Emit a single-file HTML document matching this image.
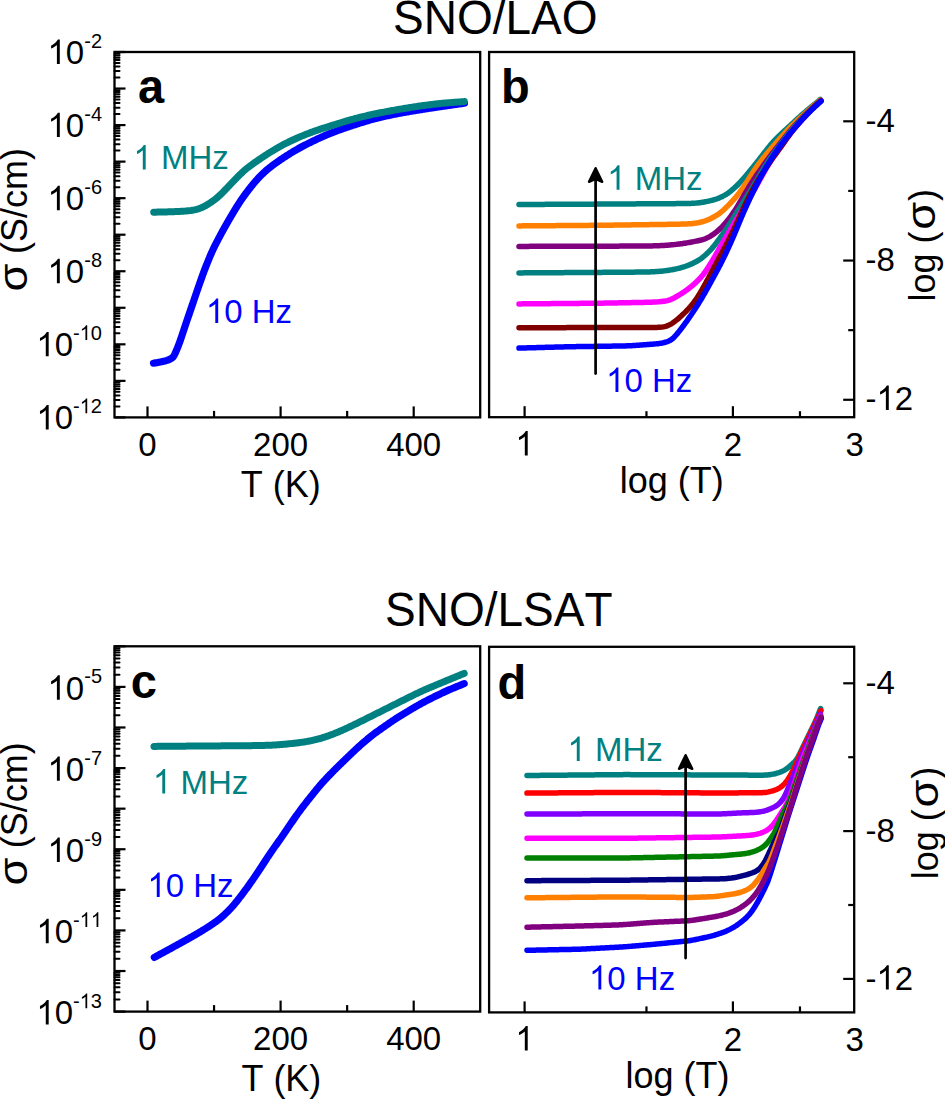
<!DOCTYPE html>
<html><head><meta charset="utf-8"><style>html,body{margin:0;padding:0;background:#fff;}svg{display:block;}</style></head>
<body><svg width="945" height="1099" viewBox="0 0 945 1099" font-family="Liberation Sans, sans-serif" style="font-kerning:none">
<rect width="945" height="1099" fill="#fff"/>
<g transform="translate(393.00,34.10) scale(1,1.03)" fill="#000"><text x="0.00" y="0" font-size="46" xml:space="preserve">SNO/LAO</text></g>
<g transform="translate(385.00,626.30) scale(1,1.03)" fill="#000"><text x="0.00" y="0" font-size="46" xml:space="preserve">SNO/LSAT</text></g>
<path d="M153.50,363.20 L154.50,363.02 L155.49,362.85 L156.47,362.67 L157.77,362.43 L159.05,362.19 L160.30,361.95 L161.50,361.70 L162.66,361.45 L163.77,361.20 L164.82,360.94 L165.80,360.68 L166.93,360.35 L167.94,360.02 L169.01,359.62 L170.06,359.16 L171.03,358.64 L171.89,358.06 L172.69,357.36 L173.39,356.54 L173.95,355.67 L174.48,354.70 L174.95,353.75 L175.41,352.75 L175.86,351.75 L176.27,350.81 L176.72,349.77 L177.19,348.62 L177.59,347.64 L178.00,346.59 L178.42,345.50 L178.85,344.35 L179.29,343.17 L179.73,341.95 L180.17,340.70 L180.51,339.75 L180.84,338.79 L181.17,337.82 L181.51,336.85 L181.84,335.86 L182.17,334.88 L182.51,333.89 L182.84,332.90 L183.17,331.91 L183.51,330.91 L183.84,329.92 L184.17,328.92 L184.50,327.92 L184.83,326.93 L185.17,325.93 L185.50,324.93 L185.83,323.94 L186.16,322.94 L186.50,321.94 L186.83,320.95 L187.17,319.95 L187.51,318.96 L187.84,317.96 L188.18,316.97 L188.52,315.97 L188.86,314.98 L189.20,313.98 L189.54,312.99 L189.88,311.99 L190.22,311.00 L190.56,310.00 L190.90,309.01 L191.24,308.02 L191.58,307.02 L191.92,306.03 L192.26,305.03 L192.60,304.04 L192.94,303.04 L193.27,302.05 L193.61,301.05 L193.95,300.06 L194.29,299.06 L194.63,298.07 L194.97,297.07 L195.31,296.08 L195.65,295.09 L195.99,294.09 L196.33,293.10 L196.68,292.10 L197.02,291.11 L197.36,290.12 L197.70,289.12 L198.05,288.13 L198.39,287.14 L198.74,286.14 L199.08,285.15 L199.43,284.16 L199.77,283.17 L200.12,282.17 L200.47,281.18 L200.82,280.19 L201.17,279.20 L201.52,278.21 L201.87,277.22 L202.22,276.23 L202.58,275.24 L202.94,274.26 L203.30,273.27 L203.67,272.29 L204.04,271.30 L204.41,270.32 L204.79,269.34 L205.16,268.36 L205.54,267.38 L205.93,266.40 L206.31,265.42 L206.70,264.44 L207.09,263.47 L207.48,262.49 L207.87,261.52 L208.27,260.55 L208.66,259.57 L209.06,258.60 L209.47,257.63 L209.87,256.66 L210.28,255.70 L210.70,254.73 L211.12,253.77 L211.54,252.81 L211.97,251.85 L212.41,250.90 L212.85,249.94 L213.30,248.99 L213.75,248.05 L214.21,247.10 L214.67,246.16 L215.14,245.22 L215.61,244.29 L216.09,243.35 L216.57,242.42 L217.06,241.48 L217.54,240.55 L218.03,239.62 L218.52,238.69 L219.01,237.77 L219.51,236.84 L220.00,235.91 L220.50,234.99 L221.00,234.06 L221.50,233.14 L222.00,232.21 L222.50,231.29 L223.01,230.37 L223.51,229.45 L224.02,228.53 L224.53,227.61 L225.05,226.69 L225.56,225.78 L226.08,224.86 L226.60,223.95 L227.12,223.03 L227.64,222.12 L228.16,221.21 L228.69,220.30 L229.21,219.39 L229.74,218.48 L230.27,217.58 L230.81,216.67 L231.34,215.77 L231.88,214.86 L232.41,213.96 L232.95,213.06 L233.50,212.16 L234.04,211.26 L234.58,210.36 L235.13,209.46 L235.68,208.57 L236.23,207.67 L236.79,206.78 L237.35,205.89 L237.91,205.01 L238.47,204.12 L239.04,203.24 L239.62,202.36 L240.20,201.48 L240.78,200.61 L241.37,199.74 L241.96,198.88 L242.56,198.02 L243.17,197.16 L243.78,196.30 L244.39,195.45 L245.01,194.60 L245.63,193.76 L246.26,192.92 L246.89,192.08 L247.52,191.24 L248.16,190.40 L248.80,189.57 L249.44,188.74 L250.09,187.91 L250.74,187.08 L251.39,186.26 L252.05,185.44 L252.71,184.63 L253.38,183.82 L254.05,183.01 L254.73,182.21 L255.41,181.42 L256.10,180.63 L256.80,179.85 L257.50,179.07 L258.21,178.30 L258.93,177.53 L259.65,176.77 L260.39,176.02 L261.12,175.28 L261.87,174.54 L262.62,173.81 L263.38,173.09 L264.14,172.37 L264.92,171.67 L265.70,170.97 L266.48,170.28 L267.28,169.59 L268.08,168.92 L268.89,168.26 L269.71,167.60 L270.53,166.95 L271.36,166.31 L272.19,165.67 L273.03,165.04 L273.87,164.42 L274.72,163.80 L275.57,163.19 L276.43,162.58 L277.29,161.98 L278.15,161.38 L279.02,160.78 L279.88,160.19 L280.75,159.60 L281.62,159.01 L282.50,158.43 L283.37,157.85 L284.25,157.27 L285.13,156.69 L286.01,156.12 L286.89,155.55 L287.78,154.98 L288.66,154.42 L289.55,153.86 L290.44,153.31 L291.34,152.75 L292.23,152.21 L293.13,151.66 L294.03,151.13 L294.94,150.59 L295.85,150.07 L296.76,149.54 L297.67,149.03 L298.59,148.52 L299.51,148.01 L300.43,147.51 L301.36,147.01 L302.28,146.52 L303.21,146.03 L304.14,145.54 L305.08,145.06 L306.01,144.58 L306.95,144.11 L307.89,143.63 L308.82,143.16 L309.77,142.70 L310.71,142.23 L311.65,141.77 L312.60,141.31 L313.54,140.85 L314.49,140.40 L315.44,139.95 L316.39,139.50 L317.34,139.06 L318.29,138.61 L319.25,138.17 L320.20,137.73 L321.16,137.30 L322.12,136.87 L323.08,136.44 L324.04,136.01 L325.00,135.59 L325.96,135.17 L326.93,134.76 L327.89,134.35 L328.86,133.95 L329.84,133.55 L330.81,133.16 L331.79,132.78 L332.76,132.39 L333.74,132.02 L334.73,131.65 L335.71,131.28 L336.70,130.92 L337.68,130.56 L338.67,130.21 L339.66,129.85 L340.65,129.50 L341.64,129.15 L342.64,128.81 L343.63,128.46 L344.62,128.12 L345.62,127.78 L346.61,127.44 L347.61,127.10 L348.60,126.76 L349.60,126.43 L350.59,126.10 L351.59,125.77 L352.59,125.44 L353.59,125.11 L354.59,124.79 L355.59,124.47 L356.59,124.14 L357.59,123.83 L358.59,123.51 L359.59,123.19 L360.60,122.88 L361.60,122.57 L362.60,122.26 L363.61,121.95 L364.61,121.64 L365.62,121.34 L366.63,121.04 L367.63,120.74 L368.64,120.45 L369.65,120.16 L370.66,119.88 L371.68,119.60 L372.69,119.32 L373.70,119.05 L374.72,118.78 L375.74,118.52 L376.76,118.27 L377.77,118.01 L378.80,117.76 L379.82,117.52 L380.84,117.28 L381.86,117.03 L382.88,116.80 L383.91,116.56 L384.93,116.33 L385.96,116.09 L386.98,115.86 L388.01,115.63 L389.03,115.41 L390.06,115.19 L391.09,114.97 L392.12,114.75 L393.14,114.53 L394.17,114.32 L395.20,114.12 L396.23,113.91 L397.27,113.71 L398.30,113.51 L399.33,113.32 L400.36,113.13 L401.40,112.94 L402.43,112.75 L403.46,112.57 L404.50,112.38 L405.53,112.20 L406.57,112.02 L407.60,111.84 L408.64,111.66 L409.68,111.48 L410.71,111.31 L411.75,111.13 L412.78,110.95 L413.82,110.78 L414.86,110.60 L415.89,110.43 L416.93,110.26 L417.97,110.09 L419.00,109.92 L420.04,109.75 L421.08,109.58 L422.12,109.42 L423.15,109.25 L424.19,109.09 L425.23,108.93 L426.27,108.77 L427.31,108.61 L428.35,108.45 L429.39,108.29 L430.43,108.13 L431.46,107.97 L432.50,107.82 L433.54,107.66 L434.58,107.51 L435.62,107.35 L436.66,107.19 L437.70,107.04 L438.74,106.89 L439.78,106.73 L440.82,106.58 L441.86,106.43 L442.90,106.28 L443.94,106.12 L444.98,105.97 L446.02,105.82 L447.06,105.67 L448.10,105.52 L449.14,105.37 L450.18,105.23 L451.22,105.08 L452.26,104.93 L453.30,104.78 L454.34,104.63 L455.38,104.48 L456.42,104.33 L457.46,104.19 L458.50,104.04 L459.54,103.89 L460.58,103.74 L461.63,103.59 L462.67,103.45 L463.71,103.30 L464.40,103.20" fill="none" stroke="#0000ff" stroke-width="7.2" stroke-linecap="round" stroke-linejoin="round"/>
<path d="M153.70,212.20 L154.90,212.17 L156.10,212.15 L157.30,212.12 L158.50,212.09 L159.70,212.06 L160.90,212.04 L162.11,212.01 L163.31,211.98 L164.51,211.95 L165.71,211.92 L166.91,211.88 L168.11,211.85 L169.31,211.81 L170.50,211.78 L171.70,211.74 L172.90,211.70 L174.09,211.66 L175.29,211.62 L176.47,211.57 L177.66,211.52 L178.84,211.47 L180.01,211.41 L181.17,211.35 L182.31,211.29 L183.45,211.21 L184.57,211.13 L185.67,211.04 L186.75,210.95 L187.80,210.84 L188.83,210.73 L189.83,210.61 L191.04,210.45 L192.20,210.27 L193.32,210.08 L194.38,209.87 L195.41,209.64 L196.39,209.39 L197.52,209.07 L198.62,208.72 L199.69,208.34 L200.74,207.93 L201.80,207.48 L202.86,207.00 L203.76,206.56 L204.68,206.09 L205.63,205.59 L206.60,205.04 L207.59,204.46 L208.62,203.84 L209.67,203.17 L210.52,202.61 L211.39,202.02 L212.27,201.40 L213.16,200.76 L214.06,200.10 L214.95,199.41 L215.85,198.70 L216.74,197.97 L217.63,197.22 L218.52,196.45 L219.39,195.66 L220.26,194.86 L221.12,194.04 L221.97,193.21 L222.82,192.37 L223.66,191.52 L224.49,190.66 L225.32,189.79 L226.15,188.92 L226.97,188.05 L227.80,187.18 L228.62,186.30 L229.44,185.43 L230.27,184.56 L231.09,183.68 L231.92,182.81 L232.75,181.94 L233.58,181.08 L234.41,180.21 L235.25,179.35 L236.09,178.49 L236.93,177.64 L237.77,176.78 L238.62,175.94 L239.48,175.09 L240.33,174.25 L241.20,173.42 L242.07,172.60 L242.95,171.79 L243.84,170.98 L244.73,170.19 L245.64,169.41 L246.56,168.65 L247.49,167.90 L248.43,167.16 L249.38,166.43 L250.34,165.71 L251.31,165.00 L252.28,164.30 L253.26,163.60 L254.24,162.91 L255.22,162.22 L256.21,161.53 L257.19,160.85 L258.18,160.17 L259.17,159.49 L260.16,158.81 L261.16,158.14 L262.15,157.47 L263.15,156.80 L264.15,156.14 L265.16,155.48 L266.17,154.83 L267.18,154.18 L268.19,153.54 L269.21,152.90 L270.23,152.27 L271.25,151.64 L272.28,151.02 L273.31,150.40 L274.34,149.79 L275.37,149.17 L276.41,148.57 L277.45,147.96 L278.49,147.36 L279.53,146.76 L280.57,146.17 L281.62,145.59 L282.67,145.02 L283.73,144.45 L284.79,143.89 L285.86,143.34 L286.93,142.80 L288.00,142.27 L289.08,141.74 L290.17,141.23 L291.25,140.72 L292.34,140.21 L293.43,139.71 L294.53,139.22 L295.62,138.73 L296.72,138.24 L297.82,137.76 L298.92,137.29 L300.03,136.82 L301.13,136.35 L302.24,135.89 L303.35,135.43 L304.47,134.98 L305.58,134.54 L306.70,134.10 L307.82,133.66 L308.94,133.23 L310.06,132.80 L311.18,132.37 L312.31,131.95 L313.43,131.54 L314.56,131.13 L315.69,130.73 L316.83,130.33 L317.96,129.94 L319.10,129.56 L320.24,129.18 L321.38,128.81 L322.52,128.44 L323.67,128.08 L324.81,127.71 L325.96,127.35 L327.10,127.00 L328.25,126.64 L329.40,126.28 L330.54,125.93 L331.69,125.57 L332.84,125.21 L333.99,124.86 L335.13,124.50 L336.28,124.14 L337.43,123.79 L338.57,123.43 L339.72,123.08 L340.87,122.72 L342.02,122.37 L343.16,122.02 L344.31,121.67 L345.46,121.32 L346.61,120.97 L347.76,120.63 L348.92,120.30 L350.07,119.97 L351.23,119.64 L352.38,119.32 L353.54,119.01 L354.70,118.70 L355.86,118.40 L357.03,118.10 L358.19,117.80 L359.35,117.51 L360.52,117.21 L361.69,116.93 L362.85,116.64 L364.02,116.35 L365.19,116.07 L366.35,115.79 L367.52,115.52 L368.69,115.24 L369.86,114.98 L371.03,114.71 L372.21,114.45 L373.38,114.20 L374.55,113.95 L375.73,113.71 L376.91,113.47 L378.08,113.23 L379.26,113.00 L380.44,112.77 L381.62,112.54 L382.80,112.32 L383.98,112.09 L385.16,111.87 L386.34,111.65 L387.52,111.42 L388.70,111.20 L389.88,110.99 L391.06,110.77 L392.24,110.55 L393.43,110.34 L394.61,110.13 L395.79,109.92 L396.97,109.71 L398.16,109.51 L399.34,109.31 L400.53,109.11 L401.71,108.91 L402.90,108.71 L404.08,108.52 L405.27,108.32 L406.45,108.12 L407.64,107.93 L408.82,107.74 L410.01,107.54 L411.19,107.35 L412.38,107.16 L413.56,106.97 L414.75,106.79 L415.94,106.60 L417.12,106.42 L418.31,106.24 L419.50,106.07 L420.69,105.90 L421.88,105.73 L423.07,105.57 L424.26,105.41 L425.45,105.26 L426.64,105.10 L427.83,104.95 L429.02,104.80 L430.21,104.66 L431.41,104.51 L432.60,104.37 L433.79,104.22 L434.98,104.09 L436.18,103.95 L437.37,103.82 L438.57,103.69 L439.76,103.56 L440.95,103.44 L442.15,103.33 L443.34,103.21 L444.54,103.11 L445.74,103.00 L446.93,102.90 L448.13,102.81 L449.33,102.71 L450.53,102.62 L451.72,102.53 L452.92,102.44 L454.12,102.35 L455.32,102.26 L456.51,102.17 L457.71,102.09 L458.91,102.00 L460.11,101.91 L461.31,101.82 L462.50,101.73 L463.70,101.64 L464.30,101.60" fill="none" stroke="#008080" stroke-width="7" stroke-linecap="round" stroke-linejoin="round"/>
<rect x="114.50" y="52.00" width="365.70" height="365.40" fill="none" stroke="#000" stroke-width="2.3"/>
<line x1="114.50" y1="52.00" x2="125.50" y2="52.00" stroke="#000" stroke-width="2.2" stroke-linecap="butt"/>
<line x1="114.50" y1="77.54" x2="119.50" y2="77.54" stroke="#000" stroke-width="2.0" stroke-linecap="round"/>
<line x1="114.50" y1="71.11" x2="119.50" y2="71.11" stroke="#000" stroke-width="2.0" stroke-linecap="round"/>
<line x1="114.50" y1="66.54" x2="119.50" y2="66.54" stroke="#000" stroke-width="2.0" stroke-linecap="round"/>
<line x1="114.50" y1="63.00" x2="119.50" y2="63.00" stroke="#000" stroke-width="2.0" stroke-linecap="round"/>
<line x1="114.50" y1="60.11" x2="119.50" y2="60.11" stroke="#000" stroke-width="2.0" stroke-linecap="round"/>
<line x1="114.50" y1="57.66" x2="119.50" y2="57.66" stroke="#000" stroke-width="2.0" stroke-linecap="round"/>
<line x1="114.50" y1="55.54" x2="119.50" y2="55.54" stroke="#000" stroke-width="2.0" stroke-linecap="round"/>
<line x1="114.50" y1="53.67" x2="119.50" y2="53.67" stroke="#000" stroke-width="2.0" stroke-linecap="round"/>
<line x1="114.50" y1="88.54" x2="125.50" y2="88.54" stroke="#000" stroke-width="2.2" stroke-linecap="butt"/>
<line x1="114.50" y1="114.08" x2="119.50" y2="114.08" stroke="#000" stroke-width="2.0" stroke-linecap="round"/>
<line x1="114.50" y1="107.65" x2="119.50" y2="107.65" stroke="#000" stroke-width="2.0" stroke-linecap="round"/>
<line x1="114.50" y1="103.08" x2="119.50" y2="103.08" stroke="#000" stroke-width="2.0" stroke-linecap="round"/>
<line x1="114.50" y1="99.54" x2="119.50" y2="99.54" stroke="#000" stroke-width="2.0" stroke-linecap="round"/>
<line x1="114.50" y1="96.65" x2="119.50" y2="96.65" stroke="#000" stroke-width="2.0" stroke-linecap="round"/>
<line x1="114.50" y1="94.20" x2="119.50" y2="94.20" stroke="#000" stroke-width="2.0" stroke-linecap="round"/>
<line x1="114.50" y1="92.08" x2="119.50" y2="92.08" stroke="#000" stroke-width="2.0" stroke-linecap="round"/>
<line x1="114.50" y1="90.21" x2="119.50" y2="90.21" stroke="#000" stroke-width="2.0" stroke-linecap="round"/>
<line x1="114.50" y1="125.08" x2="125.50" y2="125.08" stroke="#000" stroke-width="2.2" stroke-linecap="butt"/>
<line x1="114.50" y1="150.62" x2="119.50" y2="150.62" stroke="#000" stroke-width="2.0" stroke-linecap="round"/>
<line x1="114.50" y1="144.19" x2="119.50" y2="144.19" stroke="#000" stroke-width="2.0" stroke-linecap="round"/>
<line x1="114.50" y1="139.62" x2="119.50" y2="139.62" stroke="#000" stroke-width="2.0" stroke-linecap="round"/>
<line x1="114.50" y1="136.08" x2="119.50" y2="136.08" stroke="#000" stroke-width="2.0" stroke-linecap="round"/>
<line x1="114.50" y1="133.19" x2="119.50" y2="133.19" stroke="#000" stroke-width="2.0" stroke-linecap="round"/>
<line x1="114.50" y1="130.74" x2="119.50" y2="130.74" stroke="#000" stroke-width="2.0" stroke-linecap="round"/>
<line x1="114.50" y1="128.62" x2="119.50" y2="128.62" stroke="#000" stroke-width="2.0" stroke-linecap="round"/>
<line x1="114.50" y1="126.75" x2="119.50" y2="126.75" stroke="#000" stroke-width="2.0" stroke-linecap="round"/>
<line x1="114.50" y1="161.62" x2="125.50" y2="161.62" stroke="#000" stroke-width="2.2" stroke-linecap="butt"/>
<line x1="114.50" y1="187.16" x2="119.50" y2="187.16" stroke="#000" stroke-width="2.0" stroke-linecap="round"/>
<line x1="114.50" y1="180.73" x2="119.50" y2="180.73" stroke="#000" stroke-width="2.0" stroke-linecap="round"/>
<line x1="114.50" y1="176.16" x2="119.50" y2="176.16" stroke="#000" stroke-width="2.0" stroke-linecap="round"/>
<line x1="114.50" y1="172.62" x2="119.50" y2="172.62" stroke="#000" stroke-width="2.0" stroke-linecap="round"/>
<line x1="114.50" y1="169.73" x2="119.50" y2="169.73" stroke="#000" stroke-width="2.0" stroke-linecap="round"/>
<line x1="114.50" y1="167.28" x2="119.50" y2="167.28" stroke="#000" stroke-width="2.0" stroke-linecap="round"/>
<line x1="114.50" y1="165.16" x2="119.50" y2="165.16" stroke="#000" stroke-width="2.0" stroke-linecap="round"/>
<line x1="114.50" y1="163.29" x2="119.50" y2="163.29" stroke="#000" stroke-width="2.0" stroke-linecap="round"/>
<line x1="114.50" y1="198.16" x2="125.50" y2="198.16" stroke="#000" stroke-width="2.2" stroke-linecap="butt"/>
<line x1="114.50" y1="223.70" x2="119.50" y2="223.70" stroke="#000" stroke-width="2.0" stroke-linecap="round"/>
<line x1="114.50" y1="217.27" x2="119.50" y2="217.27" stroke="#000" stroke-width="2.0" stroke-linecap="round"/>
<line x1="114.50" y1="212.70" x2="119.50" y2="212.70" stroke="#000" stroke-width="2.0" stroke-linecap="round"/>
<line x1="114.50" y1="209.16" x2="119.50" y2="209.16" stroke="#000" stroke-width="2.0" stroke-linecap="round"/>
<line x1="114.50" y1="206.27" x2="119.50" y2="206.27" stroke="#000" stroke-width="2.0" stroke-linecap="round"/>
<line x1="114.50" y1="203.82" x2="119.50" y2="203.82" stroke="#000" stroke-width="2.0" stroke-linecap="round"/>
<line x1="114.50" y1="201.70" x2="119.50" y2="201.70" stroke="#000" stroke-width="2.0" stroke-linecap="round"/>
<line x1="114.50" y1="199.83" x2="119.50" y2="199.83" stroke="#000" stroke-width="2.0" stroke-linecap="round"/>
<line x1="114.50" y1="234.70" x2="125.50" y2="234.70" stroke="#000" stroke-width="2.2" stroke-linecap="butt"/>
<line x1="114.50" y1="260.24" x2="119.50" y2="260.24" stroke="#000" stroke-width="2.0" stroke-linecap="round"/>
<line x1="114.50" y1="253.81" x2="119.50" y2="253.81" stroke="#000" stroke-width="2.0" stroke-linecap="round"/>
<line x1="114.50" y1="249.24" x2="119.50" y2="249.24" stroke="#000" stroke-width="2.0" stroke-linecap="round"/>
<line x1="114.50" y1="245.70" x2="119.50" y2="245.70" stroke="#000" stroke-width="2.0" stroke-linecap="round"/>
<line x1="114.50" y1="242.81" x2="119.50" y2="242.81" stroke="#000" stroke-width="2.0" stroke-linecap="round"/>
<line x1="114.50" y1="240.36" x2="119.50" y2="240.36" stroke="#000" stroke-width="2.0" stroke-linecap="round"/>
<line x1="114.50" y1="238.24" x2="119.50" y2="238.24" stroke="#000" stroke-width="2.0" stroke-linecap="round"/>
<line x1="114.50" y1="236.37" x2="119.50" y2="236.37" stroke="#000" stroke-width="2.0" stroke-linecap="round"/>
<line x1="114.50" y1="271.24" x2="125.50" y2="271.24" stroke="#000" stroke-width="2.2" stroke-linecap="butt"/>
<line x1="114.50" y1="296.78" x2="119.50" y2="296.78" stroke="#000" stroke-width="2.0" stroke-linecap="round"/>
<line x1="114.50" y1="290.35" x2="119.50" y2="290.35" stroke="#000" stroke-width="2.0" stroke-linecap="round"/>
<line x1="114.50" y1="285.78" x2="119.50" y2="285.78" stroke="#000" stroke-width="2.0" stroke-linecap="round"/>
<line x1="114.50" y1="282.24" x2="119.50" y2="282.24" stroke="#000" stroke-width="2.0" stroke-linecap="round"/>
<line x1="114.50" y1="279.35" x2="119.50" y2="279.35" stroke="#000" stroke-width="2.0" stroke-linecap="round"/>
<line x1="114.50" y1="276.90" x2="119.50" y2="276.90" stroke="#000" stroke-width="2.0" stroke-linecap="round"/>
<line x1="114.50" y1="274.78" x2="119.50" y2="274.78" stroke="#000" stroke-width="2.0" stroke-linecap="round"/>
<line x1="114.50" y1="272.91" x2="119.50" y2="272.91" stroke="#000" stroke-width="2.0" stroke-linecap="round"/>
<line x1="114.50" y1="307.78" x2="125.50" y2="307.78" stroke="#000" stroke-width="2.2" stroke-linecap="butt"/>
<line x1="114.50" y1="333.32" x2="119.50" y2="333.32" stroke="#000" stroke-width="2.0" stroke-linecap="round"/>
<line x1="114.50" y1="326.89" x2="119.50" y2="326.89" stroke="#000" stroke-width="2.0" stroke-linecap="round"/>
<line x1="114.50" y1="322.32" x2="119.50" y2="322.32" stroke="#000" stroke-width="2.0" stroke-linecap="round"/>
<line x1="114.50" y1="318.78" x2="119.50" y2="318.78" stroke="#000" stroke-width="2.0" stroke-linecap="round"/>
<line x1="114.50" y1="315.89" x2="119.50" y2="315.89" stroke="#000" stroke-width="2.0" stroke-linecap="round"/>
<line x1="114.50" y1="313.44" x2="119.50" y2="313.44" stroke="#000" stroke-width="2.0" stroke-linecap="round"/>
<line x1="114.50" y1="311.32" x2="119.50" y2="311.32" stroke="#000" stroke-width="2.0" stroke-linecap="round"/>
<line x1="114.50" y1="309.45" x2="119.50" y2="309.45" stroke="#000" stroke-width="2.0" stroke-linecap="round"/>
<line x1="114.50" y1="344.32" x2="125.50" y2="344.32" stroke="#000" stroke-width="2.2" stroke-linecap="butt"/>
<line x1="114.50" y1="369.86" x2="119.50" y2="369.86" stroke="#000" stroke-width="2.0" stroke-linecap="round"/>
<line x1="114.50" y1="363.43" x2="119.50" y2="363.43" stroke="#000" stroke-width="2.0" stroke-linecap="round"/>
<line x1="114.50" y1="358.86" x2="119.50" y2="358.86" stroke="#000" stroke-width="2.0" stroke-linecap="round"/>
<line x1="114.50" y1="355.32" x2="119.50" y2="355.32" stroke="#000" stroke-width="2.0" stroke-linecap="round"/>
<line x1="114.50" y1="352.43" x2="119.50" y2="352.43" stroke="#000" stroke-width="2.0" stroke-linecap="round"/>
<line x1="114.50" y1="349.98" x2="119.50" y2="349.98" stroke="#000" stroke-width="2.0" stroke-linecap="round"/>
<line x1="114.50" y1="347.86" x2="119.50" y2="347.86" stroke="#000" stroke-width="2.0" stroke-linecap="round"/>
<line x1="114.50" y1="345.99" x2="119.50" y2="345.99" stroke="#000" stroke-width="2.0" stroke-linecap="round"/>
<line x1="114.50" y1="380.86" x2="125.50" y2="380.86" stroke="#000" stroke-width="2.2" stroke-linecap="butt"/>
<line x1="114.50" y1="406.40" x2="119.50" y2="406.40" stroke="#000" stroke-width="2.0" stroke-linecap="round"/>
<line x1="114.50" y1="399.97" x2="119.50" y2="399.97" stroke="#000" stroke-width="2.0" stroke-linecap="round"/>
<line x1="114.50" y1="395.40" x2="119.50" y2="395.40" stroke="#000" stroke-width="2.0" stroke-linecap="round"/>
<line x1="114.50" y1="391.86" x2="119.50" y2="391.86" stroke="#000" stroke-width="2.0" stroke-linecap="round"/>
<line x1="114.50" y1="388.97" x2="119.50" y2="388.97" stroke="#000" stroke-width="2.0" stroke-linecap="round"/>
<line x1="114.50" y1="386.52" x2="119.50" y2="386.52" stroke="#000" stroke-width="2.0" stroke-linecap="round"/>
<line x1="114.50" y1="384.40" x2="119.50" y2="384.40" stroke="#000" stroke-width="2.0" stroke-linecap="round"/>
<line x1="114.50" y1="382.53" x2="119.50" y2="382.53" stroke="#000" stroke-width="2.0" stroke-linecap="round"/>
<line x1="114.50" y1="417.40" x2="125.50" y2="417.40" stroke="#000" stroke-width="2.2" stroke-linecap="butt"/>
<line x1="147.50" y1="417.40" x2="147.50" y2="406.40" stroke="#000" stroke-width="2.2" stroke-linecap="butt"/>
<line x1="214.05" y1="417.40" x2="214.05" y2="410.90" stroke="#000" stroke-width="2.2" stroke-linecap="butt"/>
<line x1="280.60" y1="417.40" x2="280.60" y2="406.40" stroke="#000" stroke-width="2.2" stroke-linecap="butt"/>
<line x1="347.15" y1="417.40" x2="347.15" y2="410.90" stroke="#000" stroke-width="2.2" stroke-linecap="butt"/>
<line x1="413.70" y1="417.40" x2="413.70" y2="406.40" stroke="#000" stroke-width="2.2" stroke-linecap="butt"/>
<g transform="translate(47.51,64.00) scale(1,1.03)" fill="#000"><path d="M763,0 L583,0 L583,1147 Q518,1085 412,1023 Q306,961 222,930 L222,1104 Q373,1175 486,1276 Q599,1377 646,1472 L763,1472 Z" transform="translate(0.00,0) scale(0.01611,-0.01611)"/><text x="18.35" y="0" font-size="33" xml:space="preserve">0</text></g>
<g transform="translate(84.22,47.80) scale(1,1.03)" fill="#000"><text x="0.00" y="0" font-size="20" xml:space="preserve">-2</text></g>
<g transform="translate(47.51,137.08) scale(1,1.03)" fill="#000"><path d="M763,0 L583,0 L583,1147 Q518,1085 412,1023 Q306,961 222,930 L222,1104 Q373,1175 486,1276 Q599,1377 646,1472 L763,1472 Z" transform="translate(0.00,0) scale(0.01611,-0.01611)"/><text x="18.35" y="0" font-size="33" xml:space="preserve">0</text></g>
<g transform="translate(84.22,120.88) scale(1,1.03)" fill="#000"><text x="0.00" y="0" font-size="20" xml:space="preserve">-4</text></g>
<g transform="translate(47.51,210.16) scale(1,1.03)" fill="#000"><path d="M763,0 L583,0 L583,1147 Q518,1085 412,1023 Q306,961 222,930 L222,1104 Q373,1175 486,1276 Q599,1377 646,1472 L763,1472 Z" transform="translate(0.00,0) scale(0.01611,-0.01611)"/><text x="18.35" y="0" font-size="33" xml:space="preserve">0</text></g>
<g transform="translate(84.22,193.96) scale(1,1.03)" fill="#000"><text x="0.00" y="0" font-size="20" xml:space="preserve">-6</text></g>
<g transform="translate(47.51,283.24) scale(1,1.03)" fill="#000"><path d="M763,0 L583,0 L583,1147 Q518,1085 412,1023 Q306,961 222,930 L222,1104 Q373,1175 486,1276 Q599,1377 646,1472 L763,1472 Z" transform="translate(0.00,0) scale(0.01611,-0.01611)"/><text x="18.35" y="0" font-size="33" xml:space="preserve">0</text></g>
<g transform="translate(84.22,267.04) scale(1,1.03)" fill="#000"><text x="0.00" y="0" font-size="20" xml:space="preserve">-8</text></g>
<g transform="translate(36.39,356.32) scale(1,1.03)" fill="#000"><path d="M763,0 L583,0 L583,1147 Q518,1085 412,1023 Q306,961 222,930 L222,1104 Q373,1175 486,1276 Q599,1377 646,1472 L763,1472 Z" transform="translate(0.00,0) scale(0.01611,-0.01611)"/><text x="18.35" y="0" font-size="33" xml:space="preserve">0</text></g>
<g transform="translate(73.09,340.12) scale(1,1.03)" fill="#000"><text x="0.00" y="0" font-size="20" xml:space="preserve">-</text><path d="M763,0 L583,0 L583,1147 Q518,1085 412,1023 Q306,961 222,930 L222,1104 Q373,1175 486,1276 Q599,1377 646,1472 L763,1472 Z" transform="translate(6.66,0) scale(0.00977,-0.00977)"/><text x="17.78" y="0" font-size="20" xml:space="preserve">0</text></g>
<g transform="translate(36.39,429.40) scale(1,1.03)" fill="#000"><path d="M763,0 L583,0 L583,1147 Q518,1085 412,1023 Q306,961 222,930 L222,1104 Q373,1175 486,1276 Q599,1377 646,1472 L763,1472 Z" transform="translate(0.00,0) scale(0.01611,-0.01611)"/><text x="18.35" y="0" font-size="33" xml:space="preserve">0</text></g>
<g transform="translate(73.09,413.20) scale(1,1.03)" fill="#000"><text x="0.00" y="0" font-size="20" xml:space="preserve">-</text><path d="M763,0 L583,0 L583,1147 Q518,1085 412,1023 Q306,961 222,930 L222,1104 Q373,1175 486,1276 Q599,1377 646,1472 L763,1472 Z" transform="translate(6.66,0) scale(0.00977,-0.00977)"/><text x="17.78" y="0" font-size="20" xml:space="preserve">2</text></g>
<g transform="translate(147.50,455.50) scale(1,1.03)" fill="#000"><text x="-9.18" y="0" font-size="33" xml:space="preserve">0</text></g>
<g transform="translate(280.60,455.50) scale(1,1.03)" fill="#000"><text x="-27.53" y="0" font-size="33" xml:space="preserve">200</text></g>
<g transform="translate(413.70,455.50) scale(1,1.03)" fill="#000"><text x="-27.53" y="0" font-size="33" xml:space="preserve">400</text></g>
<g transform="translate(240.80,497.00) scale(1,1.03)" fill="#000"><text x="0.00" y="0" font-size="36" xml:space="preserve">T (K)</text></g>
<g transform="translate(26.60,254.00) rotate(-90) scale(1,1.03)" fill="#000"><text x="0.00" y="0" font-size="36" xml:space="preserve">(S/cm)</text></g>
<g transform="translate(26.60,277.40) rotate(-90) scale(1.12,1)" fill="#000"><text x="-12.50" y="0" font-size="40.5" xml:space="preserve">σ</text></g>
<g transform="translate(138.00,103.30) scale(1,1.03)" fill="#000"><text x="0.00" y="0" font-size="47" font-weight="bold" xml:space="preserve">a</text></g>
<path d="M519.00,204.50 L520.20,204.49 L521.40,204.49 L522.60,204.48 L523.81,204.48 L525.01,204.47 L526.21,204.46 L527.41,204.46 L528.61,204.45 L529.81,204.45 L531.01,204.44 L532.21,204.43 L533.42,204.43 L534.62,204.42 L535.82,204.42 L537.02,204.41 L538.22,204.41 L539.42,204.40 L540.62,204.39 L541.82,204.39 L543.03,204.38 L544.23,204.38 L545.43,204.37 L546.63,204.36 L547.83,204.36 L549.03,204.35 L550.23,204.35 L551.44,204.34 L552.64,204.33 L553.84,204.33 L555.04,204.32 L556.24,204.32 L557.44,204.31 L558.64,204.30 L559.84,204.30 L561.05,204.29 L562.25,204.29 L563.45,204.28 L564.65,204.27 L565.85,204.27 L567.05,204.26 L568.25,204.26 L569.45,204.25 L570.66,204.24 L571.86,204.24 L573.06,204.23 L574.26,204.23 L575.46,204.22 L576.66,204.22 L577.86,204.21 L579.06,204.20 L580.27,204.20 L581.47,204.19 L582.67,204.19 L583.87,204.18 L585.07,204.17 L586.27,204.17 L587.47,204.16 L588.68,204.16 L589.88,204.15 L591.08,204.14 L592.28,204.14 L593.48,204.13 L594.68,204.13 L595.88,204.12 L597.08,204.11 L598.29,204.11 L599.49,204.10 L600.69,204.09 L601.89,204.09 L603.09,204.08 L604.29,204.07 L605.49,204.06 L606.69,204.06 L607.90,204.05 L609.10,204.04 L610.30,204.04 L611.50,204.03 L612.70,204.02 L613.90,204.01 L615.10,204.01 L616.30,204.00 L617.51,203.99 L618.71,203.98 L619.91,203.98 L621.11,203.97 L622.31,203.96 L623.51,203.95 L624.71,203.95 L625.92,203.94 L627.12,203.93 L628.32,203.92 L629.52,203.92 L630.72,203.91 L631.92,203.90 L633.12,203.89 L634.32,203.89 L635.53,203.88 L636.73,203.87 L637.93,203.86 L639.13,203.86 L640.33,203.85 L641.53,203.84 L642.73,203.83 L643.93,203.83 L645.14,203.82 L646.34,203.81 L647.54,203.80 L648.74,203.80 L649.94,203.79 L651.14,203.78 L652.34,203.77 L653.54,203.77 L654.75,203.76 L655.95,203.75 L657.15,203.74 L658.35,203.74 L659.55,203.73 L660.75,203.72 L661.95,203.71 L663.16,203.71 L664.36,203.70 L665.56,203.69 L666.76,203.68 L667.96,203.68 L669.16,203.67 L670.36,203.66 L671.56,203.65 L672.77,203.65 L673.97,203.64 L675.17,203.63 L676.37,203.62 L677.57,203.61 L678.77,203.61 L679.97,203.60 L681.17,203.59 L682.37,203.58 L683.57,203.57 L684.77,203.55 L685.97,203.54 L687.16,203.52 L688.36,203.49 L689.55,203.46 L690.74,203.41 L691.92,203.36 L693.10,203.30 L694.27,203.22 L695.43,203.13 L696.59,203.03 L697.73,202.91 L698.86,202.79 L699.97,202.65 L701.07,202.49 L702.15,202.33 L703.21,202.16 L704.25,201.98 L705.26,201.80 L706.24,201.61 L707.43,201.36 L708.58,201.11 L709.68,200.86 L710.73,200.61 L711.73,200.36 L712.87,200.06 L713.94,199.77 L714.95,199.47 L716.05,199.12 L717.09,198.76 L718.06,198.40 L719.10,197.97 L720.10,197.54 L721.07,197.10 L722.02,196.65 L722.96,196.19 L723.90,195.69 L724.86,195.16 L725.72,194.64 L726.60,194.08 L727.52,193.46 L728.34,192.88 L729.19,192.25 L730.07,191.57 L730.99,190.83 L731.78,190.16 L732.60,189.45 L733.45,188.71 L734.32,187.92 L735.22,187.09 L735.95,186.40 L736.69,185.68 L737.45,184.94 L738.21,184.19 L738.98,183.41 L739.75,182.61 L740.53,181.79 L741.31,180.96 L742.09,180.11 L742.87,179.25 L743.64,178.38 L744.42,177.49 L745.19,176.60 L745.96,175.69 L746.73,174.78 L747.49,173.87 L748.26,172.95 L749.02,172.03 L749.79,171.11 L750.55,170.18 L751.31,169.25 L752.07,168.32 L752.82,167.39 L753.58,166.46 L754.33,165.53 L755.08,164.59 L755.83,163.65 L756.58,162.71 L757.33,161.77 L758.07,160.82 L758.81,159.88 L759.55,158.93 L760.29,157.98 L761.02,157.03 L761.76,156.09 L762.50,155.14 L763.23,154.19 L763.97,153.24 L764.71,152.29 L765.45,151.34 L766.19,150.40 L766.93,149.46 L767.68,148.52 L768.43,147.58 L769.18,146.65 L769.94,145.72 L770.71,144.79 L771.48,143.88 L772.27,142.97 L773.06,142.07 L773.86,141.19 L774.68,140.31 L775.50,139.44 L776.34,138.58 L777.18,137.73 L778.04,136.89 L778.90,136.06 L779.77,135.23 L780.64,134.40 L781.52,133.58 L782.40,132.77 L783.28,131.95 L784.16,131.13 L785.04,130.32 L785.93,129.50 L786.81,128.69 L787.69,127.87 L788.57,127.06 L789.45,126.24 L790.33,125.42 L791.21,124.60 L792.08,123.78 L792.96,122.96 L793.84,122.14 L794.72,121.32 L795.60,120.51 L796.48,119.69 L797.37,118.88 L798.26,118.07 L799.15,117.26 L800.04,116.46 L800.94,115.67 L801.84,114.87 L802.74,114.08 L803.65,113.30 L804.56,112.51 L805.48,111.73 L806.39,110.96 L807.31,110.18 L808.23,109.41 L809.15,108.64 L810.07,107.87 L811.00,107.10 L811.92,106.34 L812.85,105.57 L813.78,104.81 L814.71,104.05 L815.64,103.29 L816.57,102.53 L817.50,101.77 L818.43,101.01 L819.37,100.26 L820.30,99.50" fill="none" stroke="#008080" stroke-width="5.5" stroke-linecap="round" stroke-linejoin="round"/>
<path d="M519.00,225.90 L520.20,225.89 L521.40,225.88 L522.60,225.87 L523.80,225.86 L525.01,225.86 L526.21,225.85 L527.41,225.84 L528.61,225.83 L529.81,225.82 L531.01,225.81 L532.21,225.80 L533.41,225.79 L534.61,225.78 L535.82,225.78 L537.02,225.77 L538.22,225.76 L539.42,225.75 L540.62,225.74 L541.82,225.73 L543.02,225.72 L544.22,225.71 L545.42,225.70 L546.63,225.70 L547.83,225.69 L549.03,225.68 L550.23,225.67 L551.43,225.66 L552.63,225.65 L553.83,225.64 L555.03,225.63 L556.23,225.62 L557.44,225.62 L558.64,225.61 L559.84,225.60 L561.04,225.59 L562.24,225.58 L563.44,225.57 L564.64,225.56 L565.84,225.55 L567.04,225.54 L568.25,225.54 L569.45,225.53 L570.65,225.52 L571.85,225.51 L573.05,225.50 L574.25,225.49 L575.45,225.48 L576.65,225.47 L577.85,225.46 L579.06,225.46 L580.26,225.45 L581.46,225.44 L582.66,225.43 L583.86,225.42 L585.06,225.41 L586.26,225.40 L587.46,225.39 L588.66,225.38 L589.87,225.37 L591.07,225.37 L592.27,225.36 L593.47,225.35 L594.67,225.34 L595.87,225.33 L597.07,225.31 L598.27,225.30 L599.47,225.29 L600.68,225.28 L601.88,225.26 L603.08,225.25 L604.28,225.24 L605.48,225.22 L606.68,225.21 L607.88,225.19 L609.08,225.17 L610.28,225.16 L611.49,225.14 L612.69,225.13 L613.89,225.11 L615.09,225.09 L616.29,225.08 L617.49,225.06 L618.69,225.04 L619.89,225.03 L621.09,225.01 L622.29,224.99 L623.50,224.98 L624.70,224.96 L625.90,224.94 L627.10,224.93 L628.30,224.91 L629.50,224.89 L630.70,224.88 L631.90,224.86 L633.10,224.84 L634.30,224.83 L635.51,224.81 L636.71,224.80 L637.91,224.78 L639.11,224.76 L640.31,224.75 L641.51,224.73 L642.71,224.71 L643.91,224.70 L645.11,224.68 L646.32,224.66 L647.52,224.65 L648.72,224.63 L649.92,224.61 L651.12,224.60 L652.32,224.58 L653.52,224.56 L654.72,224.55 L655.92,224.53 L657.12,224.51 L658.33,224.50 L659.53,224.48 L660.73,224.46 L661.93,224.45 L663.13,224.43 L664.33,224.42 L665.53,224.40 L666.73,224.38 L667.93,224.36 L669.13,224.35 L670.33,224.33 L671.53,224.31 L672.73,224.29 L673.93,224.27 L675.13,224.25 L676.33,224.23 L677.52,224.21 L678.72,224.18 L679.91,224.15 L681.10,224.12 L682.28,224.09 L683.46,224.06 L684.64,224.02 L685.80,223.97 L686.96,223.92 L688.10,223.86 L689.24,223.80 L690.35,223.72 L691.45,223.64 L692.53,223.54 L693.59,223.42 L694.62,223.29 L695.63,223.15 L696.85,222.95 L698.03,222.74 L699.16,222.51 L700.23,222.26 L701.26,222.01 L702.24,221.76 L703.36,221.44 L704.40,221.12 L705.38,220.79 L706.45,220.40 L707.45,220.00 L708.39,219.60 L709.41,219.13 L710.39,218.66 L711.34,218.20 L712.28,217.73 L713.21,217.26 L714.16,216.76 L715.14,216.23 L716.01,215.72 L716.91,215.17 L717.84,214.55 L718.67,213.97 L719.53,213.33 L720.42,212.63 L721.34,211.88 L722.14,211.20 L722.96,210.47 L723.80,209.71 L724.67,208.90 L725.56,208.04 L726.29,207.34 L727.03,206.61 L727.78,205.86 L728.54,205.09 L729.31,204.30 L730.08,203.50 L730.86,202.68 L731.64,201.84 L732.43,200.99 L733.21,200.13 L733.99,199.26 L734.76,198.37 L735.53,197.47 L736.29,196.56 L737.04,195.64 L737.79,194.71 L738.53,193.78 L739.26,192.83 L739.98,191.88 L740.70,190.91 L741.40,189.95 L742.10,188.97 L742.79,187.99 L743.47,187.00 L744.14,186.01 L744.81,185.01 L745.46,184.01 L746.12,183.00 L746.76,181.99 L747.41,180.97 L748.05,179.96 L748.69,178.94 L749.33,177.93 L749.97,176.91 L750.62,175.90 L751.26,174.89 L751.91,173.88 L752.57,172.87 L753.23,171.87 L753.89,170.87 L754.56,169.87 L755.24,168.88 L755.92,167.89 L756.61,166.91 L757.30,165.93 L758.00,164.96 L758.71,163.99 L759.42,163.02 L760.14,162.06 L760.87,161.11 L761.60,160.16 L762.34,159.21 L763.09,158.27 L763.84,157.34 L764.60,156.40 L765.36,155.48 L766.12,154.55 L766.89,153.63 L767.66,152.70 L768.43,151.79 L769.21,150.87 L769.99,149.95 L770.77,149.04 L771.55,148.13 L772.34,147.22 L773.13,146.32 L773.91,145.41 L774.71,144.51 L775.50,143.60 L776.29,142.70 L777.08,141.80 L777.88,140.90 L778.67,140.00 L779.47,139.10 L780.27,138.20 L781.07,137.30 L781.87,136.41 L782.67,135.51 L783.47,134.62 L784.28,133.73 L785.08,132.84 L785.90,131.96 L786.71,131.08 L787.53,130.20 L788.36,129.33 L789.19,128.46 L790.02,127.60 L790.87,126.75 L791.71,125.90 L792.56,125.05 L793.42,124.21 L794.28,123.37 L795.14,122.53 L796.01,121.70 L796.88,120.88 L797.75,120.05 L798.63,119.23 L799.51,118.41 L800.39,117.60 L801.28,116.79 L802.17,115.98 L803.06,115.18 L803.95,114.38 L804.85,113.58 L805.75,112.78 L806.65,111.98 L807.55,111.19 L808.45,110.40 L809.36,109.61 L810.26,108.82 L811.17,108.03 L812.07,107.24 L812.98,106.46 L813.89,105.67 L814.80,104.89 L815.71,104.10 L816.62,103.32 L817.54,102.54 L818.45,101.76 L819.36,100.98 L820.27,100.20 L820.50,100.00" fill="none" stroke="#ff8000" stroke-width="5.5" stroke-linecap="round" stroke-linejoin="round"/>
<path d="M519.00,246.40 L520.20,246.40 L521.40,246.39 L522.60,246.39 L523.80,246.39 L525.01,246.39 L526.21,246.38 L527.41,246.38 L528.61,246.38 L529.81,246.37 L531.01,246.37 L532.21,246.37 L533.41,246.36 L534.62,246.36 L535.82,246.36 L537.02,246.36 L538.22,246.35 L539.42,246.35 L540.62,246.35 L541.82,246.34 L543.02,246.34 L544.22,246.34 L545.43,246.33 L546.63,246.33 L547.83,246.33 L549.03,246.33 L550.23,246.32 L551.43,246.32 L552.63,246.32 L553.83,246.31 L555.04,246.31 L556.24,246.31 L557.44,246.31 L558.64,246.30 L559.84,246.30 L561.04,246.30 L562.24,246.29 L563.44,246.29 L564.65,246.29 L565.85,246.28 L567.05,246.28 L568.25,246.28 L569.45,246.28 L570.65,246.27 L571.85,246.27 L573.05,246.27 L574.25,246.26 L575.46,246.26 L576.66,246.26 L577.86,246.25 L579.06,246.25 L580.26,246.25 L581.46,246.25 L582.66,246.24 L583.86,246.24 L585.07,246.24 L586.27,246.23 L587.47,246.23 L588.67,246.23 L589.87,246.22 L591.07,246.22 L592.27,246.22 L593.47,246.22 L594.67,246.21 L595.88,246.21 L597.08,246.21 L598.28,246.20 L599.48,246.20 L600.68,246.19 L601.88,246.19 L603.08,246.19 L604.28,246.18 L605.49,246.18 L606.69,246.17 L607.89,246.17 L609.09,246.16 L610.29,246.16 L611.49,246.15 L612.69,246.15 L613.89,246.14 L615.09,246.14 L616.30,246.13 L617.50,246.13 L618.70,246.13 L619.90,246.12 L621.10,246.12 L622.30,246.11 L623.50,246.11 L624.70,246.10 L625.91,246.10 L627.11,246.09 L628.31,246.09 L629.51,246.08 L630.71,246.08 L631.91,246.07 L633.11,246.07 L634.31,246.06 L635.52,246.06 L636.72,246.05 L637.92,246.05 L639.12,246.04 L640.32,246.03 L641.52,246.03 L642.72,246.02 L643.92,246.01 L645.12,246.00 L646.33,245.99 L647.53,245.97 L648.73,245.95 L649.93,245.93 L651.13,245.91 L652.33,245.88 L653.53,245.85 L654.73,245.82 L655.93,245.78 L657.13,245.74 L658.33,245.69 L659.53,245.64 L660.73,245.59 L661.93,245.53 L663.13,245.46 L664.32,245.39 L665.52,245.31 L666.71,245.23 L667.91,245.14 L669.10,245.05 L670.29,244.95 L671.47,244.84 L672.65,244.73 L673.83,244.62 L675.00,244.49 L676.17,244.36 L677.32,244.23 L678.47,244.09 L679.60,243.95 L680.72,243.80 L681.83,243.65 L682.91,243.49 L683.98,243.34 L685.03,243.18 L686.05,243.02 L687.05,242.85 L688.26,242.65 L689.43,242.45 L690.55,242.24 L691.62,242.04 L692.64,241.85 L693.82,241.62 L694.92,241.40 L695.97,241.18 L696.97,240.98 L698.07,240.75 L699.11,240.52 L700.10,240.29 L701.18,240.03 L702.22,239.75 L703.24,239.44 L704.24,239.10 L705.24,238.72 L706.26,238.29 L707.29,237.82 L708.22,237.35 L709.19,236.84 L710.19,236.26 L711.09,235.72 L712.02,235.12 L712.99,234.47 L713.83,233.88 L714.69,233.25 L715.57,232.58 L716.48,231.86 L717.41,231.09 L718.35,230.28 L719.11,229.60 L719.88,228.89 L720.65,228.16 L721.43,227.40 L722.20,226.61 L722.97,225.80 L723.74,224.97 L724.51,224.12 L725.27,223.25 L726.03,222.37 L726.78,221.47 L727.53,220.55 L728.26,219.63 L728.99,218.69 L729.72,217.75 L730.43,216.79 L731.14,215.83 L731.84,214.86 L732.53,213.88 L733.21,212.90 L733.88,211.91 L734.55,210.91 L735.21,209.91 L735.85,208.90 L736.50,207.88 L737.13,206.87 L737.76,205.84 L738.38,204.82 L739.00,203.79 L739.62,202.76 L740.23,201.72 L740.84,200.69 L741.45,199.65 L742.06,198.62 L742.66,197.58 L743.27,196.55 L743.88,195.51 L744.49,194.48 L745.11,193.45 L745.72,192.42 L746.34,191.39 L746.96,190.36 L747.59,189.33 L748.21,188.30 L748.84,187.28 L749.46,186.26 L750.09,185.23 L750.73,184.21 L751.36,183.19 L752.00,182.18 L752.65,181.16 L753.29,180.15 L753.95,179.15 L754.61,178.14 L755.27,177.14 L755.94,176.15 L756.62,175.16 L757.30,174.17 L757.98,173.18 L758.67,172.20 L759.36,171.21 L760.06,170.23 L760.75,169.25 L761.45,168.28 L762.15,167.30 L762.84,166.32 L763.54,165.35 L764.25,164.37 L764.95,163.40 L765.65,162.42 L766.36,161.45 L767.07,160.48 L767.77,159.51 L768.48,158.54 L769.20,157.57 L769.91,156.61 L770.63,155.65 L771.35,154.68 L772.07,153.73 L772.80,152.77 L773.53,151.82 L774.26,150.87 L775.00,149.92 L775.74,148.97 L776.49,148.03 L777.23,147.09 L777.98,146.15 L778.73,145.21 L779.48,144.28 L780.23,143.34 L780.97,142.39 L781.72,141.45 L782.46,140.51 L783.20,139.56 L783.94,138.62 L784.68,137.67 L785.42,136.73 L786.16,135.78 L786.90,134.84 L787.65,133.90 L788.41,132.97 L789.17,132.04 L789.94,131.12 L790.71,130.20 L791.49,129.29 L792.28,128.39 L793.07,127.49 L793.87,126.59 L794.67,125.70 L795.48,124.81 L796.29,123.93 L797.11,123.05 L797.93,122.17 L798.75,121.30 L799.58,120.43 L800.41,119.56 L801.25,118.70 L802.09,117.84 L802.94,116.99 L803.79,116.14 L804.64,115.30 L805.50,114.45 L806.36,113.62 L807.22,112.78 L808.09,111.95 L808.96,111.12 L809.83,110.30 L810.71,109.48 L811.59,108.67 L812.48,107.86 L813.37,107.05 L814.26,106.25 L815.16,105.45 L816.06,104.66 L816.96,103.86 L817.86,103.07 L818.76,102.28 L819.67,101.49 L820.57,100.70 L820.80,100.50" fill="none" stroke="#800080" stroke-width="5.5" stroke-linecap="round" stroke-linejoin="round"/>
<path d="M519.00,272.90 L520.20,272.89 L521.40,272.89 L522.60,272.88 L523.80,272.87 L525.00,272.86 L526.21,272.86 L527.41,272.85 L528.61,272.84 L529.81,272.83 L531.01,272.83 L532.21,272.82 L533.41,272.81 L534.61,272.80 L535.81,272.80 L537.01,272.79 L538.21,272.78 L539.42,272.77 L540.62,272.77 L541.82,272.76 L543.02,272.75 L544.22,272.74 L545.42,272.74 L546.62,272.73 L547.82,272.72 L549.02,272.71 L550.22,272.71 L551.42,272.70 L552.63,272.69 L553.83,272.69 L555.03,272.68 L556.23,272.67 L557.43,272.66 L558.63,272.66 L559.83,272.65 L561.03,272.64 L562.23,272.63 L563.43,272.63 L564.63,272.62 L565.84,272.61 L567.04,272.60 L568.24,272.60 L569.44,272.59 L570.64,272.58 L571.84,272.57 L573.04,272.57 L574.24,272.56 L575.44,272.55 L576.64,272.54 L577.84,272.54 L579.05,272.53 L580.25,272.52 L581.45,272.51 L582.65,272.51 L583.85,272.50 L585.05,272.49 L586.25,272.48 L587.45,272.48 L588.65,272.47 L589.85,272.46 L591.05,272.45 L592.26,272.45 L593.46,272.44 L594.66,272.43 L595.86,272.42 L597.06,272.42 L598.26,272.41 L599.46,272.40 L600.66,272.39 L601.86,272.38 L603.06,272.37 L604.26,272.36 L605.47,272.36 L606.67,272.35 L607.87,272.34 L609.07,272.33 L610.27,272.32 L611.47,272.31 L612.67,272.30 L613.87,272.29 L615.07,272.28 L616.27,272.27 L617.47,272.26 L618.68,272.25 L619.88,272.24 L621.08,272.23 L622.28,272.22 L623.48,272.21 L624.68,272.20 L625.88,272.19 L627.08,272.18 L628.28,272.17 L629.48,272.16 L630.68,272.15 L631.89,272.14 L633.09,272.14 L634.29,272.13 L635.49,272.12 L636.69,272.11 L637.89,272.09 L639.09,272.08 L640.29,272.07 L641.49,272.06 L642.69,272.04 L643.89,272.03 L645.09,272.01 L646.29,271.98 L647.49,271.96 L648.69,271.92 L649.89,271.89 L651.09,271.84 L652.29,271.80 L653.49,271.74 L654.69,271.68 L655.88,271.61 L657.08,271.54 L658.27,271.45 L659.46,271.36 L660.65,271.26 L661.83,271.14 L663.01,271.02 L664.19,270.89 L665.36,270.74 L666.52,270.59 L667.67,270.43 L668.82,270.26 L669.95,270.08 L671.06,269.89 L672.17,269.70 L673.25,269.50 L674.31,269.29 L675.36,269.07 L676.37,268.85 L677.37,268.63 L678.57,268.34 L679.73,268.05 L680.84,267.75 L681.90,267.46 L682.91,267.16 L683.88,266.86 L684.97,266.50 L686.01,266.15 L686.98,265.79 L688.05,265.39 L689.05,264.99 L690.00,264.59 L691.03,264.14 L692.02,263.69 L692.98,263.23 L693.93,262.77 L694.88,262.29 L695.84,261.79 L696.82,261.25 L697.71,260.74 L698.63,260.18 L699.59,259.58 L700.44,259.00 L701.32,258.38 L702.23,257.69 L703.17,256.93 L703.98,256.25 L704.81,255.53 L705.66,254.76 L706.54,253.95 L707.43,253.10 L708.16,252.39 L708.90,251.66 L709.64,250.90 L710.38,250.12 L711.13,249.31 L711.87,248.48 L712.61,247.63 L713.35,246.75 L714.07,245.86 L714.80,244.95 L715.51,244.03 L716.23,243.09 L716.93,242.15 L717.64,241.19 L718.34,240.23 L719.04,239.26 L719.74,238.30 L720.44,237.32 L721.14,236.35 L721.84,235.38 L722.54,234.40 L723.23,233.43 L723.93,232.45 L724.62,231.47 L725.30,230.48 L725.99,229.50 L726.66,228.50 L727.33,227.51 L727.99,226.51 L728.65,225.50 L729.29,224.49 L729.93,223.48 L730.57,222.46 L731.20,221.44 L731.82,220.41 L732.45,219.39 L733.07,218.36 L733.69,217.33 L734.31,216.31 L734.93,215.28 L735.56,214.25 L736.18,213.23 L736.81,212.21 L737.45,211.19 L738.09,210.17 L738.73,209.16 L739.38,208.15 L740.03,207.14 L740.69,206.14 L741.35,205.13 L742.01,204.13 L742.67,203.13 L743.33,202.13 L743.99,201.12 L744.64,200.12 L745.29,199.11 L745.94,198.10 L746.58,197.08 L747.21,196.06 L747.84,195.04 L748.46,194.01 L749.09,192.99 L749.70,191.96 L750.32,190.93 L750.94,189.90 L751.55,188.86 L752.16,187.83 L752.77,186.80 L753.39,185.76 L754.00,184.73 L754.61,183.70 L755.22,182.66 L755.83,181.63 L756.45,180.60 L757.06,179.57 L757.67,178.53 L758.28,177.50 L758.90,176.47 L759.51,175.43 L760.12,174.40 L760.74,173.37 L761.35,172.34 L761.97,171.31 L762.58,170.28 L763.20,169.25 L763.83,168.22 L764.45,167.20 L765.08,166.18 L765.72,165.16 L766.36,164.15 L767.01,163.14 L767.67,162.14 L768.34,161.14 L769.01,160.14 L769.69,159.16 L770.38,158.17 L771.07,157.19 L771.76,156.21 L772.46,155.24 L773.17,154.27 L773.88,153.30 L774.59,152.33 L775.30,151.36 L776.02,150.40 L776.74,149.44 L777.45,148.48 L778.18,147.51 L778.90,146.55 L779.62,145.60 L780.34,144.64 L781.07,143.68 L781.79,142.72 L782.51,141.76 L783.23,140.80 L783.96,139.84 L784.68,138.89 L785.41,137.93 L786.14,136.97 L786.87,136.02 L787.60,135.08 L788.34,134.13 L789.09,133.19 L789.84,132.25 L790.60,131.32 L791.36,130.40 L792.13,129.48 L792.90,128.56 L793.68,127.64 L794.46,126.73 L795.25,125.83 L796.04,124.92 L796.84,124.03 L797.64,123.13 L798.44,122.24 L799.26,121.36 L800.07,120.48 L800.90,119.61 L801.72,118.74 L802.56,117.88 L803.40,117.02 L804.24,116.16 L805.09,115.32 L805.94,114.47 L806.80,113.63 L807.66,112.79 L808.52,111.96 L809.39,111.13 L810.27,110.31 L811.14,109.49 L812.03,108.68 L812.91,107.87 L813.80,107.06 L814.69,106.26 L815.59,105.46 L816.49,104.66 L817.39,103.87 L818.29,103.07 L819.19,102.28 L820.10,101.49 L821.00,100.70" fill="none" stroke="#008080" stroke-width="5.5" stroke-linecap="round" stroke-linejoin="round"/>
<path d="M519.00,303.90 L520.20,303.89 L521.40,303.88 L522.60,303.87 L523.80,303.86 L525.01,303.85 L526.21,303.84 L527.41,303.83 L528.61,303.82 L529.81,303.81 L531.01,303.80 L532.21,303.79 L533.41,303.78 L534.61,303.77 L535.81,303.75 L537.02,303.74 L538.22,303.73 L539.42,303.72 L540.62,303.71 L541.82,303.70 L543.02,303.69 L544.22,303.68 L545.42,303.67 L546.62,303.66 L547.83,303.65 L549.03,303.64 L550.23,303.63 L551.43,303.62 L552.63,303.61 L553.83,303.60 L555.03,303.59 L556.23,303.58 L557.43,303.57 L558.64,303.56 L559.84,303.55 L561.04,303.54 L562.24,303.53 L563.44,303.52 L564.64,303.51 L565.84,303.50 L567.04,303.48 L568.24,303.47 L569.44,303.46 L570.65,303.45 L571.85,303.44 L573.05,303.43 L574.25,303.42 L575.45,303.41 L576.65,303.40 L577.85,303.39 L579.05,303.38 L580.25,303.37 L581.46,303.36 L582.66,303.35 L583.86,303.34 L585.06,303.33 L586.26,303.32 L587.46,303.31 L588.66,303.30 L589.86,303.29 L591.06,303.28 L592.26,303.26 L593.47,303.25 L594.67,303.24 L595.87,303.23 L597.07,303.21 L598.27,303.20 L599.47,303.18 L600.67,303.17 L601.87,303.15 L603.07,303.13 L604.27,303.11 L605.48,303.09 L606.68,303.07 L607.88,303.05 L609.08,303.03 L610.28,303.01 L611.48,302.99 L612.68,302.97 L613.88,302.95 L615.08,302.93 L616.28,302.90 L617.49,302.88 L618.69,302.86 L619.89,302.84 L621.09,302.82 L622.29,302.79 L623.49,302.77 L624.69,302.75 L625.89,302.73 L627.09,302.71 L628.29,302.69 L629.49,302.66 L630.69,302.64 L631.90,302.62 L633.10,302.60 L634.30,302.58 L635.50,302.55 L636.70,302.53 L637.89,302.51 L639.09,302.49 L640.29,302.47 L641.49,302.44 L642.68,302.42 L643.87,302.40 L645.06,302.37 L646.24,302.35 L647.42,302.32 L648.60,302.29 L649.76,302.25 L650.92,302.21 L652.06,302.17 L653.20,302.12 L654.32,302.07 L655.42,302.01 L656.50,301.94 L657.57,301.87 L658.61,301.79 L659.62,301.70 L660.86,301.59 L662.04,301.46 L663.18,301.32 L664.27,301.17 L665.31,301.00 L666.30,300.81 L667.42,300.56 L668.46,300.27 L669.44,299.96 L670.50,299.57 L671.50,299.16 L672.43,298.74 L673.44,298.26 L674.40,297.76 L675.33,297.26 L676.24,296.74 L677.15,296.21 L678.07,295.66 L679.02,295.09 L679.88,294.56 L680.78,294.00 L681.73,293.39 L682.58,292.84 L683.48,292.25 L684.42,291.61 L685.40,290.93 L686.26,290.32 L687.15,289.68 L688.06,289.00 L689.01,288.27 L689.98,287.51 L690.77,286.88 L691.57,286.22 L692.38,285.54 L693.21,284.83 L694.03,284.11 L694.87,283.36 L695.70,282.60 L696.53,281.82 L697.36,281.02 L698.18,280.20 L698.99,279.36 L699.80,278.50 L700.59,277.63 L701.36,276.74 L702.12,275.83 L702.87,274.90 L703.61,273.97 L704.32,273.01 L705.03,272.05 L705.72,271.08 L706.41,270.09 L707.08,269.10 L707.74,268.10 L708.40,267.10 L709.05,266.09 L709.69,265.08 L710.32,264.06 L710.95,263.03 L711.57,262.01 L712.19,260.98 L712.80,259.94 L713.40,258.91 L714.01,257.87 L714.61,256.83 L715.20,255.78 L715.80,254.74 L716.39,253.70 L716.98,252.65 L717.58,251.61 L718.17,250.56 L718.76,249.52 L719.36,248.48 L719.96,247.44 L720.56,246.40 L721.16,245.36 L721.76,244.32 L722.37,243.28 L722.97,242.24 L723.57,241.20 L724.18,240.16 L724.78,239.13 L725.39,238.09 L725.99,237.05 L726.59,236.01 L727.20,234.97 L727.80,233.93 L728.40,232.90 L729.00,231.86 L729.61,230.82 L730.21,229.78 L730.81,228.74 L731.42,227.70 L732.02,226.66 L732.63,225.63 L733.24,224.59 L733.85,223.56 L734.46,222.52 L735.08,221.49 L735.69,220.46 L736.31,219.43 L736.94,218.41 L737.56,217.38 L738.20,216.36 L738.83,215.34 L739.47,214.33 L740.11,213.31 L740.76,212.30 L741.41,211.29 L742.06,210.28 L742.71,209.27 L743.36,208.26 L744.01,207.26 L744.66,206.24 L745.30,205.23 L745.94,204.22 L746.57,203.20 L747.20,202.17 L747.82,201.15 L748.43,200.11 L749.04,199.08 L749.64,198.04 L750.24,197.00 L750.83,195.95 L751.42,194.91 L752.01,193.86 L752.60,192.81 L753.18,191.76 L753.77,190.72 L754.35,189.67 L754.93,188.62 L755.51,187.57 L756.10,186.51 L756.68,185.46 L757.26,184.41 L757.84,183.36 L758.42,182.31 L759.00,181.26 L759.58,180.21 L760.16,179.15 L760.74,178.10 L761.32,177.05 L761.90,176.00 L762.48,174.95 L763.06,173.90 L763.65,172.85 L764.23,171.80 L764.82,170.75 L765.41,169.71 L766.01,168.67 L766.62,167.63 L767.23,166.60 L767.85,165.57 L768.48,164.55 L769.11,163.54 L769.76,162.53 L770.42,161.52 L771.08,160.52 L771.75,159.53 L772.43,158.54 L773.11,157.55 L773.80,156.57 L774.49,155.59 L775.19,154.61 L775.89,153.63 L776.59,152.66 L777.29,151.68 L778.00,150.71 L778.70,149.74 L779.41,148.77 L780.11,147.79 L780.81,146.82 L781.52,145.85 L782.22,144.87 L782.91,143.89 L783.61,142.91 L784.30,141.93 L784.99,140.95 L785.67,139.97 L786.36,138.98 L787.05,138.00 L787.74,137.03 L788.44,136.05 L789.15,135.09 L789.86,134.13 L790.59,133.17 L791.33,132.23 L792.07,131.29 L792.83,130.36 L793.59,129.44 L794.37,128.52 L795.14,127.61 L795.93,126.70 L796.71,125.79 L797.50,124.89 L798.29,123.98 L799.09,123.08 L799.88,122.18 L800.68,121.29 L801.48,120.39 L802.28,119.49 L803.08,118.60 L803.89,117.71 L804.69,116.82 L805.50,115.93 L806.32,115.05 L807.13,114.17 L807.96,113.30 L808.78,112.43 L809.62,111.57 L810.46,110.71 L811.31,109.86 L812.17,109.02 L813.03,108.19 L813.90,107.37 L814.77,106.55 L815.66,105.73 L816.54,104.92 L817.43,104.11 L818.32,103.31 L819.21,102.50 L820.11,101.70 L821.00,100.90" fill="none" stroke="#ff00ff" stroke-width="5.5" stroke-linecap="round" stroke-linejoin="round"/>
<path d="M519.00,327.80 L520.20,327.80 L521.40,327.79 L522.60,327.79 L523.81,327.78 L525.01,327.78 L526.21,327.77 L527.41,327.77 L528.61,327.76 L529.81,327.76 L531.01,327.76 L532.21,327.75 L533.42,327.75 L534.62,327.74 L535.82,327.74 L537.02,327.73 L538.22,327.73 L539.42,327.72 L540.62,327.72 L541.82,327.72 L543.03,327.71 L544.23,327.71 L545.43,327.70 L546.63,327.70 L547.83,327.69 L549.03,327.69 L550.23,327.68 L551.44,327.68 L552.64,327.68 L553.84,327.67 L555.04,327.67 L556.24,327.66 L557.44,327.66 L558.64,327.65 L559.84,327.65 L561.05,327.64 L562.25,327.64 L563.45,327.64 L564.65,327.63 L565.85,327.63 L567.05,327.62 L568.25,327.62 L569.46,327.61 L570.66,327.61 L571.86,327.60 L573.06,327.60 L574.26,327.60 L575.46,327.59 L576.66,327.59 L577.86,327.58 L579.07,327.58 L580.27,327.57 L581.47,327.57 L582.67,327.56 L583.87,327.56 L585.07,327.56 L586.27,327.55 L587.47,327.55 L588.68,327.54 L589.88,327.54 L591.08,327.53 L592.28,327.53 L593.48,327.53 L594.68,327.52 L595.88,327.52 L597.09,327.52 L598.29,327.52 L599.49,327.51 L600.69,327.51 L601.89,327.51 L603.09,327.51 L604.29,327.51 L605.49,327.51 L606.70,327.51 L607.90,327.52 L609.10,327.52 L610.30,327.52 L611.50,327.52 L612.70,327.52 L613.90,327.53 L615.11,327.53 L616.31,327.53 L617.51,327.53 L618.71,327.53 L619.91,327.54 L621.11,327.54 L622.31,327.54 L623.51,327.54 L624.71,327.54 L625.91,327.55 L627.11,327.55 L628.31,327.55 L629.51,327.55 L630.71,327.56 L631.91,327.56 L633.10,327.56 L634.29,327.56 L635.48,327.56 L636.67,327.57 L637.85,327.57 L639.02,327.57 L640.19,327.57 L641.35,327.57 L642.50,327.58 L643.64,327.58 L644.76,327.58 L645.87,327.58 L646.95,327.58 L648.02,327.58 L649.07,327.57 L650.09,327.57 L651.33,327.56 L652.53,327.54 L653.69,327.52 L654.79,327.49 L655.86,327.46 L656.87,327.42 L658.03,327.37 L659.12,327.30 L660.16,327.23 L661.30,327.13 L662.37,327.01 L663.38,326.86 L664.48,326.64 L665.52,326.38 L666.53,326.06 L667.51,325.70 L668.47,325.30 L669.44,324.85 L670.41,324.34 L671.40,323.77 L672.29,323.20 L673.21,322.58 L674.03,321.99 L674.88,321.35 L675.77,320.66 L676.69,319.92 L677.50,319.26 L678.33,318.56 L679.19,317.82 L680.07,317.04 L680.98,316.22 L681.72,315.54 L682.48,314.84 L683.24,314.12 L684.02,313.37 L684.80,312.60 L685.58,311.82 L686.37,311.01 L687.16,310.19 L687.95,309.35 L688.73,308.50 L689.51,307.63 L690.29,306.75 L691.05,305.85 L691.81,304.94 L692.56,304.02 L693.29,303.08 L694.02,302.13 L694.73,301.18 L695.43,300.21 L696.11,299.23 L696.78,298.24 L697.44,297.24 L698.09,296.24 L698.73,295.22 L699.35,294.20 L699.97,293.17 L700.58,292.14 L701.19,291.10 L701.78,290.06 L702.38,289.02 L702.97,287.97 L703.55,286.92 L704.14,285.87 L704.72,284.82 L705.30,283.77 L705.87,282.71 L706.45,281.66 L707.02,280.60 L707.59,279.54 L708.16,278.49 L708.73,277.43 L709.29,276.37 L709.86,275.31 L710.42,274.25 L710.98,273.19 L711.55,272.13 L712.11,271.06 L712.67,270.00 L713.23,268.94 L713.79,267.87 L714.34,266.81 L714.90,265.75 L715.46,264.68 L716.02,263.62 L716.58,262.56 L717.15,261.50 L717.71,260.44 L718.28,259.38 L718.85,258.32 L719.42,257.27 L720.00,256.21 L720.58,255.16 L721.15,254.11 L721.73,253.05 L722.31,252.00 L722.88,250.95 L723.46,249.89 L724.03,248.83 L724.59,247.77 L725.15,246.71 L725.71,245.65 L726.26,244.58 L726.80,243.51 L727.35,242.44 L727.88,241.37 L728.42,240.29 L728.95,239.21 L729.48,238.14 L730.01,237.06 L730.54,235.98 L731.06,234.90 L731.59,233.82 L732.11,232.73 L732.63,231.65 L733.14,230.57 L733.66,229.48 L734.17,228.39 L734.68,227.31 L735.19,226.22 L735.70,225.13 L736.20,224.04 L736.71,222.95 L737.21,221.86 L737.72,220.77 L738.22,219.68 L738.73,218.59 L739.23,217.50 L739.73,216.41 L740.24,215.32 L740.74,214.23 L741.25,213.14 L741.75,212.05 L742.26,210.96 L742.76,209.87 L743.27,208.78 L743.78,207.69 L744.29,206.60 L744.80,205.52 L745.31,204.43 L745.83,203.34 L746.34,202.26 L746.86,201.18 L747.38,200.09 L747.91,199.01 L748.44,197.93 L748.97,196.86 L749.51,195.78 L750.05,194.71 L750.60,193.65 L751.15,192.58 L751.71,191.52 L752.28,190.46 L752.85,189.41 L753.43,188.36 L754.02,187.31 L754.61,186.26 L755.20,185.22 L755.80,184.18 L756.40,183.14 L757.01,182.10 L757.62,181.07 L758.24,180.04 L758.86,179.01 L759.49,177.99 L760.12,176.97 L760.76,175.95 L761.40,174.93 L762.05,173.92 L762.69,172.91 L763.35,171.90 L764.00,170.90 L764.66,169.89 L765.32,168.89 L765.99,167.89 L766.65,166.89 L767.32,165.89 L768.00,164.90 L768.67,163.90 L769.35,162.91 L770.03,161.92 L770.72,160.94 L771.40,159.95 L772.09,158.97 L772.78,157.99 L773.48,157.01 L774.17,156.03 L774.87,155.05 L775.57,154.07 L776.28,153.10 L776.98,152.13 L777.69,151.15 L778.39,150.18 L779.10,149.21 L779.81,148.24 L780.52,147.27 L781.23,146.30 L781.94,145.33 L782.64,144.36 L783.34,143.39 L784.04,142.41 L784.74,141.43 L785.43,140.45 L786.13,139.47 L786.82,138.49 L787.51,137.52 L788.21,136.54 L788.91,135.56 L789.61,134.59 L790.33,133.63 L791.05,132.67 L791.78,131.72 L792.51,130.77 L793.25,129.83 L794.01,128.89 L794.76,127.96 L795.53,127.03 L796.29,126.11 L797.06,125.19 L797.84,124.28 L798.62,123.36 L799.41,122.45 L800.19,121.55 L800.99,120.65 L801.78,119.75 L802.58,118.85 L803.39,117.96 L804.19,117.07 L805.01,116.19 L805.82,115.30 L806.64,114.43 L807.47,113.56 L808.30,112.69 L809.13,111.83 L809.98,110.98 L810.83,110.13 L811.69,109.29 L812.55,108.46 L813.42,107.64 L814.30,106.82 L815.18,106.01 L816.07,105.20 L816.96,104.39 L817.86,103.59 L818.75,102.79 L819.65,102.00 L820.55,101.20 L821.00,100.80" fill="none" stroke="#800000" stroke-width="5.5" stroke-linecap="round" stroke-linejoin="round"/>
<path d="M519.00,348.10 L520.20,348.07 L521.40,348.03 L522.60,348.00 L523.80,347.97 L525.00,347.94 L526.20,347.90 L527.40,347.87 L528.60,347.84 L529.81,347.80 L531.01,347.77 L532.21,347.74 L533.41,347.70 L534.61,347.67 L535.81,347.64 L537.01,347.61 L538.21,347.57 L539.41,347.54 L540.61,347.51 L541.81,347.47 L543.01,347.44 L544.21,347.41 L545.41,347.37 L546.61,347.34 L547.81,347.31 L549.01,347.28 L550.22,347.24 L551.42,347.21 L552.62,347.18 L553.82,347.14 L555.02,347.11 L556.22,347.08 L557.42,347.05 L558.62,347.01 L559.82,346.98 L561.02,346.95 L562.22,346.92 L563.42,346.89 L564.62,346.86 L565.82,346.83 L567.02,346.80 L568.22,346.77 L569.43,346.75 L570.63,346.72 L571.83,346.70 L573.03,346.68 L574.23,346.65 L575.43,346.64 L576.63,346.62 L577.83,346.60 L579.03,346.58 L580.23,346.56 L581.43,346.55 L582.63,346.53 L583.84,346.51 L585.04,346.50 L586.24,346.48 L587.44,346.46 L588.64,346.45 L589.84,346.43 L591.04,346.42 L592.24,346.40 L593.44,346.38 L594.64,346.37 L595.84,346.35 L597.05,346.34 L598.25,346.32 L599.45,346.30 L600.65,346.29 L601.85,346.27 L603.05,346.25 L604.25,346.24 L605.45,346.22 L606.65,346.21 L607.85,346.19 L609.05,346.17 L610.26,346.16 L611.46,346.14 L612.66,346.12 L613.86,346.11 L615.06,346.09 L616.26,346.07 L617.46,346.06 L618.66,346.04 L619.86,346.02 L621.06,346.00 L622.26,345.97 L623.46,345.95 L624.66,345.92 L625.86,345.88 L627.06,345.84 L628.26,345.80 L629.46,345.75 L630.65,345.69 L631.85,345.63 L633.04,345.56 L634.23,345.49 L635.41,345.42 L636.60,345.34 L637.78,345.26 L638.95,345.18 L640.11,345.09 L641.27,345.01 L642.42,344.92 L643.55,344.84 L644.67,344.76 L645.77,344.68 L646.86,344.59 L647.93,344.51 L648.97,344.44 L649.99,344.36 L651.23,344.26 L652.43,344.17 L653.58,344.07 L654.68,343.98 L655.74,343.88 L656.75,343.78 L657.89,343.65 L658.98,343.51 L660.00,343.37 L661.13,343.18 L662.19,342.99 L663.19,342.78 L664.27,342.52 L665.31,342.23 L666.32,341.93 L667.31,341.59 L668.28,341.22 L669.25,340.79 L670.21,340.30 L671.17,339.71 L672.01,339.10 L672.85,338.39 L673.58,337.71 L674.33,336.95 L675.09,336.12 L675.89,335.23 L676.57,334.44 L677.28,333.60 L678.01,332.73 L678.76,331.81 L679.53,330.85 L680.16,330.05 L680.80,329.23 L681.44,328.39 L682.09,327.53 L682.75,326.65 L683.42,325.75 L684.09,324.84 L684.76,323.91 L685.44,322.97 L686.12,322.03 L686.80,321.08 L687.48,320.11 L688.16,319.15 L688.84,318.17 L689.52,317.20 L690.20,316.21 L690.87,315.23 L691.55,314.24 L692.22,313.24 L692.88,312.25 L693.55,311.25 L694.21,310.25 L694.87,309.25 L695.53,308.24 L696.18,307.24 L696.83,306.22 L697.47,305.21 L698.11,304.19 L698.74,303.17 L699.37,302.15 L700.00,301.13 L700.62,300.10 L701.23,299.07 L701.85,298.04 L702.46,297.00 L703.07,295.97 L703.67,294.93 L704.27,293.89 L704.87,292.85 L705.46,291.80 L706.05,290.76 L706.64,289.71 L707.22,288.66 L707.80,287.61 L708.38,286.56 L708.96,285.51 L709.54,284.45 L710.12,283.40 L710.70,282.35 L711.27,281.30 L711.85,280.24 L712.43,279.19 L713.01,278.14 L713.58,277.08 L714.16,276.03 L714.74,274.98 L715.31,273.92 L715.88,272.87 L716.45,271.81 L717.02,270.75 L717.59,269.69 L718.15,268.63 L718.71,267.57 L719.27,266.51 L719.83,265.44 L720.38,264.38 L720.93,263.31 L721.47,262.24 L722.01,261.17 L722.55,260.09 L723.09,259.02 L723.62,257.94 L724.15,256.86 L724.67,255.78 L725.19,254.70 L725.70,253.61 L726.22,252.53 L726.73,251.44 L727.23,250.35 L727.74,249.26 L728.24,248.17 L728.74,247.08 L729.23,245.98 L729.73,244.89 L730.22,243.79 L730.71,242.70 L731.19,241.60 L731.68,240.50 L732.16,239.40 L732.64,238.30 L733.12,237.20 L733.60,236.10 L734.07,234.99 L734.55,233.89 L735.01,232.78 L735.48,231.68 L735.94,230.57 L736.41,229.46 L736.87,228.35 L737.32,227.24 L737.78,226.13 L738.24,225.02 L738.70,223.91 L739.16,222.80 L739.62,221.69 L740.08,220.58 L740.54,219.47 L741.01,218.37 L741.48,217.26 L741.95,216.16 L742.42,215.06 L742.90,213.95 L743.38,212.85 L743.86,211.75 L744.35,210.65 L744.83,209.56 L745.32,208.46 L745.81,207.36 L746.30,206.27 L746.80,205.17 L747.29,204.08 L747.79,202.99 L748.29,201.89 L748.79,200.80 L749.30,199.71 L749.81,198.62 L750.31,197.54 L750.83,196.45 L751.34,195.36 L751.86,194.28 L752.38,193.20 L752.90,192.12 L753.43,191.04 L753.96,189.96 L754.50,188.89 L755.04,187.82 L755.58,186.75 L756.13,185.68 L756.69,184.61 L757.25,183.55 L757.81,182.49 L758.37,181.43 L758.93,180.37 L759.50,179.31 L760.07,178.25 L760.65,177.20 L761.22,176.15 L761.80,175.09 L762.38,174.04 L762.97,172.99 L763.55,171.95 L764.14,170.90 L764.74,169.86 L765.33,168.81 L765.93,167.77 L766.54,166.74 L767.14,165.70 L767.76,164.67 L768.38,163.64 L769.00,162.62 L769.63,161.59 L770.27,160.58 L770.91,159.56 L771.56,158.55 L772.22,157.55 L772.87,156.54 L773.54,155.54 L774.21,154.55 L774.88,153.55 L775.56,152.56 L776.24,151.57 L776.93,150.59 L777.62,149.61 L778.32,148.63 L779.02,147.65 L779.72,146.68 L780.43,145.71 L781.14,144.75 L781.86,143.78 L782.58,142.83 L783.31,141.87 L784.04,140.92 L784.78,139.97 L785.52,139.03 L786.26,138.09 L787.02,137.15 L787.77,136.22 L788.53,135.29 L789.30,134.36 L790.06,133.44 L790.83,132.52 L791.61,131.60 L792.38,130.68 L793.16,129.77 L793.94,128.85 L794.73,127.94 L795.51,127.04 L796.30,126.13 L797.09,125.23 L797.89,124.33 L798.69,123.43 L799.49,122.54 L800.29,121.65 L801.10,120.76 L801.92,119.88 L802.74,119.00 L803.56,118.13 L804.38,117.26 L805.21,116.39 L806.05,115.52 L806.88,114.66 L807.72,113.80 L808.56,112.95 L809.41,112.10 L810.27,111.25 L811.12,110.41 L811.99,109.58 L812.85,108.75 L813.72,107.92 L814.60,107.10 L815.47,106.28 L816.36,105.46 L817.24,104.65 L818.12,103.84 L819.01,103.02 L819.89,102.21 L820.78,101.40 L821.00,101.20" fill="none" stroke="#0000ff" stroke-width="5.5" stroke-linecap="round" stroke-linejoin="round"/>
<rect x="489.10" y="52.00" width="365.10" height="365.20" fill="none" stroke="#000" stroke-width="2.3"/>
<line x1="524.60" y1="417.20" x2="524.60" y2="406.20" stroke="#000" stroke-width="2.2" stroke-linecap="butt"/>
<line x1="646.46" y1="417.20" x2="646.46" y2="411.20" stroke="#000" stroke-width="2.2" stroke-linecap="butt"/>
<line x1="732.91" y1="417.20" x2="732.91" y2="406.20" stroke="#000" stroke-width="2.2" stroke-linecap="butt"/>
<line x1="799.97" y1="417.20" x2="799.97" y2="411.20" stroke="#000" stroke-width="2.2" stroke-linecap="butt"/>
<line x1="854.20" y1="121.30" x2="843.20" y2="121.30" stroke="#000" stroke-width="2.2" stroke-linecap="butt"/>
<line x1="854.20" y1="190.92" x2="848.20" y2="190.92" stroke="#000" stroke-width="2.2" stroke-linecap="butt"/>
<line x1="854.20" y1="260.54" x2="843.20" y2="260.54" stroke="#000" stroke-width="2.2" stroke-linecap="butt"/>
<line x1="854.20" y1="330.16" x2="848.20" y2="330.16" stroke="#000" stroke-width="2.2" stroke-linecap="butt"/>
<line x1="854.20" y1="399.78" x2="843.20" y2="399.78" stroke="#000" stroke-width="2.2" stroke-linecap="butt"/>
<g transform="translate(524.60,455.50) scale(1,1.03)" fill="#000"><path d="M763,0 L583,0 L583,1147 Q518,1085 412,1023 Q306,961 222,930 L222,1104 Q373,1175 486,1276 Q599,1377 646,1472 L763,1472 Z" transform="translate(-9.18,0) scale(0.01611,-0.01611)"/></g>
<g transform="translate(732.91,455.50) scale(1,1.03)" fill="#000"><text x="-9.18" y="0" font-size="33" xml:space="preserve">2</text></g>
<g transform="translate(854.77,455.50) scale(1,1.03)" fill="#000"><text x="-9.18" y="0" font-size="33" xml:space="preserve">3</text></g>
<g transform="translate(865.50,131.50) scale(1,1.03)" fill="#000"><text x="0.00" y="0" font-size="33" xml:space="preserve">-4</text></g>
<g transform="translate(865.50,270.74) scale(1,1.03)" fill="#000"><text x="0.00" y="0" font-size="33" xml:space="preserve">-8</text></g>
<g transform="translate(865.50,409.98) scale(1,1.03)" fill="#000"><text x="0.00" y="0" font-size="33" xml:space="preserve">-</text><path d="M763,0 L583,0 L583,1147 Q518,1085 412,1023 Q306,961 222,930 L222,1104 Q373,1175 486,1276 Q599,1377 646,1472 L763,1472 Z" transform="translate(10.99,0) scale(0.01611,-0.01611)"/><text x="29.34" y="0" font-size="33" xml:space="preserve">2</text></g>
<g transform="translate(619.70,492.80) scale(1,1.03)" fill="#000"><text x="0.00" y="0" font-size="36" xml:space="preserve">log (T)</text></g>
<g transform="translate(934.60,301.50) rotate(-90) scale(1,1.03)" fill="#000"><text x="0.00" y="0" font-size="36" xml:space="preserve">log (</text></g>
<g transform="translate(934.60,215.75) rotate(-90) scale(1.12,1)" fill="#000"><text x="-12.50" y="0" font-size="40.5" xml:space="preserve">σ</text></g>
<g transform="translate(934.60,201.00) rotate(-90) scale(1,1.03)" fill="#000"><text x="0.00" y="0" font-size="36" xml:space="preserve">)</text></g>
<g transform="translate(501.00,102.50) scale(1,1.03)" fill="#000"><text x="0.00" y="0" font-size="47" font-weight="bold" xml:space="preserve">b</text></g>
<path d="M154.00,746.40 L155.05,746.39 L156.10,746.38 L157.16,746.37 L158.21,746.36 L159.26,746.35 L160.31,746.35 L161.36,746.34 L162.41,746.33 L163.47,746.32 L164.52,746.31 L165.57,746.30 L166.62,746.29 L167.67,746.28 L168.72,746.27 L169.78,746.26 L170.83,746.25 L171.88,746.24 L172.93,746.24 L173.98,746.23 L175.04,746.22 L176.09,746.21 L177.14,746.20 L178.19,746.19 L179.24,746.18 L180.29,746.17 L181.35,746.16 L182.40,746.15 L183.45,746.14 L184.50,746.13 L185.55,746.13 L186.60,746.12 L187.66,746.11 L188.71,746.10 L189.76,746.09 L190.81,746.08 L191.86,746.07 L192.92,746.06 L193.97,746.05 L195.02,746.05 L196.07,746.04 L197.12,746.03 L198.17,746.02 L199.23,746.01 L200.28,746.01 L201.33,746.00 L202.38,745.99 L203.43,745.98 L204.48,745.98 L205.54,745.97 L206.59,745.96 L207.64,745.96 L208.69,745.95 L209.74,745.94 L210.80,745.94 L211.85,745.93 L212.90,745.92 L213.95,745.92 L215.00,745.91 L216.05,745.90 L217.11,745.90 L218.16,745.89 L219.21,745.88 L220.26,745.88 L221.31,745.87 L222.37,745.87 L223.42,745.86 L224.47,745.85 L225.52,745.85 L226.57,745.84 L227.62,745.83 L228.68,745.83 L229.73,745.82 L230.78,745.82 L231.83,745.81 L232.88,745.80 L233.93,745.80 L234.99,745.79 L236.04,745.78 L237.09,745.78 L238.14,745.77 L239.19,745.76 L240.25,745.75 L241.30,745.75 L242.35,745.74 L243.40,745.73 L244.45,745.72 L245.50,745.71 L246.56,745.70 L247.61,745.69 L248.66,745.68 L249.71,745.66 L250.76,745.65 L251.81,745.63 L252.87,745.62 L253.92,745.60 L254.97,745.58 L256.02,745.56 L257.07,745.54 L258.12,745.52 L259.18,745.50 L260.23,745.48 L261.28,745.46 L262.33,745.44 L263.38,745.41 L264.43,745.38 L265.48,745.36 L266.54,745.32 L267.59,745.29 L268.64,745.26 L269.69,745.22 L270.74,745.17 L271.79,745.13 L272.84,745.07 L273.89,745.02 L274.94,744.96 L275.99,744.89 L277.03,744.82 L278.08,744.75 L279.13,744.67 L280.18,744.59 L281.23,744.50 L282.28,744.41 L283.32,744.32 L284.37,744.23 L285.42,744.14 L286.46,744.04 L287.51,743.94 L288.56,743.84 L289.60,743.73 L290.65,743.63 L291.70,743.52 L292.74,743.41 L293.79,743.30 L294.83,743.18 L295.88,743.06 L296.92,742.94 L297.96,742.81 L299.01,742.68 L300.05,742.54 L301.09,742.39 L302.13,742.25 L303.17,742.09 L304.21,741.93 L305.24,741.76 L306.28,741.59 L307.32,741.41 L308.35,741.22 L309.38,741.02 L310.41,740.82 L311.44,740.61 L312.47,740.39 L313.49,740.16 L314.51,739.93 L315.53,739.68 L316.55,739.43 L317.57,739.16 L318.58,738.89 L319.59,738.61 L320.60,738.32 L321.61,738.03 L322.62,737.72 L323.62,737.41 L324.62,737.09 L325.61,736.76 L326.61,736.42 L327.60,736.08 L328.59,735.73 L329.58,735.37 L330.57,735.01 L331.55,734.64 L332.53,734.27 L333.51,733.89 L334.49,733.50 L335.47,733.11 L336.44,732.72 L337.41,732.32 L338.38,731.91 L339.35,731.50 L340.31,731.09 L341.28,730.67 L342.24,730.25 L343.20,729.82 L344.16,729.39 L345.12,728.95 L346.08,728.52 L347.03,728.08 L347.98,727.63 L348.93,727.18 L349.88,726.73 L350.83,726.28 L351.78,725.83 L352.73,725.37 L353.67,724.91 L354.62,724.45 L355.56,723.99 L356.51,723.52 L357.45,723.06 L358.39,722.59 L359.34,722.13 L360.28,721.66 L361.22,721.19 L362.17,720.73 L363.11,720.26 L364.05,719.79 L364.99,719.32 L365.93,718.86 L366.88,718.39 L367.82,717.92 L368.76,717.45 L369.70,716.98 L370.64,716.51 L371.58,716.04 L372.52,715.57 L373.47,715.10 L374.41,714.63 L375.35,714.16 L376.29,713.69 L377.23,713.22 L378.17,712.75 L379.11,712.28 L380.05,711.81 L380.99,711.34 L381.93,710.86 L382.87,710.39 L383.81,709.92 L384.75,709.45 L385.69,708.98 L386.63,708.50 L387.57,708.03 L388.51,707.56 L389.45,707.09 L390.39,706.62 L391.33,706.15 L392.27,705.67 L393.21,705.20 L394.15,704.73 L395.09,704.26 L396.03,703.79 L396.97,703.32 L397.91,702.85 L398.85,702.38 L399.79,701.91 L400.73,701.43 L401.67,700.96 L402.62,700.49 L403.56,700.02 L404.50,699.55 L405.44,699.08 L406.38,698.61 L407.32,698.14 L408.26,697.67 L409.20,697.21 L410.15,696.74 L411.09,696.27 L412.03,695.81 L412.97,695.34 L413.92,694.88 L414.86,694.42 L415.81,693.96 L416.76,693.51 L417.71,693.06 L418.66,692.61 L419.61,692.17 L420.57,691.73 L421.52,691.29 L422.48,690.86 L423.44,690.43 L424.40,690.00 L425.37,689.58 L426.33,689.16 L427.30,688.74 L428.26,688.33 L429.23,687.91 L430.20,687.50 L431.16,687.09 L432.13,686.68 L433.10,686.27 L434.07,685.87 L435.04,685.46 L436.01,685.05 L436.98,684.64 L437.95,684.24 L438.92,683.83 L439.89,683.43 L440.86,683.02 L441.83,682.62 L442.80,682.21 L443.78,681.81 L444.75,681.41 L445.72,681.00 L446.69,680.60 L447.66,680.20 L448.63,679.80 L449.61,679.40 L450.58,678.99 L451.55,678.59 L452.52,678.19 L453.50,677.79 L454.47,677.39 L455.44,676.99 L456.42,676.59 L457.39,676.20 L458.36,675.80 L459.33,675.40 L460.31,675.00 L461.28,674.60 L462.25,674.20 L463.23,673.80 L464.20,673.40" fill="none" stroke="#008080" stroke-width="7" stroke-linecap="round" stroke-linejoin="round"/>
<path d="M154.30,957.40 L155.36,956.83 L156.41,956.25 L157.47,955.68 L158.52,955.11 L159.58,954.53 L160.63,953.96 L161.69,953.39 L162.74,952.81 L163.80,952.24 L164.85,951.66 L165.91,951.09 L166.96,950.51 L168.02,949.94 L169.07,949.36 L170.12,948.78 L171.18,948.21 L172.23,947.63 L173.28,947.05 L174.33,946.47 L175.39,945.89 L176.44,945.31 L177.49,944.73 L178.54,944.15 L179.60,943.58 L180.65,943.00 L181.70,942.42 L182.75,941.84 L183.80,941.26 L184.86,940.68 L185.91,940.10 L186.96,939.52 L188.00,938.93 L189.05,938.34 L190.09,937.76 L191.14,937.16 L192.17,936.57 L193.21,935.98 L194.24,935.38 L195.26,934.78 L196.28,934.18 L197.29,933.59 L198.29,932.99 L199.28,932.40 L200.26,931.81 L201.22,931.23 L202.17,930.66 L203.09,930.09 L203.99,929.54 L204.87,929.00 L205.72,928.47 L206.75,927.82 L207.73,927.21 L208.66,926.61 L209.55,926.04 L210.39,925.49 L211.35,924.86 L212.25,924.25 L213.11,923.65 L213.94,923.07 L214.88,922.40 L215.81,921.73 L216.74,921.03 L217.56,920.42 L218.41,919.77 L219.29,919.08 L220.21,918.35 L221.01,917.69 L221.83,916.99 L222.69,916.25 L223.58,915.46 L224.50,914.63 L225.25,913.93 L226.01,913.21 L226.78,912.47 L227.56,911.70 L228.35,910.91 L229.14,910.10 L229.93,909.27 L230.72,908.42 L231.51,907.55 L232.29,906.67 L233.07,905.78 L233.84,904.88 L234.60,903.97 L235.36,903.04 L236.11,902.12 L236.86,901.18 L237.61,900.25 L238.35,899.30 L239.09,898.36 L239.83,897.41 L240.57,896.46 L241.30,895.51 L242.02,894.55 L242.75,893.60 L243.47,892.64 L244.19,891.67 L244.90,890.71 L245.61,889.74 L246.32,888.77 L247.03,887.80 L247.73,886.82 L248.42,885.84 L249.12,884.87 L249.81,883.88 L250.50,882.90 L251.19,881.92 L251.87,880.93 L252.56,879.94 L253.24,878.96 L253.92,877.97 L254.60,876.98 L255.28,875.98 L255.96,874.99 L256.63,874.00 L257.30,873.00 L257.97,872.01 L258.64,871.01 L259.31,870.01 L259.97,869.01 L260.63,868.00 L261.29,867.00 L261.94,865.99 L262.59,864.98 L263.24,863.97 L263.89,862.96 L264.54,861.95 L265.19,860.94 L265.84,859.93 L266.50,858.93 L267.15,857.92 L267.81,856.92 L268.48,855.92 L269.14,854.92 L269.82,853.93 L270.49,852.93 L271.17,851.95 L271.86,850.96 L272.55,849.97 L273.24,848.99 L273.93,848.01 L274.63,847.03 L275.32,846.05 L276.02,845.07 L276.72,844.10 L277.42,843.12 L278.11,842.14 L278.81,841.16 L279.50,840.18 L280.19,839.20 L280.88,838.22 L281.57,837.23 L282.25,836.24 L282.93,835.25 L283.61,834.26 L284.29,833.27 L284.96,832.28 L285.63,831.28 L286.31,830.29 L286.98,829.29 L287.65,828.30 L288.32,827.30 L289.00,826.31 L289.67,825.31 L290.35,824.32 L291.02,823.33 L291.70,822.34 L292.38,821.35 L293.06,820.36 L293.75,819.37 L294.43,818.38 L295.12,817.40 L295.81,816.42 L296.51,815.44 L297.20,814.46 L297.90,813.49 L298.61,812.51 L299.32,811.54 L300.03,810.57 L300.74,809.61 L301.46,808.65 L302.18,807.69 L302.91,806.73 L303.64,805.78 L304.37,804.83 L305.11,803.88 L305.85,802.93 L306.59,801.99 L307.34,801.05 L308.09,800.11 L308.84,799.17 L309.59,798.24 L310.34,797.30 L311.09,796.36 L311.84,795.42 L312.59,794.48 L313.34,793.55 L314.09,792.61 L314.84,791.67 L315.60,790.74 L316.35,789.81 L317.11,788.88 L317.88,787.95 L318.64,787.03 L319.42,786.11 L320.20,785.20 L320.98,784.29 L321.78,783.39 L322.57,782.50 L323.38,781.61 L324.19,780.72 L325.01,779.84 L325.82,778.96 L326.65,778.09 L327.47,777.22 L328.30,776.35 L329.13,775.48 L329.97,774.62 L330.81,773.76 L331.64,772.90 L332.49,772.04 L333.33,771.19 L334.18,770.33 L335.03,769.48 L335.88,768.64 L336.73,767.79 L337.58,766.95 L338.44,766.11 L339.30,765.26 L340.16,764.42 L341.02,763.59 L341.88,762.75 L342.74,761.91 L343.60,761.07 L344.46,760.24 L345.32,759.40 L346.19,758.57 L347.05,757.73 L347.92,756.90 L348.79,756.07 L349.65,755.24 L350.52,754.41 L351.39,753.58 L352.26,752.75 L353.13,751.92 L354.00,751.10 L354.88,750.28 L355.76,749.46 L356.63,748.64 L357.52,747.82 L358.40,747.01 L359.29,746.21 L360.19,745.40 L361.08,744.61 L361.98,743.81 L362.89,743.02 L363.79,742.23 L364.70,741.45 L365.61,740.67 L366.53,739.89 L367.45,739.12 L368.38,738.36 L369.31,737.60 L370.24,736.85 L371.18,736.10 L372.13,735.37 L373.08,734.64 L374.04,733.92 L375.00,733.20 L375.97,732.49 L376.94,731.79 L377.92,731.09 L378.90,730.39 L379.87,729.70 L380.86,729.00 L381.84,728.31 L382.82,727.62 L383.81,726.93 L384.79,726.25 L385.77,725.56 L386.76,724.87 L387.75,724.18 L388.73,723.50 L389.72,722.82 L390.71,722.14 L391.70,721.46 L392.70,720.79 L393.69,720.12 L394.69,719.46 L395.70,718.80 L396.71,718.15 L397.72,717.50 L398.73,716.86 L399.75,716.22 L400.77,715.59 L401.80,714.96 L402.82,714.34 L403.85,713.72 L404.88,713.10 L405.91,712.48 L406.94,711.86 L407.97,711.24 L409.00,710.63 L410.03,710.01 L411.06,709.40 L412.09,708.78 L413.13,708.17 L414.16,707.56 L415.20,706.96 L416.24,706.35 L417.28,705.75 L418.32,705.16 L419.37,704.57 L420.42,703.99 L421.47,703.42 L422.53,702.85 L423.59,702.28 L424.65,701.73 L425.72,701.17 L426.78,700.62 L427.85,700.08 L428.92,699.53 L429.99,698.99 L431.07,698.45 L432.14,697.91 L433.21,697.37 L434.29,696.83 L435.36,696.30 L436.44,695.76 L437.51,695.23 L438.59,694.70 L439.67,694.17 L440.75,693.65 L441.83,693.13 L442.92,692.62 L444.01,692.12 L445.10,691.62 L446.20,691.13 L447.29,690.64 L448.39,690.16 L449.50,689.69 L450.60,689.22 L451.71,688.75 L452.82,688.29 L453.92,687.83 L455.03,687.37 L456.14,686.91 L457.26,686.45 L458.37,685.99 L459.48,685.54 L460.59,685.08 L461.70,684.63 L462.81,684.17 L463.92,683.71 L464.20,683.60" fill="none" stroke="#0000ff" stroke-width="7.2" stroke-linecap="round" stroke-linejoin="round"/>
<rect x="114.50" y="646.30" width="365.70" height="365.30" fill="none" stroke="#000" stroke-width="2.3"/>
<line x1="114.50" y1="646.30" x2="125.50" y2="646.30" stroke="#000" stroke-width="2.2" stroke-linecap="butt"/>
<line x1="114.50" y1="674.67" x2="119.50" y2="674.67" stroke="#000" stroke-width="2.0" stroke-linecap="round"/>
<line x1="114.50" y1="667.52" x2="119.50" y2="667.52" stroke="#000" stroke-width="2.0" stroke-linecap="round"/>
<line x1="114.50" y1="662.45" x2="119.50" y2="662.45" stroke="#000" stroke-width="2.0" stroke-linecap="round"/>
<line x1="114.50" y1="658.52" x2="119.50" y2="658.52" stroke="#000" stroke-width="2.0" stroke-linecap="round"/>
<line x1="114.50" y1="655.30" x2="119.50" y2="655.30" stroke="#000" stroke-width="2.0" stroke-linecap="round"/>
<line x1="114.50" y1="652.59" x2="119.50" y2="652.59" stroke="#000" stroke-width="2.0" stroke-linecap="round"/>
<line x1="114.50" y1="650.23" x2="119.50" y2="650.23" stroke="#000" stroke-width="2.0" stroke-linecap="round"/>
<line x1="114.50" y1="648.16" x2="119.50" y2="648.16" stroke="#000" stroke-width="2.0" stroke-linecap="round"/>
<line x1="114.50" y1="686.89" x2="125.50" y2="686.89" stroke="#000" stroke-width="2.2" stroke-linecap="butt"/>
<line x1="114.50" y1="715.26" x2="119.50" y2="715.26" stroke="#000" stroke-width="2.0" stroke-linecap="round"/>
<line x1="114.50" y1="708.11" x2="119.50" y2="708.11" stroke="#000" stroke-width="2.0" stroke-linecap="round"/>
<line x1="114.50" y1="703.04" x2="119.50" y2="703.04" stroke="#000" stroke-width="2.0" stroke-linecap="round"/>
<line x1="114.50" y1="699.11" x2="119.50" y2="699.11" stroke="#000" stroke-width="2.0" stroke-linecap="round"/>
<line x1="114.50" y1="695.89" x2="119.50" y2="695.89" stroke="#000" stroke-width="2.0" stroke-linecap="round"/>
<line x1="114.50" y1="693.18" x2="119.50" y2="693.18" stroke="#000" stroke-width="2.0" stroke-linecap="round"/>
<line x1="114.50" y1="690.82" x2="119.50" y2="690.82" stroke="#000" stroke-width="2.0" stroke-linecap="round"/>
<line x1="114.50" y1="688.75" x2="119.50" y2="688.75" stroke="#000" stroke-width="2.0" stroke-linecap="round"/>
<line x1="114.50" y1="727.48" x2="125.50" y2="727.48" stroke="#000" stroke-width="2.2" stroke-linecap="butt"/>
<line x1="114.50" y1="755.85" x2="119.50" y2="755.85" stroke="#000" stroke-width="2.0" stroke-linecap="round"/>
<line x1="114.50" y1="748.70" x2="119.50" y2="748.70" stroke="#000" stroke-width="2.0" stroke-linecap="round"/>
<line x1="114.50" y1="743.63" x2="119.50" y2="743.63" stroke="#000" stroke-width="2.0" stroke-linecap="round"/>
<line x1="114.50" y1="739.70" x2="119.50" y2="739.70" stroke="#000" stroke-width="2.0" stroke-linecap="round"/>
<line x1="114.50" y1="736.48" x2="119.50" y2="736.48" stroke="#000" stroke-width="2.0" stroke-linecap="round"/>
<line x1="114.50" y1="733.77" x2="119.50" y2="733.77" stroke="#000" stroke-width="2.0" stroke-linecap="round"/>
<line x1="114.50" y1="731.41" x2="119.50" y2="731.41" stroke="#000" stroke-width="2.0" stroke-linecap="round"/>
<line x1="114.50" y1="729.34" x2="119.50" y2="729.34" stroke="#000" stroke-width="2.0" stroke-linecap="round"/>
<line x1="114.50" y1="768.07" x2="125.50" y2="768.07" stroke="#000" stroke-width="2.2" stroke-linecap="butt"/>
<line x1="114.50" y1="796.44" x2="119.50" y2="796.44" stroke="#000" stroke-width="2.0" stroke-linecap="round"/>
<line x1="114.50" y1="789.29" x2="119.50" y2="789.29" stroke="#000" stroke-width="2.0" stroke-linecap="round"/>
<line x1="114.50" y1="784.22" x2="119.50" y2="784.22" stroke="#000" stroke-width="2.0" stroke-linecap="round"/>
<line x1="114.50" y1="780.29" x2="119.50" y2="780.29" stroke="#000" stroke-width="2.0" stroke-linecap="round"/>
<line x1="114.50" y1="777.07" x2="119.50" y2="777.07" stroke="#000" stroke-width="2.0" stroke-linecap="round"/>
<line x1="114.50" y1="774.35" x2="119.50" y2="774.35" stroke="#000" stroke-width="2.0" stroke-linecap="round"/>
<line x1="114.50" y1="772.00" x2="119.50" y2="772.00" stroke="#000" stroke-width="2.0" stroke-linecap="round"/>
<line x1="114.50" y1="769.92" x2="119.50" y2="769.92" stroke="#000" stroke-width="2.0" stroke-linecap="round"/>
<line x1="114.50" y1="808.66" x2="125.50" y2="808.66" stroke="#000" stroke-width="2.2" stroke-linecap="butt"/>
<line x1="114.50" y1="837.03" x2="119.50" y2="837.03" stroke="#000" stroke-width="2.0" stroke-linecap="round"/>
<line x1="114.50" y1="829.88" x2="119.50" y2="829.88" stroke="#000" stroke-width="2.0" stroke-linecap="round"/>
<line x1="114.50" y1="824.81" x2="119.50" y2="824.81" stroke="#000" stroke-width="2.0" stroke-linecap="round"/>
<line x1="114.50" y1="820.87" x2="119.50" y2="820.87" stroke="#000" stroke-width="2.0" stroke-linecap="round"/>
<line x1="114.50" y1="817.66" x2="119.50" y2="817.66" stroke="#000" stroke-width="2.0" stroke-linecap="round"/>
<line x1="114.50" y1="814.94" x2="119.50" y2="814.94" stroke="#000" stroke-width="2.0" stroke-linecap="round"/>
<line x1="114.50" y1="812.59" x2="119.50" y2="812.59" stroke="#000" stroke-width="2.0" stroke-linecap="round"/>
<line x1="114.50" y1="810.51" x2="119.50" y2="810.51" stroke="#000" stroke-width="2.0" stroke-linecap="round"/>
<line x1="114.50" y1="849.24" x2="125.50" y2="849.24" stroke="#000" stroke-width="2.2" stroke-linecap="butt"/>
<line x1="114.50" y1="877.61" x2="119.50" y2="877.61" stroke="#000" stroke-width="2.0" stroke-linecap="round"/>
<line x1="114.50" y1="870.47" x2="119.50" y2="870.47" stroke="#000" stroke-width="2.0" stroke-linecap="round"/>
<line x1="114.50" y1="865.40" x2="119.50" y2="865.40" stroke="#000" stroke-width="2.0" stroke-linecap="round"/>
<line x1="114.50" y1="861.46" x2="119.50" y2="861.46" stroke="#000" stroke-width="2.0" stroke-linecap="round"/>
<line x1="114.50" y1="858.25" x2="119.50" y2="858.25" stroke="#000" stroke-width="2.0" stroke-linecap="round"/>
<line x1="114.50" y1="855.53" x2="119.50" y2="855.53" stroke="#000" stroke-width="2.0" stroke-linecap="round"/>
<line x1="114.50" y1="853.18" x2="119.50" y2="853.18" stroke="#000" stroke-width="2.0" stroke-linecap="round"/>
<line x1="114.50" y1="851.10" x2="119.50" y2="851.10" stroke="#000" stroke-width="2.0" stroke-linecap="round"/>
<line x1="114.50" y1="889.83" x2="125.50" y2="889.83" stroke="#000" stroke-width="2.2" stroke-linecap="butt"/>
<line x1="114.50" y1="918.20" x2="119.50" y2="918.20" stroke="#000" stroke-width="2.0" stroke-linecap="round"/>
<line x1="114.50" y1="911.06" x2="119.50" y2="911.06" stroke="#000" stroke-width="2.0" stroke-linecap="round"/>
<line x1="114.50" y1="905.99" x2="119.50" y2="905.99" stroke="#000" stroke-width="2.0" stroke-linecap="round"/>
<line x1="114.50" y1="902.05" x2="119.50" y2="902.05" stroke="#000" stroke-width="2.0" stroke-linecap="round"/>
<line x1="114.50" y1="898.84" x2="119.50" y2="898.84" stroke="#000" stroke-width="2.0" stroke-linecap="round"/>
<line x1="114.50" y1="896.12" x2="119.50" y2="896.12" stroke="#000" stroke-width="2.0" stroke-linecap="round"/>
<line x1="114.50" y1="893.77" x2="119.50" y2="893.77" stroke="#000" stroke-width="2.0" stroke-linecap="round"/>
<line x1="114.50" y1="891.69" x2="119.50" y2="891.69" stroke="#000" stroke-width="2.0" stroke-linecap="round"/>
<line x1="114.50" y1="930.42" x2="125.50" y2="930.42" stroke="#000" stroke-width="2.2" stroke-linecap="butt"/>
<line x1="114.50" y1="958.79" x2="119.50" y2="958.79" stroke="#000" stroke-width="2.0" stroke-linecap="round"/>
<line x1="114.50" y1="951.65" x2="119.50" y2="951.65" stroke="#000" stroke-width="2.0" stroke-linecap="round"/>
<line x1="114.50" y1="946.57" x2="119.50" y2="946.57" stroke="#000" stroke-width="2.0" stroke-linecap="round"/>
<line x1="114.50" y1="942.64" x2="119.50" y2="942.64" stroke="#000" stroke-width="2.0" stroke-linecap="round"/>
<line x1="114.50" y1="939.43" x2="119.50" y2="939.43" stroke="#000" stroke-width="2.0" stroke-linecap="round"/>
<line x1="114.50" y1="936.71" x2="119.50" y2="936.71" stroke="#000" stroke-width="2.0" stroke-linecap="round"/>
<line x1="114.50" y1="934.36" x2="119.50" y2="934.36" stroke="#000" stroke-width="2.0" stroke-linecap="round"/>
<line x1="114.50" y1="932.28" x2="119.50" y2="932.28" stroke="#000" stroke-width="2.0" stroke-linecap="round"/>
<line x1="114.50" y1="971.01" x2="125.50" y2="971.01" stroke="#000" stroke-width="2.2" stroke-linecap="butt"/>
<line x1="114.50" y1="999.38" x2="119.50" y2="999.38" stroke="#000" stroke-width="2.0" stroke-linecap="round"/>
<line x1="114.50" y1="992.23" x2="119.50" y2="992.23" stroke="#000" stroke-width="2.0" stroke-linecap="round"/>
<line x1="114.50" y1="987.16" x2="119.50" y2="987.16" stroke="#000" stroke-width="2.0" stroke-linecap="round"/>
<line x1="114.50" y1="983.23" x2="119.50" y2="983.23" stroke="#000" stroke-width="2.0" stroke-linecap="round"/>
<line x1="114.50" y1="980.02" x2="119.50" y2="980.02" stroke="#000" stroke-width="2.0" stroke-linecap="round"/>
<line x1="114.50" y1="977.30" x2="119.50" y2="977.30" stroke="#000" stroke-width="2.0" stroke-linecap="round"/>
<line x1="114.50" y1="974.94" x2="119.50" y2="974.94" stroke="#000" stroke-width="2.0" stroke-linecap="round"/>
<line x1="114.50" y1="972.87" x2="119.50" y2="972.87" stroke="#000" stroke-width="2.0" stroke-linecap="round"/>
<line x1="114.50" y1="1011.60" x2="125.50" y2="1011.60" stroke="#000" stroke-width="2.2" stroke-linecap="butt"/>
<line x1="147.50" y1="1011.60" x2="147.50" y2="1000.60" stroke="#000" stroke-width="2.2" stroke-linecap="butt"/>
<line x1="214.05" y1="1011.60" x2="214.05" y2="1005.10" stroke="#000" stroke-width="2.2" stroke-linecap="butt"/>
<line x1="280.60" y1="1011.60" x2="280.60" y2="1000.60" stroke="#000" stroke-width="2.2" stroke-linecap="butt"/>
<line x1="347.15" y1="1011.60" x2="347.15" y2="1005.10" stroke="#000" stroke-width="2.2" stroke-linecap="butt"/>
<line x1="413.70" y1="1011.60" x2="413.70" y2="1000.60" stroke="#000" stroke-width="2.2" stroke-linecap="butt"/>
<g transform="translate(47.51,699.69) scale(1,1.03)" fill="#000"><path d="M763,0 L583,0 L583,1147 Q518,1085 412,1023 Q306,961 222,930 L222,1104 Q373,1175 486,1276 Q599,1377 646,1472 L763,1472 Z" transform="translate(0.00,0) scale(0.01611,-0.01611)"/><text x="18.35" y="0" font-size="33" xml:space="preserve">0</text></g>
<g transform="translate(84.22,683.49) scale(1,1.03)" fill="#000"><text x="0.00" y="0" font-size="20" xml:space="preserve">-5</text></g>
<g transform="translate(47.51,780.87) scale(1,1.03)" fill="#000"><path d="M763,0 L583,0 L583,1147 Q518,1085 412,1023 Q306,961 222,930 L222,1104 Q373,1175 486,1276 Q599,1377 646,1472 L763,1472 Z" transform="translate(0.00,0) scale(0.01611,-0.01611)"/><text x="18.35" y="0" font-size="33" xml:space="preserve">0</text></g>
<g transform="translate(84.22,764.67) scale(1,1.03)" fill="#000"><text x="0.00" y="0" font-size="20" xml:space="preserve">-7</text></g>
<g transform="translate(47.51,862.04) scale(1,1.03)" fill="#000"><path d="M763,0 L583,0 L583,1147 Q518,1085 412,1023 Q306,961 222,930 L222,1104 Q373,1175 486,1276 Q599,1377 646,1472 L763,1472 Z" transform="translate(0.00,0) scale(0.01611,-0.01611)"/><text x="18.35" y="0" font-size="33" xml:space="preserve">0</text></g>
<g transform="translate(84.22,845.84) scale(1,1.03)" fill="#000"><text x="0.00" y="0" font-size="20" xml:space="preserve">-9</text></g>
<g transform="translate(36.39,943.22) scale(1,1.03)" fill="#000"><path d="M763,0 L583,0 L583,1147 Q518,1085 412,1023 Q306,961 222,930 L222,1104 Q373,1175 486,1276 Q599,1377 646,1472 L763,1472 Z" transform="translate(0.00,0) scale(0.01611,-0.01611)"/><text x="18.35" y="0" font-size="33" xml:space="preserve">0</text></g>
<g transform="translate(73.09,927.02) scale(1,1.03)" fill="#000"><text x="0.00" y="0" font-size="20" xml:space="preserve">-</text><path d="M763,0 L583,0 L583,1147 Q518,1085 412,1023 Q306,961 222,930 L222,1104 Q373,1175 486,1276 Q599,1377 646,1472 L763,1472 Z" transform="translate(6.66,0) scale(0.00977,-0.00977)"/><path d="M763,0 L583,0 L583,1147 Q518,1085 412,1023 Q306,961 222,930 L222,1104 Q373,1175 486,1276 Q599,1377 646,1472 L763,1472 Z" transform="translate(17.78,0) scale(0.00977,-0.00977)"/></g>
<g transform="translate(36.39,1024.40) scale(1,1.03)" fill="#000"><path d="M763,0 L583,0 L583,1147 Q518,1085 412,1023 Q306,961 222,930 L222,1104 Q373,1175 486,1276 Q599,1377 646,1472 L763,1472 Z" transform="translate(0.00,0) scale(0.01611,-0.01611)"/><text x="18.35" y="0" font-size="33" xml:space="preserve">0</text></g>
<g transform="translate(73.09,1008.20) scale(1,1.03)" fill="#000"><text x="0.00" y="0" font-size="20" xml:space="preserve">-</text><path d="M763,0 L583,0 L583,1147 Q518,1085 412,1023 Q306,961 222,930 L222,1104 Q373,1175 486,1276 Q599,1377 646,1472 L763,1472 Z" transform="translate(6.66,0) scale(0.00977,-0.00977)"/><text x="17.78" y="0" font-size="20" xml:space="preserve">3</text></g>
<g transform="translate(147.50,1049.50) scale(1,1.03)" fill="#000"><text x="-9.18" y="0" font-size="33" xml:space="preserve">0</text></g>
<g transform="translate(280.60,1049.50) scale(1,1.03)" fill="#000"><text x="-27.53" y="0" font-size="33" xml:space="preserve">200</text></g>
<g transform="translate(413.70,1049.50) scale(1,1.03)" fill="#000"><text x="-27.53" y="0" font-size="33" xml:space="preserve">400</text></g>
<g transform="translate(241.40,1090.80) scale(1,1.03)" fill="#000"><text x="0.00" y="0" font-size="36" xml:space="preserve">T (K)</text></g>
<g transform="translate(26.60,848.30) rotate(-90) scale(1,1.03)" fill="#000"><text x="0.00" y="0" font-size="36" xml:space="preserve">(S/cm)</text></g>
<g transform="translate(26.60,871.55) rotate(-90) scale(1.12,1)" fill="#000"><text x="-12.50" y="0" font-size="40.5" xml:space="preserve">σ</text></g>
<g transform="translate(130.80,697.80) scale(1,1.03)" fill="#000"><text x="0.00" y="0" font-size="47" font-weight="bold" xml:space="preserve">c</text></g>
<path d="M527.00,775.50 L528.05,775.49 L529.10,775.48 L530.15,775.47 L531.20,775.46 L532.25,775.45 L533.30,775.44 L534.35,775.43 L535.40,775.42 L536.46,775.41 L537.51,775.40 L538.56,775.39 L539.61,775.38 L540.66,775.37 L541.71,775.36 L542.76,775.36 L543.81,775.35 L544.86,775.34 L545.91,775.33 L546.96,775.32 L548.01,775.31 L549.06,775.30 L550.11,775.29 L551.16,775.28 L552.21,775.27 L553.26,775.26 L554.32,775.25 L555.37,775.24 L556.42,775.23 L557.47,775.22 L558.52,775.21 L559.57,775.20 L560.62,775.19 L561.67,775.18 L562.72,775.17 L563.77,775.16 L564.82,775.15 L565.87,775.14 L566.92,775.13 L567.97,775.12 L569.02,775.11 L570.07,775.10 L571.13,775.09 L572.18,775.09 L573.23,775.08 L574.28,775.07 L575.33,775.06 L576.38,775.05 L577.43,775.04 L578.48,775.03 L579.53,775.02 L580.58,775.01 L581.63,775.00 L582.68,774.99 L583.73,774.98 L584.78,774.97 L585.83,774.96 L586.88,774.95 L587.93,774.94 L588.99,774.93 L590.04,774.92 L591.09,774.91 L592.14,774.90 L593.19,774.89 L594.24,774.88 L595.29,774.87 L596.34,774.86 L597.39,774.85 L598.44,774.84 L599.49,774.83 L600.54,774.82 L601.59,774.81 L602.64,774.81 L603.69,774.80 L604.74,774.79 L605.79,774.78 L606.85,774.77 L607.90,774.76 L608.95,774.75 L610.00,774.74 L611.05,774.73 L612.10,774.72 L613.15,774.71 L614.20,774.70 L615.25,774.69 L616.30,774.68 L617.35,774.67 L618.40,774.66 L619.45,774.65 L620.50,774.64 L621.55,774.63 L622.60,774.63 L623.65,774.62 L624.71,774.62 L625.76,774.61 L626.81,774.61 L627.86,774.62 L628.91,774.62 L629.96,774.62 L631.01,774.63 L632.06,774.63 L633.11,774.63 L634.16,774.64 L635.21,774.64 L636.26,774.65 L637.31,774.65 L638.36,774.66 L639.41,774.66 L640.46,774.67 L641.52,774.67 L642.57,774.67 L643.62,774.68 L644.67,774.68 L645.72,774.69 L646.77,774.69 L647.82,774.70 L648.87,774.70 L649.92,774.70 L650.97,774.71 L652.02,774.71 L653.07,774.72 L654.12,774.72 L655.17,774.73 L656.22,774.73 L657.28,774.74 L658.33,774.74 L659.38,774.74 L660.43,774.75 L661.48,774.75 L662.53,774.76 L663.58,774.76 L664.63,774.77 L665.68,774.77 L666.73,774.78 L667.78,774.78 L668.83,774.78 L669.88,774.79 L670.93,774.79 L671.98,774.80 L673.03,774.80 L674.09,774.81 L675.14,774.81 L676.19,774.82 L677.24,774.82 L678.29,774.82 L679.34,774.83 L680.39,774.83 L681.44,774.84 L682.49,774.84 L683.54,774.85 L684.59,774.85 L685.64,774.86 L686.69,774.86 L687.74,774.86 L688.79,774.87 L689.84,774.87 L690.90,774.88 L691.95,774.88 L693.00,774.89 L694.05,774.89 L695.10,774.90 L696.15,774.90 L697.20,774.90 L698.25,774.91 L699.30,774.91 L700.35,774.92 L701.40,774.92 L702.45,774.93 L703.50,774.93 L704.55,774.93 L705.60,774.94 L706.65,774.94 L707.71,774.95 L708.76,774.95 L709.81,774.96 L710.86,774.96 L711.91,774.97 L712.96,774.97 L714.01,774.97 L715.06,774.98 L716.11,774.98 L717.16,774.99 L718.21,774.99 L719.26,775.00 L720.31,775.00 L721.36,775.01 L722.41,775.01 L723.46,775.02 L724.52,775.02 L725.57,775.02 L726.62,775.03 L727.67,775.03 L728.72,775.04 L729.77,775.04 L730.82,775.05 L731.87,775.05 L732.92,775.06 L733.97,775.06 L735.02,775.07 L736.07,775.07 L737.12,775.08 L738.17,775.08 L739.22,775.09 L740.27,775.09 L741.33,775.09 L742.38,775.10 L743.43,775.10 L744.48,775.11 L745.53,775.11 L746.58,775.12 L747.63,775.12 L748.68,775.13 L749.73,775.13 L750.78,775.14 L751.83,775.14 L752.88,775.15 L753.93,775.15 L754.98,775.16 L756.03,775.16 L757.08,775.16 L758.14,775.17 L759.19,775.17 L760.24,775.17 L761.29,775.17 L762.34,775.16 L763.39,775.14 L764.44,775.11 L765.48,775.06 L766.53,774.99 L767.58,774.91 L768.62,774.80 L769.66,774.68 L770.70,774.53 L771.73,774.36 L772.76,774.17 L773.79,773.96 L774.81,773.74 L775.83,773.49 L776.84,773.21 L777.85,772.92 L778.85,772.61 L779.84,772.27 L780.82,771.90 L781.78,771.49 L782.73,771.06 L783.66,770.59 L784.57,770.08 L785.45,769.53 L786.32,768.96 L787.17,768.34 L788.00,767.71 L788.81,767.05 L789.61,766.37 L790.40,765.68 L791.18,764.98 L791.96,764.28 L792.73,763.57 L793.49,762.85 L794.24,762.12 L794.96,761.37 L795.64,760.59 L796.28,759.79 L796.88,758.95 L797.44,758.07 L797.96,757.17 L798.45,756.26 L798.92,755.32 L799.39,754.38 L799.85,753.44 L800.30,752.49 L800.76,751.55 L801.22,750.60 L801.68,749.66 L802.14,748.71 L802.60,747.77 L803.06,746.82 L803.52,745.88 L803.98,744.94 L804.44,743.99 L804.90,743.05 L805.37,742.10 L805.83,741.16 L806.28,740.21 L806.74,739.27 L807.20,738.32 L807.66,737.38 L808.11,736.43 L808.57,735.48 L809.02,734.54 L809.48,733.59 L809.93,732.64 L810.39,731.70 L810.85,730.75 L811.31,729.81 L811.76,728.86 L812.22,727.92 L812.69,726.97 L813.15,726.03 L813.61,725.08 L814.06,724.14 L814.52,723.19 L814.97,722.24 L815.41,721.29 L815.84,720.33 L816.26,719.37 L816.67,718.40 L817.06,717.43 L817.46,716.46 L817.84,715.48 L818.23,714.50 L818.61,713.52 L818.99,712.55 L819.38,711.57 L819.77,710.59 L820.16,709.62 L820.54,708.64 L820.60,708.50" fill="none" stroke="#008080" stroke-width="5.5" stroke-linecap="round" stroke-linejoin="round"/>
<path d="M527.00,793.10 L528.05,793.09 L529.10,793.08 L530.15,793.08 L531.20,793.07 L532.25,793.06 L533.30,793.05 L534.35,793.05 L535.40,793.04 L536.46,793.03 L537.51,793.02 L538.56,793.02 L539.61,793.01 L540.66,793.00 L541.71,792.99 L542.76,792.99 L543.81,792.98 L544.86,792.97 L545.91,792.96 L546.96,792.96 L548.01,792.95 L549.06,792.94 L550.11,792.93 L551.16,792.93 L552.21,792.92 L553.26,792.91 L554.32,792.90 L555.37,792.90 L556.42,792.89 L557.47,792.88 L558.52,792.87 L559.57,792.87 L560.62,792.86 L561.67,792.85 L562.72,792.84 L563.77,792.84 L564.82,792.83 L565.87,792.82 L566.92,792.81 L567.97,792.81 L569.02,792.80 L570.07,792.79 L571.12,792.78 L572.17,792.78 L573.23,792.77 L574.28,792.76 L575.33,792.75 L576.38,792.75 L577.43,792.74 L578.48,792.73 L579.53,792.72 L580.58,792.72 L581.63,792.71 L582.68,792.70 L583.73,792.69 L584.78,792.69 L585.83,792.68 L586.88,792.67 L587.93,792.66 L588.98,792.66 L590.03,792.65 L591.09,792.64 L592.14,792.63 L593.19,792.63 L594.24,792.62 L595.29,792.61 L596.34,792.60 L597.39,792.60 L598.44,792.59 L599.49,792.58 L600.54,792.57 L601.59,792.57 L602.64,792.56 L603.69,792.55 L604.74,792.54 L605.79,792.54 L606.84,792.53 L607.89,792.52 L608.95,792.51 L610.00,792.51 L611.05,792.50 L612.10,792.49 L613.15,792.48 L614.20,792.48 L615.25,792.47 L616.30,792.46 L617.35,792.45 L618.40,792.45 L619.45,792.44 L620.50,792.43 L621.55,792.43 L622.60,792.42 L623.65,792.42 L624.70,792.42 L625.75,792.42 L626.81,792.42 L627.86,792.42 L628.91,792.43 L629.96,792.43 L631.01,792.44 L632.06,792.44 L633.11,792.45 L634.16,792.46 L635.21,792.46 L636.26,792.47 L637.31,792.48 L638.36,792.48 L639.41,792.49 L640.46,792.50 L641.51,792.50 L642.56,792.51 L643.61,792.52 L644.66,792.52 L645.72,792.53 L646.77,792.54 L647.82,792.54 L648.87,792.55 L649.92,792.56 L650.97,792.56 L652.02,792.57 L653.07,792.58 L654.12,792.58 L655.17,792.59 L656.22,792.60 L657.27,792.60 L658.32,792.61 L659.37,792.62 L660.42,792.62 L661.47,792.63 L662.52,792.64 L663.58,792.64 L664.63,792.65 L665.68,792.66 L666.73,792.66 L667.78,792.67 L668.83,792.68 L669.88,792.68 L670.93,792.69 L671.98,792.70 L673.03,792.70 L674.08,792.71 L675.13,792.72 L676.18,792.72 L677.23,792.73 L678.28,792.74 L679.33,792.74 L680.38,792.75 L681.44,792.76 L682.49,792.76 L683.54,792.77 L684.59,792.78 L685.64,792.78 L686.69,792.79 L687.74,792.80 L688.79,792.80 L689.84,792.81 L690.89,792.82 L691.94,792.82 L692.99,792.83 L694.04,792.84 L695.09,792.84 L696.14,792.85 L697.19,792.86 L698.24,792.86 L699.30,792.87 L700.35,792.88 L701.40,792.88 L702.45,792.89 L703.50,792.90 L704.55,792.90 L705.60,792.91 L706.65,792.92 L707.70,792.92 L708.75,792.93 L709.80,792.94 L710.85,792.94 L711.90,792.95 L712.95,792.96 L714.00,792.96 L715.05,792.97 L716.10,792.97 L717.16,792.98 L718.21,792.98 L719.26,792.98 L720.31,792.98 L721.36,792.98 L722.41,792.98 L723.46,792.97 L724.51,792.97 L725.56,792.96 L726.61,792.96 L727.66,792.95 L728.71,792.94 L729.76,792.93 L730.81,792.93 L731.86,792.92 L732.91,792.91 L733.96,792.91 L735.02,792.90 L736.07,792.89 L737.12,792.89 L738.17,792.88 L739.22,792.87 L740.27,792.86 L741.32,792.86 L742.37,792.85 L743.42,792.84 L744.47,792.84 L745.52,792.83 L746.57,792.82 L747.62,792.82 L748.67,792.81 L749.72,792.80 L750.77,792.79 L751.82,792.79 L752.88,792.78 L753.93,792.77 L754.98,792.77 L756.03,792.76 L757.08,792.75 L758.13,792.74 L759.18,792.73 L760.23,792.72 L761.28,792.70 L762.32,792.66 L763.37,792.60 L764.41,792.52 L765.45,792.42 L766.49,792.28 L767.52,792.11 L768.55,791.91 L769.57,791.68 L770.59,791.43 L771.60,791.16 L772.60,790.86 L773.60,790.54 L774.59,790.20 L775.57,789.83 L776.53,789.43 L777.48,789.00 L778.41,788.53 L779.31,788.02 L780.19,787.46 L781.04,786.87 L781.86,786.23 L782.66,785.56 L783.42,784.85 L784.15,784.11 L784.86,783.34 L785.54,782.55 L786.19,781.73 L786.82,780.90 L787.43,780.04 L788.01,779.18 L788.58,778.30 L789.14,777.41 L789.68,776.51 L790.21,775.60 L790.73,774.69 L791.24,773.77 L791.74,772.85 L792.24,771.92 L792.73,770.99 L793.20,770.06 L793.67,769.12 L794.13,768.18 L794.58,767.23 L795.02,766.27 L795.45,765.32 L795.88,764.35 L796.30,763.39 L796.71,762.43 L797.13,761.46 L797.54,760.50 L797.96,759.53 L798.38,758.57 L798.80,757.61 L799.22,756.64 L799.65,755.69 L800.09,754.73 L800.53,753.78 L800.97,752.83 L801.43,751.88 L801.88,750.93 L802.34,749.99 L802.80,749.04 L803.25,748.09 L803.71,747.15 L804.17,746.20 L804.63,745.26 L805.08,744.31 L805.54,743.36 L805.99,742.42 L806.44,741.47 L806.89,740.52 L807.35,739.57 L807.80,738.62 L808.25,737.67 L808.70,736.73 L809.15,735.78 L809.61,734.83 L810.06,733.88 L810.51,732.93 L810.96,731.98 L811.41,731.03 L811.86,730.09 L812.32,729.14 L812.77,728.19 L813.22,727.24 L813.67,726.29 L814.12,725.34 L814.57,724.39 L815.02,723.44 L815.47,722.49 L815.92,721.54 L816.37,720.59 L816.81,719.64 L817.26,718.69 L817.70,717.74 L818.15,716.79 L818.59,715.83 L819.03,714.88 L819.46,713.92 L819.90,712.97 L820.33,712.01 L820.75,711.05 L821.00,710.50" fill="none" stroke="#ff0000" stroke-width="5.5" stroke-linecap="round" stroke-linejoin="round"/>
<path d="M527.00,814.10 L528.05,814.10 L529.10,814.09 L530.15,814.09 L531.20,814.08 L532.25,814.08 L533.30,814.07 L534.35,814.07 L535.40,814.07 L536.45,814.06 L537.51,814.06 L538.56,814.05 L539.61,814.05 L540.66,814.04 L541.71,814.04 L542.76,814.04 L543.81,814.03 L544.86,814.03 L545.91,814.02 L546.96,814.02 L548.01,814.01 L549.06,814.01 L550.11,814.01 L551.16,814.00 L552.21,814.00 L553.26,813.99 L554.31,813.99 L555.36,813.98 L556.41,813.98 L557.47,813.98 L558.52,813.97 L559.57,813.97 L560.62,813.96 L561.67,813.96 L562.72,813.95 L563.77,813.95 L564.82,813.95 L565.87,813.94 L566.92,813.94 L567.97,813.93 L569.02,813.93 L570.07,813.92 L571.12,813.92 L572.17,813.92 L573.22,813.91 L574.27,813.91 L575.32,813.90 L576.37,813.90 L577.42,813.89 L578.48,813.89 L579.53,813.89 L580.58,813.88 L581.63,813.88 L582.68,813.87 L583.73,813.87 L584.78,813.86 L585.83,813.86 L586.88,813.86 L587.93,813.85 L588.98,813.85 L590.03,813.84 L591.08,813.84 L592.13,813.83 L593.18,813.83 L594.23,813.83 L595.28,813.82 L596.33,813.82 L597.38,813.81 L598.44,813.81 L599.49,813.80 L600.54,813.80 L601.59,813.80 L602.64,813.79 L603.69,813.79 L604.74,813.78 L605.79,813.78 L606.84,813.77 L607.89,813.77 L608.94,813.77 L609.99,813.76 L611.04,813.76 L612.09,813.75 L613.14,813.75 L614.19,813.74 L615.24,813.74 L616.29,813.74 L617.34,813.73 L618.40,813.73 L619.45,813.72 L620.50,813.72 L621.55,813.72 L622.60,813.71 L623.65,813.71 L624.70,813.71 L625.75,813.71 L626.80,813.71 L627.85,813.71 L628.90,813.71 L629.95,813.72 L631.00,813.72 L632.05,813.72 L633.10,813.73 L634.15,813.73 L635.20,813.73 L636.25,813.74 L637.30,813.74 L638.35,813.74 L639.41,813.75 L640.46,813.75 L641.51,813.75 L642.56,813.76 L643.61,813.76 L644.66,813.76 L645.71,813.77 L646.76,813.77 L647.81,813.77 L648.86,813.78 L649.91,813.78 L650.96,813.78 L652.01,813.79 L653.06,813.79 L654.11,813.79 L655.16,813.80 L656.21,813.80 L657.26,813.80 L658.31,813.81 L659.37,813.81 L660.42,813.81 L661.47,813.82 L662.52,813.82 L663.57,813.82 L664.62,813.83 L665.67,813.83 L666.72,813.83 L667.77,813.84 L668.82,813.84 L669.87,813.84 L670.92,813.85 L671.97,813.85 L673.02,813.85 L674.07,813.85 L675.12,813.86 L676.17,813.86 L677.22,813.86 L678.27,813.87 L679.33,813.87 L680.38,813.87 L681.43,813.88 L682.48,813.88 L683.53,813.88 L684.58,813.89 L685.63,813.89 L686.68,813.89 L687.73,813.90 L688.78,813.90 L689.83,813.90 L690.88,813.91 L691.93,813.91 L692.98,813.91 L694.03,813.92 L695.08,813.92 L696.13,813.92 L697.18,813.93 L698.23,813.93 L699.29,813.93 L700.34,813.94 L701.39,813.94 L702.44,813.94 L703.49,813.95 L704.54,813.95 L705.59,813.95 L706.64,813.96 L707.69,813.96 L708.74,813.96 L709.79,813.97 L710.84,813.97 L711.89,813.97 L712.94,813.98 L713.99,813.98 L715.04,813.98 L716.09,813.98 L717.14,813.98 L718.19,813.97 L719.24,813.95 L720.29,813.93 L721.34,813.89 L722.39,813.86 L723.44,813.81 L724.49,813.76 L725.54,813.71 L726.59,813.66 L727.64,813.60 L728.69,813.55 L729.74,813.49 L730.79,813.44 L731.84,813.38 L732.88,813.33 L733.93,813.28 L734.98,813.22 L736.03,813.17 L737.08,813.11 L738.13,813.06 L739.18,813.00 L740.23,812.95 L741.28,812.90 L742.33,812.85 L743.38,812.80 L744.43,812.76 L745.48,812.72 L746.53,812.69 L747.58,812.66 L748.63,812.63 L749.68,812.60 L750.72,812.57 L751.77,812.54 L752.82,812.50 L753.87,812.44 L754.92,812.37 L755.96,812.28 L757.01,812.17 L758.05,812.05 L759.09,811.92 L760.13,811.77 L761.16,811.61 L762.19,811.42 L763.21,811.22 L764.23,810.98 L765.24,810.70 L766.23,810.40 L767.22,810.06 L768.21,809.70 L769.18,809.31 L770.15,808.91 L771.11,808.50 L772.07,808.06 L773.01,807.61 L773.94,807.14 L774.86,806.63 L775.75,806.10 L776.62,805.53 L777.46,804.93 L778.27,804.28 L779.05,803.60 L779.80,802.87 L780.51,802.12 L781.19,801.33 L781.83,800.51 L782.44,799.67 L783.02,798.80 L783.58,797.91 L784.10,797.01 L784.60,796.09 L785.08,795.16 L785.54,794.22 L785.99,793.27 L786.42,792.31 L786.84,791.35 L787.25,790.39 L787.66,789.42 L788.06,788.45 L788.46,787.48 L788.87,786.51 L789.27,785.54 L789.68,784.57 L790.09,783.60 L790.50,782.64 L790.91,781.67 L791.32,780.70 L791.73,779.73 L792.13,778.76 L792.53,777.79 L792.93,776.82 L793.33,775.85 L793.73,774.88 L794.12,773.90 L794.51,772.93 L794.90,771.95 L795.29,770.97 L795.67,770.00 L796.06,769.02 L796.44,768.04 L796.83,767.07 L797.22,766.09 L797.61,765.12 L798.01,764.14 L798.41,763.17 L798.82,762.20 L799.23,761.24 L799.64,760.27 L800.05,759.31 L800.47,758.34 L800.89,757.38 L801.31,756.41 L801.73,755.45 L802.16,754.49 L802.59,753.54 L803.02,752.58 L803.46,751.62 L803.89,750.67 L804.33,749.71 L804.77,748.76 L805.21,747.80 L805.65,746.85 L806.09,745.89 L806.52,744.94 L806.96,743.98 L807.39,743.03 L807.83,742.07 L808.27,741.11 L808.70,740.16 L809.14,739.20 L809.57,738.25 L810.00,737.29 L810.44,736.33 L810.87,735.38 L811.31,734.42 L811.74,733.46 L812.18,732.51 L812.61,731.55 L813.05,730.59 L813.48,729.64 L813.92,728.68 L814.35,727.73 L814.79,726.77 L815.22,725.81 L815.66,724.86 L816.09,723.90 L816.53,722.94 L816.96,721.99 L817.39,721.03 L817.83,720.07 L818.26,719.12 L818.70,718.16 L819.13,717.21 L819.57,716.25 L820.00,715.29 L820.44,714.34 L820.50,714.20" fill="none" stroke="#8000ff" stroke-width="5.5" stroke-linecap="round" stroke-linejoin="round"/>
<path d="M527.00,838.30 L528.05,838.30 L529.10,838.30 L530.15,838.30 L531.20,838.30 L532.25,838.30 L533.30,838.30 L534.35,838.30 L535.40,838.30 L536.46,838.30 L537.51,838.30 L538.56,838.30 L539.61,838.30 L540.66,838.30 L541.71,838.30 L542.76,838.30 L543.81,838.30 L544.86,838.30 L545.91,838.30 L546.96,838.30 L548.01,838.30 L549.06,838.30 L550.11,838.30 L551.16,838.30 L552.21,838.30 L553.26,838.30 L554.32,838.30 L555.37,838.30 L556.42,838.30 L557.47,838.30 L558.52,838.30 L559.57,838.30 L560.62,838.30 L561.67,838.30 L562.72,838.30 L563.77,838.30 L564.82,838.30 L565.87,838.30 L566.92,838.30 L567.97,838.30 L569.02,838.30 L570.07,838.30 L571.12,838.30 L572.18,838.30 L573.23,838.30 L574.28,838.30 L575.33,838.30 L576.38,838.30 L577.43,838.30 L578.48,838.30 L579.53,838.30 L580.58,838.30 L581.63,838.30 L582.68,838.30 L583.73,838.30 L584.78,838.30 L585.83,838.30 L586.88,838.30 L587.93,838.30 L588.99,838.30 L590.04,838.30 L591.09,838.30 L592.14,838.30 L593.19,838.30 L594.24,838.30 L595.29,838.30 L596.34,838.30 L597.39,838.30 L598.44,838.30 L599.49,838.30 L600.54,838.30 L601.59,838.30 L602.64,838.30 L603.69,838.30 L604.74,838.30 L605.79,838.30 L606.85,838.30 L607.90,838.30 L608.95,838.30 L610.00,838.30 L611.05,838.30 L612.10,838.30 L613.15,838.30 L614.20,838.30 L615.25,838.30 L616.30,838.30 L617.35,838.30 L618.40,838.30 L619.45,838.30 L620.50,838.30 L621.55,838.30 L622.60,838.30 L623.65,838.29 L624.71,838.29 L625.76,838.28 L626.81,838.27 L627.86,838.26 L628.91,838.24 L629.96,838.23 L631.01,838.22 L632.06,838.20 L633.11,838.19 L634.16,838.17 L635.21,838.16 L636.26,838.15 L637.31,838.13 L638.36,838.12 L639.41,838.10 L640.46,838.09 L641.51,838.07 L642.56,838.06 L643.61,838.05 L644.66,838.03 L645.72,838.02 L646.77,838.00 L647.82,837.99 L648.87,837.97 L649.92,837.96 L650.97,837.94 L652.02,837.93 L653.07,837.92 L654.12,837.90 L655.17,837.89 L656.22,837.87 L657.27,837.86 L658.32,837.84 L659.37,837.83 L660.42,837.82 L661.47,837.80 L662.52,837.79 L663.57,837.77 L664.62,837.76 L665.67,837.74 L666.73,837.73 L667.78,837.71 L668.83,837.70 L669.88,837.69 L670.93,837.67 L671.98,837.66 L673.03,837.64 L674.08,837.63 L675.13,837.61 L676.18,837.60 L677.23,837.59 L678.28,837.57 L679.33,837.56 L680.38,837.54 L681.43,837.53 L682.48,837.51 L683.53,837.50 L684.58,837.48 L685.63,837.47 L686.68,837.46 L687.74,837.44 L688.79,837.43 L689.84,837.41 L690.89,837.40 L691.94,837.38 L692.99,837.37 L694.04,837.36 L695.09,837.34 L696.14,837.33 L697.19,837.31 L698.24,837.30 L699.29,837.28 L700.34,837.27 L701.39,837.25 L702.44,837.24 L703.49,837.23 L704.54,837.21 L705.59,837.20 L706.64,837.18 L707.69,837.17 L708.75,837.15 L709.80,837.14 L710.85,837.13 L711.90,837.11 L712.95,837.10 L714.00,837.08 L715.05,837.07 L716.10,837.05 L717.15,837.03 L718.20,837.01 L719.25,836.98 L720.30,836.94 L721.35,836.91 L722.40,836.86 L723.45,836.81 L724.50,836.76 L725.55,836.71 L726.60,836.66 L727.64,836.60 L728.69,836.55 L729.74,836.49 L730.79,836.44 L731.84,836.38 L732.89,836.33 L733.94,836.28 L734.99,836.22 L736.04,836.17 L737.09,836.11 L738.14,836.06 L739.19,836.00 L740.23,835.95 L741.28,835.89 L742.33,835.83 L743.38,835.76 L744.43,835.69 L745.48,835.62 L746.52,835.54 L747.57,835.46 L748.62,835.37 L749.66,835.27 L750.71,835.17 L751.75,835.06 L752.79,834.93 L753.83,834.78 L754.86,834.61 L755.89,834.41 L756.91,834.19 L757.92,833.93 L758.93,833.65 L759.93,833.35 L760.92,833.01 L761.90,832.64 L762.87,832.25 L763.83,831.83 L764.77,831.38 L765.70,830.90 L766.60,830.39 L767.48,829.84 L768.34,829.25 L769.16,828.62 L769.95,827.95 L770.72,827.24 L771.45,826.50 L772.16,825.74 L772.85,824.95 L773.52,824.14 L774.17,823.32 L774.81,822.49 L775.43,821.65 L776.05,820.80 L776.64,819.93 L777.23,819.06 L777.81,818.19 L778.38,817.30 L778.94,816.42 L779.50,815.53 L780.06,814.64 L780.63,813.76 L781.20,812.88 L781.77,812.00 L782.35,811.12 L782.92,810.24 L783.49,809.36 L784.05,808.47 L784.60,807.58 L785.14,806.68 L785.66,805.76 L786.16,804.85 L786.65,803.92 L787.13,802.98 L787.58,802.04 L788.02,801.09 L788.44,800.13 L788.83,799.16 L789.21,798.18 L789.58,797.20 L789.94,796.21 L790.29,795.22 L790.64,794.23 L790.99,793.24 L791.33,792.25 L791.68,791.25 L792.02,790.26 L792.36,789.27 L792.70,788.27 L793.03,787.28 L793.37,786.28 L793.70,785.28 L794.04,784.29 L794.37,783.29 L794.70,782.29 L795.03,781.30 L795.36,780.30 L795.69,779.30 L796.01,778.30 L796.33,777.30 L796.65,776.30 L796.97,775.30 L797.28,774.30 L797.59,773.29 L797.91,772.29 L798.22,771.29 L798.53,770.28 L798.84,769.28 L799.16,768.28 L799.48,767.28 L799.82,766.28 L800.15,765.29 L800.50,764.30 L800.86,763.31 L801.22,762.33 L801.59,761.34 L801.96,760.36 L802.34,759.38 L802.71,758.40 L803.09,757.42 L803.47,756.44 L803.86,755.46 L804.25,754.49 L804.64,753.51 L805.04,752.54 L805.44,751.57 L805.84,750.60 L806.24,749.63 L806.64,748.66 L807.05,747.69 L807.45,746.72 L807.86,745.75 L808.27,744.78 L808.68,743.81 L809.09,742.85 L809.50,741.88 L809.91,740.91 L810.33,739.95 L810.75,738.99 L811.17,738.02 L811.58,737.06 L812.00,736.10 L812.43,735.13 L812.85,734.17 L813.27,733.21 L813.70,732.25 L814.14,731.29 L814.57,730.34 L815.01,729.39 L815.46,728.43 L815.90,727.48 L816.35,726.53 L816.79,725.58 L817.23,724.62 L817.66,723.67 L818.08,722.71 L818.49,721.74 L818.89,720.77 L819.27,719.79 L819.65,718.81 L820.02,717.83 L820.39,716.84 L820.70,716.00" fill="none" stroke="#ff00ff" stroke-width="5.5" stroke-linecap="round" stroke-linejoin="round"/>
<path d="M527.00,858.00 L528.05,858.00 L529.10,858.00 L530.15,858.00 L531.20,858.00 L532.25,858.00 L533.30,858.00 L534.35,858.00 L535.40,858.00 L536.46,858.00 L537.51,858.00 L538.56,858.00 L539.61,858.00 L540.66,858.00 L541.71,858.00 L542.76,858.00 L543.81,858.00 L544.86,858.00 L545.91,858.00 L546.96,858.00 L548.01,858.00 L549.06,858.00 L550.11,858.00 L551.16,858.00 L552.21,858.00 L553.26,858.00 L554.32,858.00 L555.37,858.00 L556.42,858.00 L557.47,858.00 L558.52,858.00 L559.57,858.00 L560.62,858.00 L561.67,858.00 L562.72,858.00 L563.77,858.00 L564.82,858.00 L565.87,858.00 L566.92,858.00 L567.97,858.00 L569.02,858.00 L570.07,858.00 L571.13,858.00 L572.18,858.00 L573.23,858.00 L574.28,858.00 L575.33,858.00 L576.38,858.00 L577.43,858.00 L578.48,858.00 L579.53,858.00 L580.58,858.00 L581.63,858.00 L582.68,858.00 L583.73,858.00 L584.78,858.00 L585.83,858.00 L586.88,858.00 L587.93,858.00 L588.99,858.00 L590.04,858.00 L591.09,858.00 L592.14,858.00 L593.19,858.00 L594.24,858.00 L595.29,858.00 L596.34,858.00 L597.39,858.00 L598.44,858.00 L599.49,858.00 L600.54,858.00 L601.59,858.00 L602.64,858.00 L603.69,858.00 L604.74,858.00 L605.79,858.00 L606.85,858.00 L607.90,858.00 L608.95,858.00 L610.00,858.00 L611.05,858.00 L612.10,858.00 L613.15,858.00 L614.20,858.00 L615.25,858.00 L616.30,858.00 L617.35,858.00 L618.40,858.00 L619.45,858.00 L620.50,858.00 L621.55,858.00 L622.60,857.99 L623.65,857.99 L624.71,857.98 L625.76,857.97 L626.81,857.95 L627.86,857.93 L628.91,857.91 L629.96,857.89 L631.01,857.87 L632.06,857.85 L633.11,857.83 L634.16,857.81 L635.21,857.79 L636.26,857.76 L637.31,857.74 L638.36,857.72 L639.41,857.70 L640.46,857.67 L641.51,857.65 L642.56,857.63 L643.61,857.61 L644.66,857.59 L645.71,857.56 L646.76,857.54 L647.81,857.52 L648.86,857.50 L649.91,857.48 L650.96,857.45 L652.01,857.43 L653.07,857.41 L654.12,857.39 L655.17,857.36 L656.22,857.34 L657.27,857.32 L658.32,857.30 L659.37,857.28 L660.42,857.25 L661.47,857.23 L662.52,857.21 L663.57,857.19 L664.62,857.17 L665.67,857.14 L666.72,857.12 L667.77,857.10 L668.82,857.08 L669.87,857.06 L670.92,857.03 L671.97,857.01 L673.02,856.99 L674.07,856.97 L675.12,856.94 L676.17,856.92 L677.22,856.90 L678.27,856.88 L679.32,856.86 L680.37,856.83 L681.43,856.81 L682.48,856.79 L683.53,856.77 L684.58,856.75 L685.63,856.72 L686.68,856.70 L687.73,856.68 L688.78,856.66 L689.83,856.64 L690.88,856.61 L691.93,856.59 L692.98,856.57 L694.03,856.55 L695.08,856.52 L696.13,856.50 L697.18,856.48 L698.23,856.46 L699.28,856.44 L700.33,856.41 L701.38,856.39 L702.43,856.37 L703.48,856.35 L704.53,856.33 L705.58,856.30 L706.63,856.28 L707.68,856.26 L708.73,856.24 L709.78,856.22 L710.84,856.19 L711.89,856.17 L712.94,856.15 L713.99,856.12 L715.04,856.10 L716.09,856.07 L717.14,856.04 L718.19,856.00 L719.23,855.96 L720.28,855.90 L721.33,855.83 L722.38,855.76 L723.43,855.67 L724.47,855.58 L725.52,855.49 L726.56,855.40 L727.61,855.30 L728.66,855.20 L729.70,855.11 L730.75,855.01 L731.80,854.91 L732.84,854.82 L733.89,854.72 L734.93,854.63 L735.98,854.53 L737.03,854.43 L738.07,854.34 L739.12,854.24 L740.16,854.14 L741.21,854.03 L742.25,853.92 L743.30,853.80 L744.34,853.66 L745.37,853.51 L746.41,853.34 L747.44,853.15 L748.47,852.94 L749.49,852.71 L750.51,852.46 L751.52,852.18 L752.52,851.89 L753.52,851.57 L754.51,851.23 L755.49,850.86 L756.46,850.47 L757.42,850.05 L758.36,849.60 L759.30,849.13 L760.22,848.63 L761.12,848.10 L762.00,847.54 L762.85,846.95 L763.69,846.33 L764.49,845.67 L765.27,844.97 L766.01,844.25 L766.73,843.49 L767.42,842.71 L768.08,841.90 L768.73,841.08 L769.36,840.24 L769.98,839.40 L770.59,838.54 L771.19,837.68 L771.78,836.82 L772.37,835.94 L772.93,835.06 L773.48,834.17 L774.00,833.27 L774.50,832.35 L774.98,831.42 L775.43,830.47 L775.88,829.52 L776.31,828.57 L776.74,827.61 L777.17,826.65 L777.61,825.70 L778.04,824.74 L778.47,823.78 L778.89,822.82 L779.31,821.86 L779.73,820.89 L780.14,819.93 L780.54,818.96 L780.95,817.99 L781.36,817.02 L781.78,816.06 L782.22,815.11 L782.67,814.17 L783.15,813.24 L783.64,812.31 L784.14,811.39 L784.65,810.47 L785.16,809.55 L785.66,808.63 L786.15,807.70 L786.63,806.77 L787.10,805.83 L787.56,804.89 L788.01,803.94 L788.45,802.99 L788.88,802.03 L789.29,801.06 L789.69,800.09 L790.07,799.12 L790.45,798.14 L790.81,797.15 L791.17,796.16 L791.52,795.17 L791.87,794.18 L792.22,793.19 L792.57,792.20 L792.92,791.21 L793.26,790.22 L793.61,789.23 L793.95,788.23 L794.30,787.24 L794.64,786.25 L794.98,785.26 L795.33,784.26 L795.67,783.27 L796.01,782.28 L796.36,781.28 L796.70,780.29 L797.04,779.30 L797.39,778.31 L797.73,777.31 L798.07,776.32 L798.42,775.33 L798.76,774.33 L799.11,773.34 L799.45,772.35 L799.79,771.36 L800.14,770.36 L800.49,769.37 L800.84,768.38 L801.19,767.39 L801.55,766.40 L801.91,765.42 L802.27,764.43 L802.64,763.45 L803.00,762.46 L803.37,761.48 L803.74,760.49 L804.11,759.51 L804.48,758.53 L804.84,757.54 L805.21,756.56 L805.57,755.57 L805.94,754.59 L806.30,753.60 L806.66,752.61 L807.02,751.63 L807.38,750.64 L807.73,749.65 L808.09,748.66 L808.45,747.67 L808.81,746.69 L809.16,745.70 L809.52,744.71 L809.88,743.72 L810.24,742.74 L810.61,741.75 L810.97,740.77 L811.34,739.78 L811.70,738.80 L812.07,737.81 L812.44,736.83 L812.81,735.85 L813.18,734.86 L813.55,733.88 L813.93,732.90 L814.32,731.92 L814.71,730.95 L815.11,729.98 L815.53,729.02 L815.95,728.06 L816.38,727.10 L816.82,726.15 L817.26,725.19 L817.71,724.24 L818.15,723.29 L818.59,722.33 L819.03,721.38 L819.46,720.42 L819.90,719.47 L820.33,718.51 L820.75,717.55 L821.00,717.00" fill="none" stroke="#008000" stroke-width="5.5" stroke-linecap="round" stroke-linejoin="round"/>
<path d="M527.00,880.70 L528.05,880.69 L529.10,880.69 L530.15,880.68 L531.20,880.68 L532.25,880.67 L533.30,880.67 L534.35,880.66 L535.40,880.66 L536.45,880.65 L537.50,880.65 L538.55,880.64 L539.60,880.64 L540.66,880.63 L541.71,880.62 L542.76,880.62 L543.81,880.61 L544.86,880.61 L545.91,880.60 L546.96,880.60 L548.01,880.59 L549.06,880.59 L550.11,880.58 L551.16,880.58 L552.21,880.57 L553.26,880.57 L554.31,880.56 L555.36,880.56 L556.41,880.55 L557.46,880.54 L558.51,880.54 L559.56,880.53 L560.61,880.53 L561.66,880.52 L562.71,880.52 L563.76,880.51 L564.81,880.51 L565.87,880.50 L566.92,880.50 L567.97,880.49 L569.02,880.49 L570.07,880.48 L571.12,880.47 L572.17,880.47 L573.22,880.46 L574.27,880.46 L575.32,880.45 L576.37,880.45 L577.42,880.44 L578.47,880.44 L579.52,880.43 L580.57,880.43 L581.62,880.42 L582.67,880.42 L583.72,880.41 L584.77,880.41 L585.82,880.40 L586.87,880.39 L587.92,880.39 L588.97,880.38 L590.02,880.38 L591.07,880.37 L592.13,880.37 L593.18,880.36 L594.23,880.36 L595.28,880.35 L596.33,880.35 L597.38,880.34 L598.43,880.34 L599.48,880.33 L600.53,880.32 L601.58,880.32 L602.63,880.31 L603.68,880.31 L604.73,880.30 L605.78,880.30 L606.83,880.29 L607.88,880.29 L608.93,880.28 L609.98,880.28 L611.03,880.27 L612.08,880.27 L613.13,880.26 L614.18,880.26 L615.23,880.25 L616.28,880.24 L617.34,880.24 L618.39,880.23 L619.44,880.23 L620.49,880.22 L621.54,880.22 L622.59,880.21 L623.64,880.20 L624.69,880.19 L625.74,880.18 L626.79,880.17 L627.84,880.16 L628.89,880.14 L629.94,880.13 L630.99,880.12 L632.04,880.10 L633.09,880.09 L634.14,880.07 L635.19,880.06 L636.24,880.04 L637.29,880.03 L638.34,880.01 L639.39,880.00 L640.44,879.98 L641.49,879.97 L642.54,879.95 L643.59,879.94 L644.64,879.92 L645.69,879.91 L646.74,879.90 L647.79,879.88 L648.85,879.87 L649.90,879.85 L650.95,879.84 L652.00,879.82 L653.05,879.81 L654.10,879.79 L655.15,879.78 L656.20,879.76 L657.25,879.75 L658.30,879.73 L659.35,879.72 L660.40,879.70 L661.45,879.69 L662.50,879.68 L663.55,879.66 L664.60,879.65 L665.65,879.63 L666.70,879.62 L667.75,879.60 L668.80,879.59 L669.85,879.57 L670.90,879.56 L671.95,879.54 L673.00,879.53 L674.05,879.51 L675.10,879.50 L676.15,879.48 L677.20,879.47 L678.25,879.45 L679.30,879.44 L680.35,879.43 L681.41,879.41 L682.46,879.40 L683.51,879.38 L684.56,879.37 L685.61,879.35 L686.66,879.34 L687.71,879.32 L688.76,879.31 L689.81,879.29 L690.86,879.28 L691.91,879.26 L692.96,879.25 L694.01,879.23 L695.06,879.22 L696.11,879.20 L697.16,879.19 L698.21,879.18 L699.26,879.16 L700.31,879.15 L701.36,879.13 L702.41,879.12 L703.46,879.10 L704.51,879.09 L705.56,879.07 L706.61,879.06 L707.66,879.04 L708.71,879.03 L709.76,879.01 L710.81,879.00 L711.86,878.98 L712.91,878.97 L713.96,878.95 L715.02,878.94 L716.07,878.92 L717.12,878.91 L718.17,878.89 L719.22,878.88 L720.27,878.86 L721.32,878.83 L722.37,878.80 L723.41,878.76 L724.46,878.71 L725.51,878.64 L726.55,878.55 L727.60,878.46 L728.64,878.35 L729.69,878.23 L730.73,878.11 L731.77,877.98 L732.81,877.84 L733.85,877.69 L734.88,877.52 L735.92,877.34 L736.94,877.13 L737.97,876.91 L738.99,876.68 L740.01,876.43 L741.03,876.17 L742.05,875.92 L743.06,875.65 L744.08,875.38 L745.09,875.11 L746.11,874.83 L747.12,874.54 L748.12,874.25 L749.12,873.94 L750.12,873.61 L751.11,873.27 L752.10,872.91 L753.07,872.53 L754.03,872.12 L754.98,871.69 L755.90,871.22 L756.80,870.71 L757.66,870.15 L758.49,869.54 L759.27,868.88 L760.02,868.17 L760.72,867.41 L761.40,866.62 L762.03,865.80 L762.64,864.95 L763.23,864.08 L763.79,863.20 L764.34,862.31 L764.87,861.40 L765.38,860.49 L765.87,859.56 L766.35,858.63 L766.82,857.69 L767.27,856.74 L767.72,855.79 L768.16,854.84 L768.60,853.89 L769.04,852.93 L769.48,851.98 L769.93,851.03 L770.37,850.08 L770.81,849.12 L771.26,848.17 L771.71,847.22 L772.16,846.27 L772.61,845.33 L773.07,844.38 L773.53,843.44 L773.99,842.49 L774.46,841.55 L774.92,840.61 L775.39,839.67 L775.87,838.73 L776.35,837.80 L776.83,836.87 L777.31,835.94 L777.80,835.00 L778.28,834.07 L778.75,833.13 L779.21,832.19 L779.65,831.24 L780.07,830.28 L780.47,829.31 L780.85,828.34 L781.22,827.36 L781.58,826.37 L781.93,825.38 L782.29,824.39 L782.64,823.40 L782.99,822.41 L783.35,821.42 L783.70,820.44 L784.06,819.45 L784.42,818.46 L784.78,817.48 L785.15,816.49 L785.51,815.51 L785.88,814.52 L786.25,813.54 L786.62,812.56 L786.99,811.57 L787.37,810.59 L787.75,809.62 L788.14,808.64 L788.52,807.66 L788.91,806.68 L789.29,805.71 L789.67,804.73 L790.05,803.75 L790.43,802.77 L790.80,801.78 L791.16,800.80 L791.51,799.81 L791.85,798.82 L792.19,797.82 L792.52,796.83 L792.85,795.83 L793.18,794.83 L793.50,793.83 L793.83,792.83 L794.15,791.83 L794.48,790.84 L794.81,789.84 L795.13,788.84 L795.46,787.84 L795.78,786.84 L796.11,785.84 L796.43,784.84 L796.76,783.84 L797.08,782.85 L797.41,781.85 L797.74,780.85 L798.06,779.85 L798.39,778.85 L798.72,777.86 L799.05,776.86 L799.39,775.86 L799.72,774.87 L800.05,773.87 L800.38,772.87 L800.72,771.88 L801.05,770.88 L801.38,769.89 L801.72,768.89 L802.05,767.89 L802.38,766.90 L802.72,765.90 L803.05,764.90 L803.38,763.91 L803.72,762.91 L804.05,761.92 L804.39,760.92 L804.72,759.93 L805.06,758.93 L805.40,757.94 L805.74,756.94 L806.09,755.95 L806.44,754.96 L806.79,753.97 L807.15,752.99 L807.51,752.00 L807.88,751.02 L808.25,750.03 L808.61,749.05 L808.98,748.06 L809.35,747.08 L809.72,746.10 L810.09,745.11 L810.45,744.13 L810.82,743.14 L811.19,742.16 L811.56,741.18 L811.92,740.19 L812.29,739.21 L812.65,738.22 L813.01,737.23 L813.37,736.25 L813.74,735.26 L814.10,734.28 L814.46,733.29 L814.82,732.30 L815.18,731.32 L815.55,730.33 L815.91,729.35 L816.28,728.37 L816.66,727.38 L817.04,726.41 L817.43,725.43 L817.84,724.46 L818.25,723.50 L818.68,722.54 L819.11,721.58 L819.55,720.63 L819.99,719.68 L820.43,718.72 L820.87,717.77 L821.00,717.50" fill="none" stroke="#000080" stroke-width="5.5" stroke-linecap="round" stroke-linejoin="round"/>
<path d="M527.00,897.80 L528.05,897.79 L529.10,897.78 L530.15,897.77 L531.20,897.76 L532.25,897.75 L533.30,897.74 L534.35,897.73 L535.40,897.72 L536.45,897.71 L537.50,897.70 L538.55,897.69 L539.60,897.68 L540.65,897.67 L541.70,897.66 L542.76,897.65 L543.81,897.64 L544.86,897.63 L545.91,897.62 L546.96,897.61 L548.01,897.60 L549.06,897.59 L550.11,897.58 L551.16,897.57 L552.21,897.56 L553.26,897.55 L554.31,897.54 L555.36,897.53 L556.41,897.52 L557.46,897.51 L558.51,897.50 L559.56,897.48 L560.61,897.47 L561.66,897.46 L562.71,897.45 L563.76,897.44 L564.81,897.43 L565.86,897.42 L566.91,897.41 L567.96,897.40 L569.01,897.39 L570.06,897.38 L571.11,897.37 L572.16,897.36 L573.21,897.35 L574.27,897.34 L575.32,897.33 L576.37,897.32 L577.42,897.31 L578.47,897.30 L579.52,897.29 L580.57,897.28 L581.62,897.27 L582.67,897.26 L583.72,897.25 L584.77,897.24 L585.82,897.23 L586.87,897.22 L587.92,897.21 L588.97,897.20 L590.02,897.19 L591.07,897.18 L592.12,897.17 L593.17,897.16 L594.22,897.15 L595.27,897.14 L596.32,897.13 L597.37,897.12 L598.42,897.11 L599.47,897.10 L600.52,897.09 L601.57,897.08 L602.62,897.07 L603.67,897.06 L604.73,897.05 L605.78,897.04 L606.83,897.03 L607.88,897.02 L608.93,897.01 L609.98,897.00 L611.03,896.99 L612.08,896.98 L613.13,896.97 L614.18,896.96 L615.23,896.95 L616.28,896.94 L617.33,896.93 L618.38,896.93 L619.43,896.92 L620.48,896.92 L621.53,896.92 L622.58,896.93 L623.63,896.93 L624.68,896.94 L625.73,896.95 L626.78,896.96 L627.83,896.97 L628.88,896.98 L629.93,896.99 L630.98,896.99 L632.03,897.00 L633.08,897.01 L634.13,897.02 L635.19,897.03 L636.24,897.04 L637.29,897.05 L638.34,897.06 L639.39,897.07 L640.44,897.08 L641.49,897.08 L642.54,897.09 L643.59,897.10 L644.64,897.11 L645.69,897.12 L646.74,897.13 L647.79,897.14 L648.84,897.15 L649.89,897.16 L650.94,897.17 L651.99,897.17 L653.04,897.18 L654.09,897.19 L655.14,897.20 L656.19,897.21 L657.24,897.22 L658.29,897.23 L659.34,897.24 L660.39,897.25 L661.44,897.26 L662.49,897.26 L663.54,897.27 L664.59,897.28 L665.65,897.29 L666.70,897.30 L667.75,897.31 L668.80,897.32 L669.85,897.33 L670.90,897.34 L671.95,897.35 L673.00,897.35 L674.05,897.36 L675.10,897.37 L676.15,897.38 L677.20,897.39 L678.25,897.40 L679.30,897.41 L680.35,897.42 L681.40,897.43 L682.45,897.44 L683.50,897.44 L684.55,897.45 L685.60,897.46 L686.65,897.46 L687.70,897.46 L688.75,897.46 L689.80,897.45 L690.85,897.43 L691.90,897.41 L692.95,897.38 L694.00,897.35 L695.05,897.32 L696.10,897.28 L697.15,897.25 L698.20,897.21 L699.25,897.17 L700.30,897.14 L701.35,897.10 L702.40,897.06 L703.45,897.02 L704.50,896.99 L705.55,896.95 L706.60,896.91 L707.65,896.87 L708.70,896.84 L709.75,896.80 L710.80,896.75 L711.85,896.71 L712.89,896.65 L713.94,896.59 L714.99,896.50 L716.03,896.41 L717.07,896.30 L718.12,896.17 L719.16,896.04 L720.20,895.89 L721.24,895.75 L722.28,895.60 L723.32,895.44 L724.36,895.29 L725.39,895.14 L726.43,894.99 L727.47,894.84 L728.51,894.68 L729.55,894.53 L730.59,894.37 L731.63,894.22 L732.67,894.05 L733.70,893.88 L734.73,893.70 L735.76,893.50 L736.79,893.28 L737.81,893.04 L738.82,892.78 L739.83,892.50 L740.84,892.20 L741.83,891.87 L742.82,891.52 L743.79,891.14 L744.75,890.73 L745.71,890.30 L746.64,889.84 L747.57,889.35 L748.47,888.83 L749.35,888.27 L750.20,887.68 L751.03,887.05 L751.84,886.39 L752.61,885.69 L753.36,884.97 L754.09,884.22 L754.80,883.45 L755.48,882.66 L756.15,881.85 L756.81,881.03 L757.45,880.20 L758.07,879.36 L758.68,878.51 L759.28,877.64 L759.86,876.77 L760.44,875.89 L761.00,875.01 L761.55,874.11 L762.10,873.22 L762.64,872.32 L763.19,871.42 L763.74,870.53 L764.29,869.64 L764.86,868.75 L765.42,867.87 L765.99,866.99 L766.56,866.10 L767.12,865.22 L767.67,864.32 L768.21,863.42 L768.73,862.52 L769.23,861.60 L769.71,860.67 L770.15,859.72 L770.58,858.77 L770.98,857.80 L771.37,856.83 L771.76,855.85 L772.13,854.87 L772.51,853.89 L772.88,852.91 L773.25,851.92 L773.63,850.94 L774.00,849.96 L774.37,848.98 L774.74,848.00 L775.11,847.01 L775.49,846.03 L775.86,845.05 L776.23,844.07 L776.60,843.08 L776.97,842.10 L777.34,841.12 L777.71,840.14 L778.08,839.15 L778.46,838.17 L778.83,837.19 L779.20,836.20 L779.57,835.22 L779.94,834.24 L780.30,833.25 L780.67,832.27 L781.03,831.28 L781.40,830.30 L781.75,829.31 L782.11,828.32 L782.46,827.33 L782.82,826.34 L783.17,825.35 L783.52,824.37 L783.87,823.38 L784.22,822.39 L784.58,821.40 L784.93,820.40 L785.27,819.41 L785.62,818.42 L785.97,817.43 L786.31,816.44 L786.66,815.45 L787.00,814.46 L787.35,813.46 L787.69,812.47 L788.04,811.48 L788.38,810.49 L788.72,809.49 L789.07,808.50 L789.41,807.51 L789.75,806.52 L790.10,805.52 L790.44,804.53 L790.78,803.54 L791.12,802.54 L791.45,801.55 L791.79,800.55 L792.11,799.55 L792.44,798.55 L792.76,797.55 L793.08,796.55 L793.40,795.55 L793.72,794.55 L794.04,793.55 L794.36,792.55 L794.68,791.55 L795.00,790.55 L795.32,789.55 L795.64,788.55 L795.96,787.55 L796.28,786.55 L796.59,785.55 L796.91,784.54 L797.23,783.54 L797.55,782.54 L797.87,781.54 L798.19,780.54 L798.51,779.54 L798.84,778.54 L799.16,777.54 L799.48,776.54 L799.81,775.55 L800.14,774.55 L800.46,773.55 L800.79,772.55 L801.12,771.55 L801.45,770.56 L801.78,769.56 L802.10,768.56 L802.43,767.56 L802.76,766.57 L803.09,765.57 L803.42,764.57 L803.75,763.57 L804.07,762.57 L804.40,761.58 L804.73,760.58 L805.06,759.58 L805.40,758.59 L805.73,757.59 L806.07,756.60 L806.42,755.61 L806.77,754.62 L807.13,753.63 L807.50,752.65 L807.87,751.66 L808.24,750.68 L808.61,749.70 L808.98,748.72 L809.36,747.73 L809.73,746.75 L810.10,745.77 L810.48,744.79 L810.85,743.81 L811.22,742.82 L811.59,741.84 L811.96,740.86 L812.32,739.87 L812.69,738.89 L813.05,737.90 L813.41,736.91 L813.76,735.93 L814.12,734.94 L814.48,733.95 L814.83,732.96 L815.19,731.97 L815.55,730.99 L815.90,730.00 L816.26,729.01 L816.63,728.03 L816.99,727.04 L817.37,726.06 L817.75,725.09 L818.15,724.11 L818.55,723.14 L818.96,722.18 L819.38,721.21 L819.79,720.25 L820.22,719.29 L820.64,718.32 L821.00,717.50" fill="none" stroke="#ff8000" stroke-width="5.5" stroke-linecap="round" stroke-linejoin="round"/>
<path d="M527.00,950.30 L528.05,950.28 L529.10,950.26 L530.15,950.23 L531.20,950.21 L532.25,950.19 L533.30,950.17 L534.35,950.15 L535.40,950.13 L536.45,950.10 L537.50,950.08 L538.55,950.06 L539.61,950.04 L540.66,950.02 L541.71,949.99 L542.76,949.97 L543.81,949.95 L544.86,949.93 L545.91,949.91 L546.96,949.89 L548.01,949.86 L549.06,949.84 L550.11,949.82 L551.16,949.80 L552.21,949.78 L553.26,949.75 L554.31,949.73 L555.36,949.71 L556.41,949.69 L557.46,949.67 L558.51,949.65 L559.56,949.62 L560.61,949.60 L561.66,949.58 L562.71,949.56 L563.76,949.54 L564.82,949.52 L565.87,949.49 L566.92,949.47 L567.97,949.45 L569.02,949.43 L570.07,949.41 L571.12,949.38 L572.17,949.36 L573.22,949.34 L574.27,949.32 L575.32,949.29 L576.37,949.27 L577.42,949.24 L578.47,949.21 L579.52,949.18 L580.57,949.14 L581.62,949.10 L582.67,949.05 L583.72,949.00 L584.77,948.94 L585.82,948.89 L586.87,948.83 L587.91,948.78 L588.96,948.72 L590.01,948.67 L591.06,948.61 L592.11,948.55 L593.16,948.50 L594.21,948.44 L595.26,948.39 L596.31,948.33 L597.36,948.27 L598.41,948.22 L599.46,948.16 L600.50,948.11 L601.55,948.05 L602.60,947.99 L603.65,947.94 L604.70,947.88 L605.75,947.83 L606.80,947.77 L607.85,947.71 L608.90,947.66 L609.95,947.60 L611.00,947.55 L612.05,947.49 L613.09,947.43 L614.14,947.38 L615.19,947.32 L616.24,947.27 L617.29,947.21 L618.34,947.15 L619.39,947.10 L620.44,947.04 L621.49,946.98 L622.54,946.92 L623.58,946.85 L624.63,946.79 L625.68,946.71 L626.73,946.63 L627.78,946.55 L628.82,946.46 L629.87,946.38 L630.92,946.29 L631.96,946.20 L633.01,946.11 L634.06,946.02 L635.10,945.92 L636.15,945.83 L637.20,945.74 L638.24,945.65 L639.29,945.56 L640.34,945.47 L641.38,945.38 L642.43,945.29 L643.48,945.20 L644.52,945.11 L645.57,945.02 L646.62,944.93 L647.66,944.84 L648.71,944.74 L649.76,944.65 L650.80,944.56 L651.85,944.47 L652.90,944.38 L653.94,944.28 L654.99,944.19 L656.04,944.09 L657.08,943.99 L658.13,943.88 L659.17,943.78 L660.22,943.68 L661.26,943.57 L662.31,943.47 L663.35,943.36 L664.40,943.26 L665.45,943.16 L666.49,943.05 L667.54,942.95 L668.58,942.84 L669.63,942.74 L670.67,942.63 L671.72,942.53 L672.76,942.42 L673.81,942.32 L674.85,942.21 L675.90,942.11 L676.94,942.01 L677.99,941.90 L679.04,941.80 L680.08,941.69 L681.13,941.59 L682.17,941.48 L683.22,941.38 L684.26,941.27 L685.31,941.16 L686.35,941.05 L687.39,940.93 L688.44,940.79 L689.47,940.65 L690.51,940.49 L691.55,940.31 L692.58,940.12 L693.61,939.92 L694.64,939.72 L695.67,939.51 L696.70,939.29 L697.72,939.08 L698.75,938.86 L699.78,938.65 L700.81,938.43 L701.84,938.21 L702.87,938.00 L703.89,937.78 L704.92,937.56 L705.95,937.34 L706.97,937.12 L708.00,936.88 L709.02,936.64 L710.04,936.39 L711.06,936.13 L712.07,935.86 L713.08,935.57 L714.09,935.28 L715.10,934.99 L716.10,934.68 L717.11,934.37 L718.11,934.06 L719.11,933.73 L720.10,933.39 L721.09,933.05 L722.08,932.70 L723.07,932.34 L724.05,931.97 L725.03,931.59 L726.00,931.19 L726.96,930.77 L727.91,930.33 L728.85,929.87 L729.79,929.40 L730.71,928.91 L731.64,928.41 L732.55,927.90 L733.46,927.38 L734.36,926.84 L735.25,926.28 L736.13,925.71 L736.99,925.12 L737.85,924.51 L738.70,923.89 L739.54,923.27 L740.38,922.63 L741.21,921.99 L742.03,921.34 L742.85,920.68 L743.65,920.01 L744.44,919.32 L745.21,918.62 L745.98,917.90 L746.73,917.17 L747.47,916.42 L748.19,915.67 L748.90,914.90 L749.59,914.11 L750.25,913.30 L750.90,912.48 L751.53,911.64 L752.14,910.79 L752.74,909.93 L753.33,909.06 L753.91,908.18 L754.48,907.30 L755.03,906.41 L755.58,905.51 L756.12,904.61 L756.65,903.71 L757.18,902.80 L757.69,901.88 L758.20,900.96 L758.70,900.04 L759.20,899.11 L759.69,898.19 L760.17,897.25 L760.66,896.32 L761.14,895.39 L761.62,894.45 L762.09,893.52 L762.57,892.58 L763.04,891.64 L763.51,890.70 L763.98,889.76 L764.44,888.82 L764.89,887.87 L765.34,886.92 L765.77,885.96 L766.20,885.00 L766.62,884.04 L767.04,883.08 L767.44,882.11 L767.83,881.13 L768.21,880.15 L768.57,879.17 L768.92,878.18 L769.26,877.19 L769.60,876.19 L769.93,875.19 L770.25,874.20 L770.58,873.20 L770.90,872.20 L771.22,871.20 L771.54,870.19 L771.85,869.19 L772.17,868.19 L772.48,867.19 L772.79,866.18 L773.10,865.18 L773.42,864.18 L773.73,863.17 L774.04,862.17 L774.35,861.17 L774.66,860.16 L774.97,859.16 L775.28,858.16 L775.59,857.15 L775.90,856.15 L776.21,855.14 L776.52,854.14 L776.83,853.14 L777.14,852.13 L777.45,851.13 L777.76,850.12 L778.06,849.12 L778.36,848.11 L778.67,847.11 L778.97,846.10 L779.27,845.09 L779.58,844.09 L779.88,843.08 L780.19,842.08 L780.50,841.07 L780.81,840.07 L781.12,839.07 L781.43,838.06 L781.75,837.06 L782.07,836.06 L782.38,835.06 L782.70,834.06 L783.01,833.05 L783.32,832.05 L783.63,831.05 L783.94,830.04 L784.25,829.04 L784.55,828.03 L784.86,827.03 L785.16,826.02 L785.46,825.01 L785.76,824.01 L786.06,823.00 L786.37,821.99 L786.67,820.99 L786.98,819.98 L787.29,818.98 L787.60,817.98 L787.91,816.97 L788.23,815.97 L788.55,814.97 L788.87,813.97 L789.19,812.97 L789.52,811.97 L789.84,810.97 L790.16,809.97 L790.49,808.97 L790.81,807.97 L791.13,806.97 L791.46,805.97 L791.78,804.97 L792.10,803.98 L792.43,802.98 L792.75,801.98 L793.07,800.98 L793.40,799.98 L793.72,798.98 L794.04,797.98 L794.37,796.98 L794.69,795.98 L795.01,794.98 L795.34,793.98 L795.66,792.98 L795.98,791.98 L796.31,790.98 L796.63,789.98 L796.95,788.98 L797.28,787.98 L797.60,786.98 L797.92,785.98 L798.24,784.98 L798.57,783.98 L798.89,782.98 L799.21,781.98 L799.54,780.98 L799.86,779.98 L800.18,778.98 L800.51,777.98 L800.83,776.98 L801.16,775.98 L801.48,774.99 L801.81,773.99 L802.13,772.99 L802.46,771.99 L802.79,770.99 L803.11,769.99 L803.44,768.99 L803.76,767.99 L804.09,766.99 L804.41,766.00 L804.74,765.00 L805.07,764.00 L805.39,763.00 L805.72,762.00 L806.04,761.00 L806.37,760.00 L806.70,759.00 L807.03,758.01 L807.36,757.01 L807.70,756.02 L808.04,755.02 L808.38,754.03 L808.74,753.04 L809.09,752.05 L809.45,751.06 L809.81,750.08 L810.17,749.09 L810.53,748.10 L810.89,747.12 L811.25,746.13 L811.61,745.14 L811.97,744.16 L812.33,743.17 L812.69,742.18 L813.04,741.19 L813.39,740.20 L813.74,739.21 L814.08,738.22 L814.42,737.22 L814.75,736.23 L815.09,735.23 L815.42,734.23 L815.75,733.24 L816.09,732.24 L816.42,731.24 L816.75,730.25 L817.09,729.25 L817.43,728.26 L817.78,727.27 L818.13,726.28 L818.50,725.30 L818.87,724.32 L819.26,723.34 L819.66,722.37 L820.06,721.40 L820.47,720.43 L820.89,719.47 L821.30,718.50" fill="none" stroke="#0000ff" stroke-width="5.5" stroke-linecap="round" stroke-linejoin="round"/>
<path d="M527.00,927.20 L528.05,927.18 L529.10,927.15 L530.15,927.13 L531.20,927.10 L532.25,927.08 L533.30,927.06 L534.35,927.03 L535.40,927.01 L536.45,926.99 L537.50,926.96 L538.55,926.94 L539.61,926.91 L540.66,926.89 L541.71,926.87 L542.76,926.84 L543.81,926.82 L544.86,926.80 L545.91,926.77 L546.96,926.75 L548.01,926.72 L549.06,926.70 L550.11,926.68 L551.16,926.65 L552.21,926.63 L553.26,926.61 L554.31,926.58 L555.36,926.56 L556.41,926.53 L557.46,926.51 L558.51,926.49 L559.56,926.46 L560.61,926.44 L561.66,926.42 L562.71,926.39 L563.77,926.37 L564.82,926.34 L565.87,926.32 L566.92,926.30 L567.97,926.27 L569.02,926.25 L570.07,926.22 L571.12,926.20 L572.17,926.18 L573.22,926.15 L574.27,926.13 L575.32,926.11 L576.37,926.08 L577.42,926.06 L578.47,926.03 L579.52,926.01 L580.57,925.98 L581.62,925.95 L582.67,925.93 L583.72,925.90 L584.77,925.87 L585.82,925.84 L586.87,925.81 L587.92,925.78 L588.97,925.75 L590.03,925.72 L591.08,925.70 L592.13,925.67 L593.18,925.64 L594.23,925.61 L595.28,925.58 L596.33,925.55 L597.38,925.52 L598.43,925.49 L599.48,925.46 L600.53,925.44 L601.58,925.41 L602.63,925.38 L603.68,925.35 L604.73,925.32 L605.78,925.29 L606.83,925.26 L607.88,925.23 L608.93,925.20 L609.98,925.18 L611.03,925.15 L612.08,925.12 L613.13,925.09 L614.18,925.06 L615.23,925.03 L616.28,924.99 L617.33,924.96 L618.38,924.92 L619.43,924.87 L620.48,924.82 L621.53,924.75 L622.58,924.69 L623.63,924.61 L624.67,924.54 L625.72,924.46 L626.77,924.38 L627.82,924.30 L628.86,924.22 L629.91,924.14 L630.96,924.06 L632.01,923.98 L633.05,923.90 L634.10,923.82 L635.15,923.74 L636.20,923.66 L637.24,923.58 L638.29,923.50 L639.34,923.42 L640.39,923.34 L641.44,923.26 L642.48,923.18 L643.53,923.10 L644.58,923.01 L645.63,922.93 L646.67,922.85 L647.72,922.77 L648.77,922.70 L649.82,922.62 L650.86,922.54 L651.91,922.47 L652.96,922.40 L654.01,922.33 L655.06,922.27 L656.11,922.22 L657.16,922.16 L658.21,922.11 L659.26,922.06 L660.31,922.02 L661.35,921.97 L662.40,921.92 L663.45,921.88 L664.50,921.83 L665.55,921.78 L666.60,921.74 L667.65,921.69 L668.70,921.64 L669.75,921.60 L670.80,921.55 L671.85,921.50 L672.90,921.46 L673.95,921.41 L675.00,921.36 L676.05,921.32 L677.10,921.27 L678.15,921.23 L679.20,921.18 L680.25,921.13 L681.30,921.09 L682.35,921.04 L683.40,920.99 L684.45,920.94 L685.50,920.89 L686.55,920.83 L687.59,920.77 L688.64,920.69 L689.68,920.59 L690.73,920.48 L691.77,920.36 L692.81,920.22 L693.85,920.07 L694.89,919.91 L695.92,919.75 L696.96,919.58 L698.00,919.42 L699.04,919.25 L700.07,919.09 L701.11,918.92 L702.15,918.76 L703.19,918.59 L704.22,918.42 L705.26,918.26 L706.30,918.09 L707.34,917.92 L708.37,917.75 L709.41,917.58 L710.45,917.41 L711.48,917.23 L712.52,917.05 L713.55,916.87 L714.59,916.68 L715.62,916.49 L716.65,916.30 L717.68,916.09 L718.71,915.88 L719.74,915.66 L720.76,915.44 L721.79,915.20 L722.81,914.95 L723.82,914.70 L724.84,914.43 L725.85,914.14 L726.85,913.83 L727.84,913.50 L728.83,913.16 L729.82,912.79 L730.79,912.42 L731.77,912.03 L732.74,911.62 L733.70,911.21 L734.65,910.77 L735.60,910.32 L736.54,909.85 L737.47,909.36 L738.38,908.86 L739.29,908.33 L740.19,907.80 L741.08,907.24 L741.96,906.67 L742.83,906.09 L743.69,905.49 L744.54,904.87 L745.38,904.24 L746.21,903.60 L747.02,902.94 L747.83,902.26 L748.61,901.57 L749.39,900.86 L750.15,900.14 L750.89,899.40 L751.62,898.65 L752.33,897.88 L753.03,897.10 L753.72,896.31 L754.39,895.50 L755.05,894.68 L755.69,893.85 L756.31,893.01 L756.93,892.16 L757.52,891.30 L758.11,890.42 L758.68,889.54 L759.24,888.66 L759.79,887.76 L760.33,886.86 L760.85,885.95 L761.37,885.04 L761.88,884.12 L762.39,883.20 L762.89,882.28 L763.38,881.35 L763.87,880.42 L764.35,879.49 L764.83,878.55 L765.30,877.61 L765.76,876.67 L766.22,875.72 L766.66,874.77 L767.10,873.81 L767.52,872.85 L767.94,871.89 L768.35,870.93 L768.76,869.96 L769.16,868.99 L769.55,868.01 L769.93,867.03 L770.31,866.05 L770.68,865.07 L771.05,864.09 L771.42,863.10 L771.78,862.12 L772.15,861.13 L772.51,860.14 L772.87,859.16 L773.24,858.17 L773.60,857.19 L773.96,856.20 L774.32,855.21 L774.68,854.22 L775.04,853.24 L775.39,852.25 L775.75,851.26 L776.10,850.27 L776.45,849.28 L776.80,848.29 L777.14,847.30 L777.49,846.30 L777.84,845.31 L778.18,844.32 L778.52,843.32 L778.85,842.33 L779.19,841.33 L779.51,840.33 L779.84,839.33 L780.16,838.34 L780.48,837.33 L780.80,836.33 L781.12,835.33 L781.44,834.33 L781.77,833.33 L782.09,832.33 L782.42,831.34 L782.75,830.34 L783.08,829.34 L783.42,828.35 L783.76,827.35 L784.10,826.36 L784.44,825.36 L784.78,824.37 L785.12,823.38 L785.46,822.38 L785.80,821.39 L786.14,820.39 L786.47,819.40 L786.80,818.40 L787.13,817.40 L787.46,816.40 L787.78,815.40 L788.10,814.40 L788.42,813.40 L788.74,812.40 L789.06,811.40 L789.38,810.40 L789.70,809.40 L790.02,808.40 L790.34,807.39 L790.65,806.39 L790.97,805.39 L791.29,804.39 L791.61,803.39 L791.92,802.39 L792.24,801.38 L792.55,800.38 L792.87,799.38 L793.18,798.38 L793.49,797.37 L793.80,796.37 L794.12,795.37 L794.43,794.36 L794.74,793.36 L795.05,792.36 L795.36,791.35 L795.67,790.35 L795.98,789.35 L796.29,788.34 L796.60,787.34 L796.92,786.33 L797.23,785.33 L797.54,784.33 L797.85,783.32 L798.16,782.32 L798.47,781.32 L798.79,780.31 L799.10,779.31 L799.42,778.31 L799.73,777.31 L800.05,776.31 L800.37,775.30 L800.69,774.30 L801.01,773.30 L801.33,772.30 L801.65,771.30 L801.98,770.30 L802.30,769.30 L802.62,768.30 L802.94,767.30 L803.26,766.30 L803.59,765.30 L803.91,764.30 L804.23,763.30 L804.55,762.30 L804.87,761.30 L805.20,760.30 L805.52,759.30 L805.85,758.30 L806.18,757.31 L806.51,756.31 L806.85,755.32 L807.20,754.32 L807.55,753.33 L807.90,752.35 L808.27,751.36 L808.63,750.37 L809.00,749.39 L809.36,748.40 L809.73,747.42 L810.10,746.44 L810.46,745.45 L810.83,744.47 L811.20,743.48 L811.56,742.50 L811.92,741.51 L812.28,740.52 L812.63,739.53 L812.98,738.54 L813.33,737.55 L813.68,736.56 L814.02,735.57 L814.36,734.57 L814.71,733.58 L815.05,732.59 L815.39,731.59 L815.73,730.60 L816.08,729.61 L816.42,728.61 L816.77,727.62 L817.12,726.63 L817.48,725.65 L817.85,724.66 L818.23,723.69 L818.62,722.71 L819.03,721.74 L819.44,720.78 L819.86,719.81 L820.28,718.85 L820.70,717.89 L821.00,717.20" fill="none" stroke="#800080" stroke-width="5.5" stroke-linecap="round" stroke-linejoin="round"/>
<rect x="489.10" y="646.80" width="365.10" height="365.60" fill="none" stroke="#000" stroke-width="2.3"/>
<line x1="524.60" y1="1012.40" x2="524.60" y2="1001.40" stroke="#000" stroke-width="2.2" stroke-linecap="butt"/>
<line x1="646.46" y1="1012.40" x2="646.46" y2="1006.40" stroke="#000" stroke-width="2.2" stroke-linecap="butt"/>
<line x1="732.91" y1="1012.40" x2="732.91" y2="1001.40" stroke="#000" stroke-width="2.2" stroke-linecap="butt"/>
<line x1="799.97" y1="1012.40" x2="799.97" y2="1006.40" stroke="#000" stroke-width="2.2" stroke-linecap="butt"/>
<line x1="854.20" y1="683.30" x2="843.20" y2="683.30" stroke="#000" stroke-width="2.2" stroke-linecap="butt"/>
<line x1="854.20" y1="757.20" x2="848.20" y2="757.20" stroke="#000" stroke-width="2.2" stroke-linecap="butt"/>
<line x1="854.20" y1="831.10" x2="843.20" y2="831.10" stroke="#000" stroke-width="2.2" stroke-linecap="butt"/>
<line x1="854.20" y1="905.00" x2="848.20" y2="905.00" stroke="#000" stroke-width="2.2" stroke-linecap="butt"/>
<line x1="854.20" y1="978.90" x2="843.20" y2="978.90" stroke="#000" stroke-width="2.2" stroke-linecap="butt"/>
<g transform="translate(524.60,1050.50) scale(1,1.03)" fill="#000"><path d="M763,0 L583,0 L583,1147 Q518,1085 412,1023 Q306,961 222,930 L222,1104 Q373,1175 486,1276 Q599,1377 646,1472 L763,1472 Z" transform="translate(-9.18,0) scale(0.01611,-0.01611)"/></g>
<g transform="translate(732.91,1050.50) scale(1,1.03)" fill="#000"><text x="-9.18" y="0" font-size="33" xml:space="preserve">2</text></g>
<g transform="translate(854.77,1050.50) scale(1,1.03)" fill="#000"><text x="-9.18" y="0" font-size="33" xml:space="preserve">3</text></g>
<g transform="translate(865.50,694.00) scale(1,1.03)" fill="#000"><text x="0.00" y="0" font-size="33" xml:space="preserve">-4</text></g>
<g transform="translate(865.50,841.80) scale(1,1.03)" fill="#000"><text x="0.00" y="0" font-size="33" xml:space="preserve">-8</text></g>
<g transform="translate(865.50,989.60) scale(1,1.03)" fill="#000"><text x="0.00" y="0" font-size="33" xml:space="preserve">-</text><path d="M763,0 L583,0 L583,1147 Q518,1085 412,1023 Q306,961 222,930 L222,1104 Q373,1175 486,1276 Q599,1377 646,1472 L763,1472 Z" transform="translate(10.99,0) scale(0.01611,-0.01611)"/><text x="29.34" y="0" font-size="33" xml:space="preserve">2</text></g>
<g transform="translate(625.40,1088.00) scale(1,1.03)" fill="#000"><text x="0.00" y="0" font-size="36" xml:space="preserve">log (T)</text></g>
<g transform="translate(937.70,879.30) rotate(-90) scale(1,1.03)" fill="#000"><text x="0.00" y="0" font-size="36" xml:space="preserve">log (</text></g>
<g transform="translate(937.70,793.55) rotate(-90) scale(1.12,1)" fill="#000"><text x="-12.50" y="0" font-size="40.5" xml:space="preserve">σ</text></g>
<g transform="translate(937.70,778.80) rotate(-90) scale(1,1.03)" fill="#000"><text x="0.00" y="0" font-size="36" xml:space="preserve">)</text></g>
<g transform="translate(497.50,698.50) scale(1,1.03)" fill="#000"><text x="0.00" y="0" font-size="47" font-weight="bold" xml:space="preserve">d</text></g>
<g transform="translate(133.40,169.40) scale(1,1.03)" fill="#008080"><path d="M763,0 L583,0 L583,1147 Q518,1085 412,1023 Q306,961 222,930 L222,1104 Q373,1175 486,1276 Q599,1377 646,1472 L763,1472 Z" transform="translate(0.00,0) scale(0.01611,-0.01611)"/><text x="18.35" y="0" font-size="33" xml:space="preserve"> MHz</text></g>
<g transform="translate(205.90,323.00) scale(1,1.03)" fill="#0000ff"><path d="M763,0 L583,0 L583,1147 Q518,1085 412,1023 Q306,961 222,930 L222,1104 Q373,1175 486,1276 Q599,1377 646,1472 L763,1472 Z" transform="translate(0.00,0) scale(0.01611,-0.01611)"/><text x="18.35" y="0" font-size="33" xml:space="preserve">0 Hz</text></g>
<g transform="translate(152.90,793.50) scale(1,1.03)" fill="#008080"><path d="M763,0 L583,0 L583,1147 Q518,1085 412,1023 Q306,961 222,930 L222,1104 Q373,1175 486,1276 Q599,1377 646,1472 L763,1472 Z" transform="translate(0.00,0) scale(0.01611,-0.01611)"/><text x="18.35" y="0" font-size="33" xml:space="preserve"> MHz</text></g>
<g transform="translate(147.40,897.00) scale(1,1.03)" fill="#0000ff"><path d="M763,0 L583,0 L583,1147 Q518,1085 412,1023 Q306,961 222,930 L222,1104 Q373,1175 486,1276 Q599,1377 646,1472 L763,1472 Z" transform="translate(0.00,0) scale(0.01611,-0.01611)"/><text x="18.35" y="0" font-size="33" xml:space="preserve">0 Hz</text></g>
<g transform="translate(607.20,189.80) scale(1,1.03)" fill="#008080"><path d="M763,0 L583,0 L583,1147 Q518,1085 412,1023 Q306,961 222,930 L222,1104 Q373,1175 486,1276 Q599,1377 646,1472 L763,1472 Z" transform="translate(0.00,0) scale(0.01611,-0.01611)"/><text x="18.35" y="0" font-size="33" xml:space="preserve"> MHz</text></g>
<g transform="translate(606.10,391.90) scale(1,1.03)" fill="#0000ff"><path d="M763,0 L583,0 L583,1147 Q518,1085 412,1023 Q306,961 222,930 L222,1104 Q373,1175 486,1276 Q599,1377 646,1472 L763,1472 Z" transform="translate(0.00,0) scale(0.01611,-0.01611)"/><text x="18.35" y="0" font-size="33" xml:space="preserve">0 Hz</text></g>
<g transform="translate(567.40,761.00) scale(1,1.03)" fill="#008080"><path d="M763,0 L583,0 L583,1147 Q518,1085 412,1023 Q306,961 222,930 L222,1104 Q373,1175 486,1276 Q599,1377 646,1472 L763,1472 Z" transform="translate(0.00,0) scale(0.01611,-0.01611)"/><text x="18.35" y="0" font-size="33" xml:space="preserve"> MHz</text></g>
<g transform="translate(589.00,989.60) scale(1,1.03)" fill="#0000ff"><path d="M763,0 L583,0 L583,1147 Q518,1085 412,1023 Q306,961 222,930 L222,1104 Q373,1175 486,1276 Q599,1377 646,1472 L763,1472 Z" transform="translate(0.00,0) scale(0.01611,-0.01611)"/><text x="18.35" y="0" font-size="33" xml:space="preserve">0 Hz</text></g>
<line x1="595.60" y1="373.60" x2="595.60" y2="175.20" stroke="#000" stroke-width="2.7" stroke-linecap="round"/>
<path d="M595.60,168.20 L602.20,181.80 L595.60,178.80 L589.00,181.80 Z" fill="#000" stroke="#000" stroke-width="2.4" stroke-linejoin="round"/>
<line x1="685.60" y1="958.10" x2="685.60" y2="762.20" stroke="#000" stroke-width="2.7" stroke-linecap="round"/>
<path d="M685.60,755.20 L692.20,768.80 L685.60,765.80 L679.00,768.80 Z" fill="#000" stroke="#000" stroke-width="2.4" stroke-linejoin="round"/>
</svg></body></html>
